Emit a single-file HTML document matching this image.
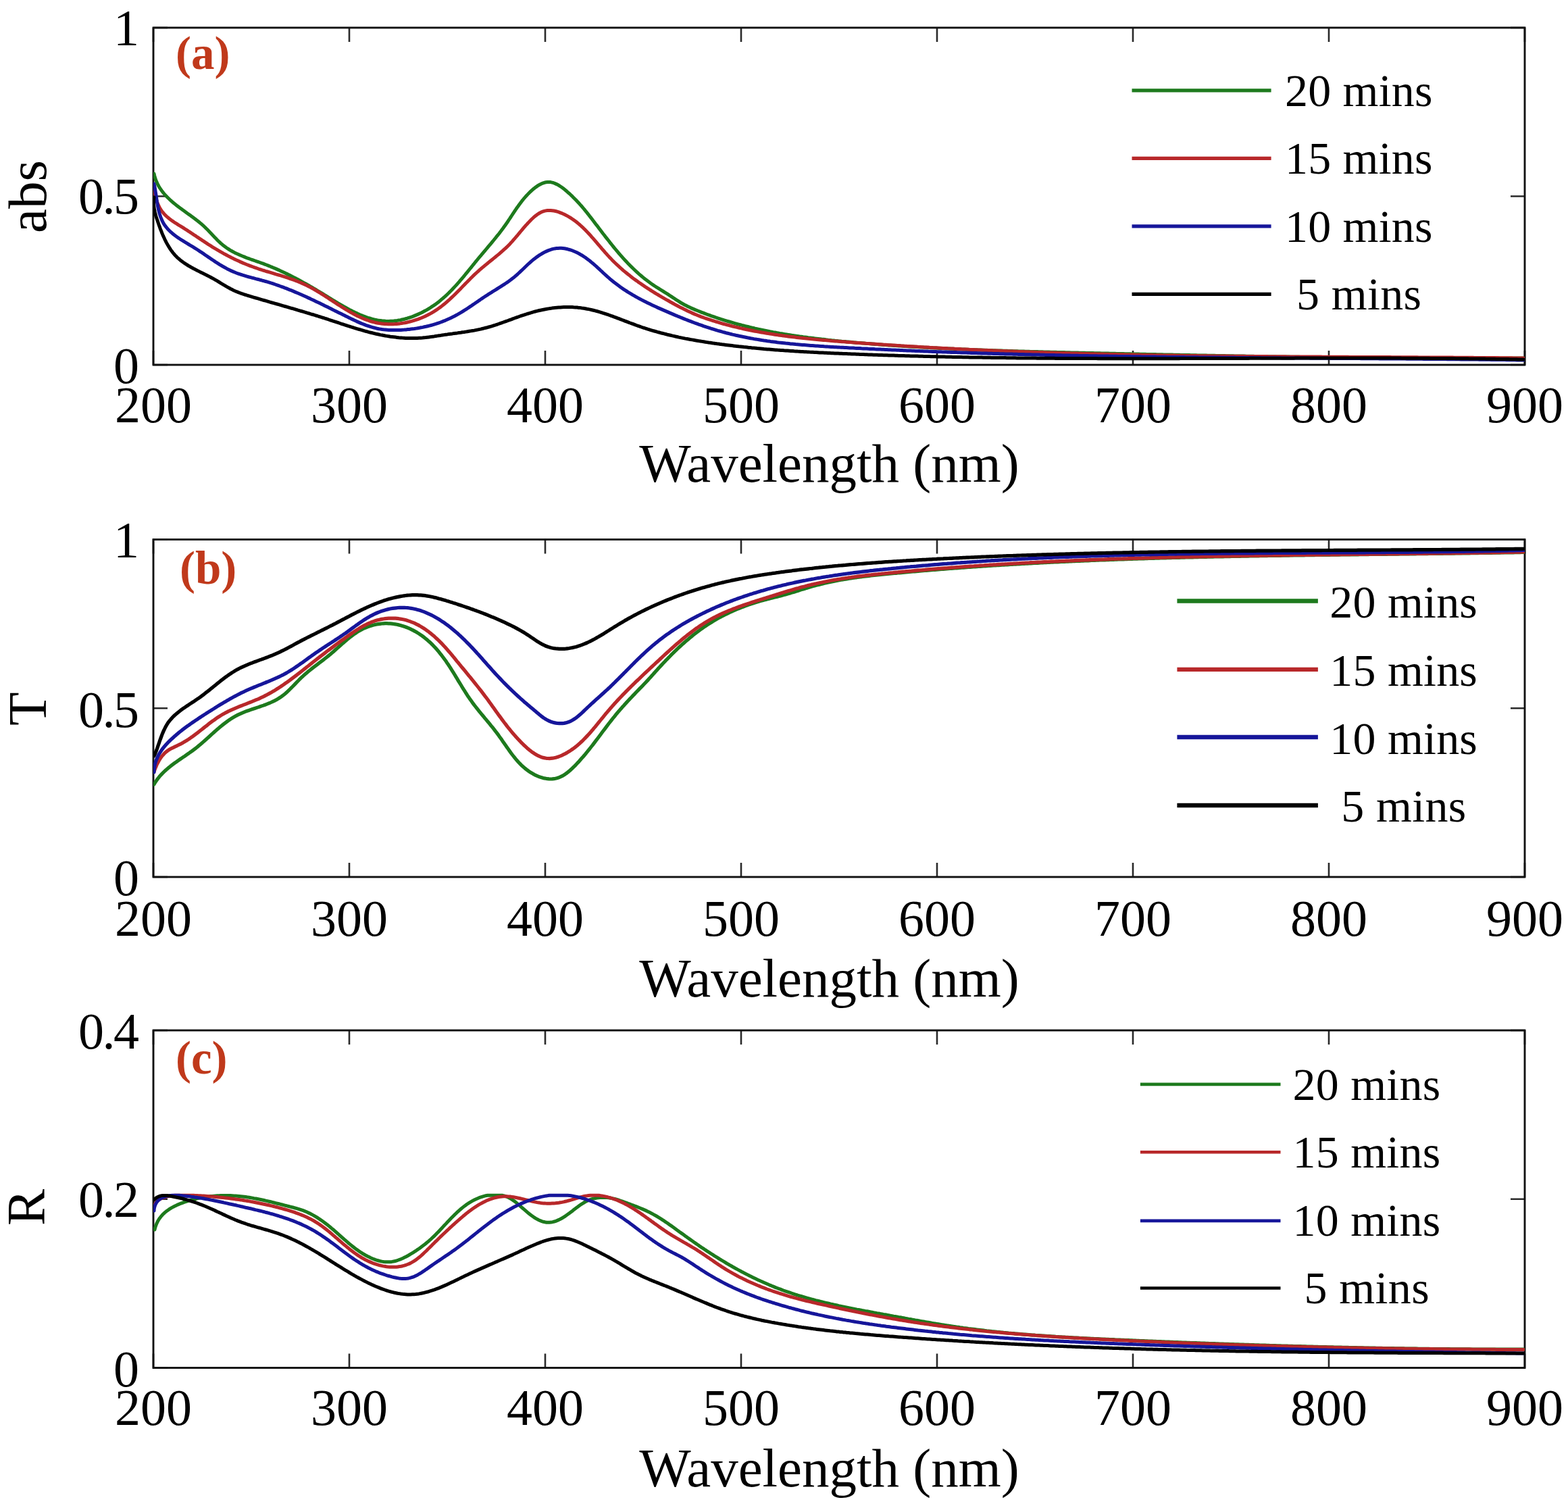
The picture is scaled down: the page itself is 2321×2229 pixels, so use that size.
<!DOCTYPE html>
<html><head><meta charset="utf-8"><title>Spectra</title>
<style>html,body{margin:0;padding:0;background:#fff;}svg{display:block;}text{font-family:"Liberation Serif", "Times New Roman", serif;fill:#000;}</style></head><body>
<svg xmlns="http://www.w3.org/2000/svg" width="2321" height="2229" viewBox="0 0 2321 2229">
<rect width="2321" height="2229" fill="#fff"/>
<g id="panel-a">
<path d="M227,540 V519 M227,41 V62 M517,540 V519 M517,41 V62 M807,540 V519 M807,41 V62 M1097,540 V519 M1097,41 V62 M1387,540 V519 M1387,41 V62 M1677,540 V519 M1677,41 V62 M1967,540 V519 M1967,41 V62 M2257,540 V519 M2257,41 V62 M227,540 H248 M2257,540 H2236 M227,290.5 H248 M2257,290.5 H2236 M227,41 H248 M2257,41 H2236" stroke="#2a2a2a" stroke-width="2.6" fill="none"/>
<rect x="227" y="41" width="2030" height="499" fill="none" stroke="#111" stroke-width="2.9"/>
<clipPath id="clip-a"><rect x="227" y="41" width="2030" height="499"/></clipPath>
<g clip-path="url(#clip-a)" fill="none" stroke-width="5" stroke-linejoin="round" stroke-linecap="round">
<path stroke="#1d7a1d" d="M228.0,257.0L228.6,259.6 229.3,262.1 230.0,264.6 230.9,267.0 231.9,269.3 232.9,271.6 234.0,273.8 235.2,276.0 236.5,278.1 237.9,280.1 239.3,282.2 240.8,284.1 242.3,286.0 243.9,287.9 245.6,289.7 247.3,291.5 249.1,293.3 250.9,295.0 252.7,296.7 254.6,298.4 256.5,300.0 258.5,301.6 260.4,303.2 262.4,304.7 264.4,306.3 266.4,307.8 268.5,309.3 270.5,310.8 272.6,312.3 274.6,313.7 276.6,315.2 278.7,316.7 280.7,318.1 282.7,319.6 284.7,321.0 286.7,322.5 288.7,324.0 290.6,325.5 292.6,327.0 294.5,328.5 296.4,330.1 298.3,331.7 300.2,333.3 302.0,335.0 303.8,336.7 305.6,338.5 307.4,340.2 309.1,342.1 310.9,343.9 312.6,345.7 314.3,347.6 316.1,349.4 317.8,351.3 319.6,353.1 321.4,354.9 323.2,356.7 325.0,358.4 326.8,360.1 328.7,361.7 330.6,363.3 332.6,364.8 334.6,366.3 336.6,367.7 338.7,369.0 340.8,370.3 342.9,371.5 345.1,372.7 347.3,373.9 349.5,375.0 351.8,376.0 354.1,377.1 356.4,378.0 358.7,379.0 361.0,379.9 363.3,380.9 365.7,381.8 368.1,382.6 370.4,383.5 372.8,384.3 375.2,385.2 377.6,386.0 380.0,386.9 382.3,387.7 384.7,388.5 387.1,389.4 389.5,390.2 391.8,391.1 394.2,392.0 396.5,392.9 398.8,393.8 401.1,394.8 403.4,395.7 405.7,396.7 408.0,397.6 410.2,398.6 412.5,399.6 414.8,400.7 417.0,401.7 419.2,402.7 421.5,403.8 423.7,404.9 425.9,405.9 428.1,407.0 430.3,408.1 432.5,409.3 434.7,410.4 436.9,411.5 439.1,412.7 441.2,413.8 443.4,415.0 445.6,416.2 447.7,417.4 449.9,418.6 452.1,419.8 454.2,421.0 456.4,422.2 458.5,423.5 460.7,424.7 462.9,426.0 465.0,427.3 467.2,428.5 469.3,429.8 471.5,431.1 473.6,432.4 475.8,433.7 477.9,435.0 480.1,436.3 482.3,437.6 484.4,439.0 486.6,440.3 488.8,441.6 491.0,443.0 493.1,444.3 495.3,445.6 497.5,447.0 499.7,448.3 501.9,449.6 504.1,450.9 506.3,452.2 508.5,453.5 510.8,454.7 513.0,456.0 515.2,457.2 517.4,458.4 519.7,459.5 521.9,460.7 524.2,461.8 526.4,462.9 528.7,463.9 531.0,465.0 533.2,466.0 535.5,466.9 537.8,467.8 540.1,468.7 542.4,469.5 544.7,470.3 547.1,471.0 549.4,471.7 551.7,472.3 554.1,472.9 556.4,473.4 558.8,473.9 561.2,474.3 563.6,474.6 565.9,474.9 568.3,475.1 570.8,475.3 573.2,475.4 575.6,475.4 578.0,475.3 580.5,475.2 582.9,475.0 585.4,474.7 587.9,474.4 590.3,474.0 592.8,473.6 595.2,473.0 597.7,472.5 600.2,471.8 602.6,471.2 605.0,470.4 607.5,469.6 609.9,468.8 612.3,467.9 614.7,466.9 617.1,465.9 619.4,464.9 621.8,463.8 624.1,462.7 626.4,461.5 628.6,460.3 630.9,459.1 633.1,457.8 635.3,456.5 637.5,455.1 639.6,453.7 641.7,452.3 643.8,450.9 645.8,449.4 647.8,447.9 649.8,446.4 651.7,444.8 653.6,443.2 655.5,441.6 657.4,440.0 659.2,438.4 661.0,436.7 662.8,435.0 664.6,433.3 666.3,431.5 668.1,429.8 669.8,428.0 671.4,426.2 673.1,424.4 674.8,422.6 676.4,420.8 678.1,418.9 679.7,417.1 681.3,415.2 682.9,413.3 684.5,411.5 686.1,409.6 687.6,407.7 689.2,405.7 690.8,403.8 692.4,401.9 693.9,400.0 695.5,398.0 697.1,396.1 698.6,394.2 700.2,392.2 701.8,390.3 703.4,388.3 704.9,386.4 706.5,384.5 708.1,382.5 709.7,380.6 711.4,378.7 713.0,376.7 714.6,374.8 716.2,372.9 717.9,371.0 719.5,369.0 721.1,367.1 722.7,365.2 724.4,363.2 726.0,361.3 727.6,359.4 729.2,357.4 730.8,355.5 732.4,353.5 734.0,351.6 735.5,349.6 737.1,347.7 738.7,345.7 740.2,343.7 741.7,341.8 743.2,339.8 744.7,337.8 746.1,335.8 747.6,333.7 749.0,331.7 750.4,329.7 751.8,327.7 753.1,325.6 754.5,323.6 755.9,321.5 757.2,319.5 758.6,317.4 759.9,315.4 761.3,313.3 762.7,311.3 764.0,309.2 765.4,307.2 766.9,305.2 768.3,303.2 769.8,301.2 771.3,299.2 772.8,297.2 774.4,295.3 776.0,293.3 777.7,291.4 779.4,289.5 781.2,287.6 783.0,285.7 784.9,283.9 786.8,282.1 788.8,280.3 790.8,278.7 792.9,277.1 795.0,275.6 797.1,274.2 799.3,273.0 801.5,271.9 803.7,271.0 805.9,270.3 808.2,269.8 810.4,269.5 812.7,269.4 815.0,269.6 817.2,270.1 819.5,270.7 821.7,271.6 823.9,272.6 826.1,273.7 828.3,275.1 830.5,276.5 832.6,278.0 834.7,279.6 836.8,281.3 838.8,283.0 840.8,284.8 842.8,286.5 844.7,288.3 846.6,290.1 848.4,291.9 850.2,293.7 852.0,295.5 853.7,297.3 855.5,299.2 857.2,301.0 858.8,302.9 860.5,304.7 862.1,306.6 863.7,308.5 865.3,310.4 866.8,312.3 868.4,314.2 869.9,316.1 871.4,318.0 872.9,320.0 874.4,321.9 875.9,323.8 877.4,325.8 878.9,327.7 880.4,329.7 881.9,331.7 883.4,333.6 884.9,335.6 886.4,337.6 887.9,339.5 889.4,341.5 890.9,343.5 892.4,345.5 894.0,347.5 895.5,349.4 897.0,351.4 898.6,353.4 900.1,355.3 901.7,357.3 903.2,359.3 904.8,361.2 906.4,363.2 907.9,365.1 909.5,367.1 911.1,369.0 912.7,370.9 914.4,372.9 916.0,374.8 917.6,376.7 919.3,378.6 920.9,380.4 922.6,382.3 924.3,384.2 926.0,386.0 927.7,387.8 929.4,389.7 931.2,391.5 932.9,393.2 934.7,395.0 936.5,396.8 938.3,398.5 940.1,400.2 941.9,401.9 943.8,403.6 945.6,405.3 947.5,406.9 949.4,408.5 951.3,410.1 953.2,411.7 955.2,413.3 957.2,414.8 959.2,416.3 961.2,417.8 963.2,419.3 965.2,420.7 967.3,422.1 969.4,423.5 971.5,424.9 973.6,426.2 975.8,427.5 977.9,428.9 980.0,430.2 982.2,431.5 984.3,432.8 986.4,434.1 988.5,435.4 990.6,436.8 992.6,438.2 994.7,439.5 996.7,440.9 998.8,442.2 1000.8,443.6 1002.9,444.9 1004.9,446.2 1007.0,447.5 1009.1,448.8 1011.3,450.0 1013.5,451.2 1015.7,452.3 1017.9,453.4 1020.2,454.5 1022.4,455.6 1024.7,456.6 1027.1,457.6 1029.4,458.6 1031.7,459.5 1034.1,460.5 1036.4,461.4 1038.7,462.3 1041.1,463.2 1043.5,464.1 1045.8,465.0 1048.2,465.9 1050.5,466.7 1052.9,467.6 1055.3,468.4 1057.6,469.2 1060.0,470.0 1062.4,470.8 1064.8,471.6 1067.1,472.4 1069.5,473.1 1071.9,473.9 1074.3,474.6 1076.7,475.3 1079.1,476.0 1081.5,476.7 1083.9,477.4 1086.3,478.1 1088.7,478.8 1091.1,479.5 1093.5,480.1 1095.9,480.7 1098.3,481.4 1100.7,482.0 1103.2,482.6 1105.6,483.2 1108.0,483.8 1110.4,484.4 1112.8,485.0 1115.3,485.5 1117.7,486.1 1120.1,486.6 1122.6,487.2 1125.0,487.7 1127.4,488.2 1129.9,488.7 1132.3,489.2 1134.8,489.7 1137.2,490.2 1139.7,490.7 1142.1,491.1 1144.6,491.6 1147.0,492.0 1149.5,492.5 1151.9,492.9 1154.4,493.4 1156.8,493.8 1159.3,494.2 1161.8,494.6 1164.2,495.0 1166.7,495.4 1169.1,495.8 1171.6,496.2 1174.1,496.6 1176.5,496.9 1179.0,497.3 1181.5,497.6 1184.0,498.0 1186.4,498.3 1188.9,498.7 1191.4,499.0 1193.8,499.3 1196.3,499.7 1198.8,500.0 1201.3,500.3 1203.8,500.6 1206.2,500.9 1208.7,501.2 1211.2,501.5 1213.7,501.8 1216.2,502.1 1218.7,502.3 1221.1,502.6 1223.6,502.9 1226.1,503.2 1228.6,503.4 1231.1,503.7 1233.6,503.9 1236.1,504.2 1238.5,504.4 1241.0,504.7 1243.5,504.9 1246.0,505.2 1248.5,505.4 1251.0,505.6 1253.5,505.9 1256.0,506.1 1258.5,506.3 1261.0,506.5 1263.4,506.8 1265.9,507.0 1268.4,507.2 1270.9,507.4 1273.4,507.6 1275.9,507.8 1278.4,508.0 1280.9,508.2 1283.4,508.4 1285.9,508.6 1288.4,508.8 1290.9,509.0 1293.3,509.2 1295.8,509.4 1298.3,509.6 1300.8,509.8 1303.3,510.0 1305.8,510.2 1308.3,510.4 1310.8,510.5 1313.3,510.7 1315.8,510.9 1318.3,511.1 1320.8,511.2 1323.3,511.4 1325.8,511.6 1328.2,511.8 1330.7,511.9 1333.2,512.1 1335.7,512.2 1338.2,512.4 1340.7,512.6 1343.2,512.7 1345.7,512.9 1348.2,513.0 1350.7,513.2 1353.2,513.3 1355.7,513.5 1358.2,513.6 1360.7,513.8 1363.2,513.9 1365.7,514.0 1368.2,514.2 1370.6,514.3 1373.1,514.5 1375.6,514.6 1378.1,514.7 1380.6,514.9 1383.1,515.0 1385.6,515.1 1388.1,515.2 1390.6,515.4 1393.1,515.5 1395.6,515.6 1398.1,515.7 1400.6,515.9 1403.1,516.0 1405.6,516.1 1408.1,516.2 1410.6,516.3 1413.1,516.4 1415.6,516.5 1418.1,516.7 1420.6,516.8 1423.1,516.9 1425.6,517.0 1428.0,517.1 1430.5,517.2 1433.0,517.3 1435.5,517.4 1438.0,517.5 1440.5,517.6 1443.0,517.7 1445.5,517.8 1448.0,517.9 1450.5,518.0 1453.0,518.1 1455.5,518.2 1458.0,518.2 1460.5,518.3 1463.0,518.4 1465.5,518.5 1468.0,518.6 1470.5,518.7 1473.0,518.8 1475.5,518.9 1478.0,518.9 1480.5,519.0 1483.0,519.1 1485.5,519.2 1488.0,519.3 1490.5,519.3 1493.0,519.4 1495.5,519.5 1498.0,519.6 1500.5,519.7 1503.0,519.7 1505.5,519.8 1508.0,519.9 1510.5,520.0 1513.0,520.0 1515.4,520.1 1517.9,520.2 1520.4,520.2 1522.9,520.3 1525.4,520.4 1527.9,520.4 1530.4,520.5 1532.9,520.6 1535.4,520.6 1537.9,520.7 1540.4,520.8 1542.9,520.8 1545.4,520.9 1547.9,521.0 1550.4,521.0 1552.9,521.1 1555.4,521.2 1557.9,521.2 1560.4,521.3 1562.9,521.3 1565.4,521.4 1567.9,521.5 1570.4,521.5 1572.9,521.6 1575.4,521.6 1577.9,521.7 1580.4,521.8 1582.9,521.8 1585.4,521.9 1587.9,521.9 1590.4,522.0 1592.9,522.1 1595.4,522.1 1597.9,522.2 1600.4,522.2 1602.9,522.3 1605.4,522.3 1607.9,522.4 1610.4,522.5 1612.9,522.5 1615.4,522.6 1617.9,522.6 1620.4,522.7 1622.9,522.7 1625.4,522.8 1627.9,522.8 1630.4,522.9 1632.9,523.0 1635.4,523.0 1637.9,523.1 1640.4,523.1 1642.9,523.2 1645.4,523.2 1647.9,523.3 1650.4,523.3 1652.8,523.4 1655.3,523.5 1657.8,523.5 1660.3,523.6 1662.8,523.6 1665.3,523.7 1667.8,523.7 1670.3,523.8 1672.8,523.8 1675.3,523.9 1677.8,523.9 1680.3,524.0 1682.8,524.1 1685.3,524.1 1687.8,524.2 1690.3,524.2 1692.8,524.3 1695.3,524.3 1697.8,524.4 1700.3,524.4 1702.8,524.5 1705.3,524.5 1707.8,524.6 1710.3,524.6 1712.8,524.7 1715.3,524.7 1717.8,524.8 1720.3,524.8 1722.8,524.9 1725.3,524.9 1727.8,525.0 1730.3,525.0 1732.8,525.1 1735.3,525.1 1737.8,525.2 1740.3,525.2 1742.8,525.3 1745.3,525.3 1747.8,525.4 1750.3,525.4 1752.8,525.5 1755.3,525.5 1757.8,525.6 1760.3,525.6 1762.8,525.7 1765.3,525.7 1767.8,525.8 1770.3,525.8 1772.8,525.9 1775.3,525.9 1777.8,526.0 1780.3,526.0 1782.8,526.1 1785.3,526.1 1787.8,526.2 1790.3,526.2 1792.8,526.2 1795.2,526.3 1797.7,526.3 1800.2,526.4 1802.7,526.4 1805.2,526.5 1807.7,526.5 1810.2,526.6 1812.7,526.6 1815.2,526.7 1817.7,526.7 1820.2,526.7 1822.7,526.8 1825.2,526.8 1827.7,526.9 1830.2,526.9 1832.7,527.0 1835.2,527.0 1837.7,527.0 1840.2,527.1 1842.7,527.1 1845.2,527.2 1847.7,527.2 1850.2,527.2 1852.7,527.3 1855.2,527.3 1857.7,527.4 1860.2,527.4 1862.7,527.5 1865.2,527.5 1867.7,527.5 1870.2,527.6 1872.7,527.6 1875.2,527.6 1877.7,527.7 1880.2,527.7 1882.7,527.8 1885.2,527.8 1887.7,527.8 1890.2,527.9 1892.7,527.9 1895.2,528.0 1897.7,528.0 1900.2,528.0 1902.7,528.1 1905.2,528.1 1907.7,528.1 1910.2,528.2 1912.7,528.2 1915.2,528.2 1917.7,528.3 1920.2,528.3 1922.7,528.3 1925.2,528.4 1927.7,528.4 1930.2,528.4 1932.7,528.5 1935.2,528.5 1937.7,528.5 1940.2,528.6 1942.7,528.6 1945.1,528.6 1947.6,528.7 1950.1,528.7 1952.6,528.7 1955.1,528.8 1957.6,528.8 1960.1,528.8 1962.6,528.8 1965.1,528.9 1967.6,528.9 1970.1,528.9 1972.6,529.0 1975.1,529.0 1977.6,529.0 1980.1,529.0 1982.6,529.1 1985.1,529.1 1987.6,529.1 1990.1,529.2 1992.6,529.2 1995.1,529.2 1997.6,529.2 2000.1,529.3 2002.6,529.3 2005.1,529.3 2007.6,529.3 2010.1,529.4 2012.6,529.4 2015.1,529.4 2017.6,529.4 2020.1,529.5 2022.6,529.5 2025.1,529.5 2027.6,529.5 2030.1,529.5 2032.6,529.6 2035.1,529.6 2037.6,529.6 2040.1,529.6 2042.6,529.6 2045.1,529.7 2047.6,529.7 2050.1,529.7 2052.6,529.7 2055.1,529.7 2057.6,529.8 2060.1,529.8 2062.6,529.8 2065.1,529.8 2067.6,529.8 2070.1,529.8 2072.6,529.9 2075.1,529.9 2077.6,529.9 2080.1,529.9 2082.6,529.9 2085.1,529.9 2087.6,529.9 2090.1,530.0 2092.6,530.0 2095.1,530.0 2097.6,530.0 2100.1,530.0 2102.6,530.0 2105.1,530.0 2107.6,530.0 2110.1,530.1 2112.6,530.1 2115.1,530.1 2117.6,530.1 2120.1,530.1 2122.6,530.1 2125.0,530.1 2127.5,530.1 2130.0,530.1 2132.5,530.1 2135.0,530.1 2137.5,530.1 2140.0,530.1 2142.5,530.2 2145.0,530.2 2147.5,530.2 2150.0,530.2 2152.5,530.2 2155.0,530.2 2157.5,530.2 2160.0,530.2 2162.5,530.2 2165.0,530.2 2167.5,530.2 2170.0,530.2 2172.5,530.2 2175.0,530.2 2177.5,530.2 2180.0,530.2 2182.5,530.2 2185.0,530.2 2187.5,530.2 2190.0,530.2 2192.5,530.2 2195.0,530.2 2197.5,530.2 2200.0,530.2 2202.5,530.2 2205.0,530.2 2207.5,530.2 2210.0,530.2 2212.5,530.2 2215.0,530.1 2217.5,530.1 2220.0,530.1 2222.5,530.1 2225.0,530.1 2227.5,530.1 2230.0,530.1 2232.5,530.1 2235.0,530.1 2237.5,530.1 2240.0,530.1 2242.5,530.1 2245.0,530.0 2247.5,530.0 2250.0,530.0 2252.5,530.0 2255.0,530.0"/>
<path stroke="#b8282a" d="M228.0,282.0L228.4,284.3 228.9,286.7 229.5,289.2 230.1,291.6 230.8,294.1 231.6,296.5 232.5,299.0 233.5,301.4 234.5,303.7 235.6,306.0 236.8,308.3 238.1,310.4 239.5,312.5 241.1,314.4 242.6,316.3 244.3,318.1 246.1,319.8 247.9,321.4 249.8,323.0 251.7,324.5 253.7,326.0 255.7,327.4 257.7,328.8 259.8,330.1 261.9,331.4 264.0,332.8 266.2,334.1 268.3,335.4 270.4,336.7 272.5,338.0 274.6,339.4 276.7,340.7 278.8,342.1 280.9,343.4 283.0,344.8 285.0,346.2 287.1,347.6 289.2,348.9 291.2,350.3 293.3,351.7 295.4,353.1 297.4,354.4 299.5,355.8 301.6,357.2 303.7,358.6 305.7,359.9 307.8,361.3 309.9,362.6 312.0,363.9 314.1,365.3 316.2,366.6 318.4,367.9 320.5,369.1 322.6,370.4 324.8,371.7 327.0,372.9 329.1,374.1 331.3,375.4 333.5,376.5 335.7,377.7 337.9,378.9 340.2,380.0 342.4,381.2 344.6,382.3 346.9,383.4 349.1,384.5 351.4,385.5 353.7,386.6 355.9,387.6 358.2,388.6 360.5,389.6 362.8,390.5 365.1,391.5 367.5,392.4 369.8,393.3 372.1,394.2 374.5,395.0 376.8,395.9 379.2,396.7 381.5,397.5 383.9,398.3 386.2,399.0 388.6,399.8 391.0,400.5 393.4,401.3 395.7,402.0 398.1,402.7 400.5,403.4 402.9,404.1 405.3,404.8 407.6,405.6 410.0,406.3 412.4,407.0 414.8,407.7 417.1,408.4 419.5,409.2 421.9,409.9 424.2,410.7 426.6,411.5 428.9,412.3 431.3,413.1 433.6,413.9 435.9,414.7 438.3,415.6 440.6,416.5 442.9,417.5 445.2,418.4 447.4,419.4 449.7,420.4 452.0,421.5 454.2,422.6 456.4,423.7 458.7,424.8 460.9,426.0 463.1,427.2 465.3,428.5 467.5,429.7 469.6,431.0 471.8,432.3 474.0,433.7 476.1,435.0 478.3,436.3 480.4,437.7 482.5,439.1 484.7,440.5 486.8,441.9 488.9,443.3 491.1,444.7 493.2,446.1 495.3,447.5 497.5,448.9 499.6,450.3 501.7,451.6 503.9,453.0 506.0,454.4 508.1,455.7 510.3,457.0 512.4,458.4 514.6,459.6 516.7,460.9 518.9,462.2 521.1,463.4 523.2,464.6 525.4,465.7 527.6,466.9 529.8,468.0 532.1,469.0 534.3,470.0 536.5,471.0 538.8,472.0 541.0,472.9 543.3,473.7 545.6,474.5 547.9,475.3 550.3,476.0 552.6,476.6 554.9,477.2 557.3,477.7 559.7,478.2 562.1,478.6 564.6,478.9 567.0,479.2 569.5,479.5 571.9,479.6 574.4,479.7 576.9,479.8 579.4,479.8 581.9,479.7 584.4,479.6 586.9,479.4 589.4,479.2 591.9,478.9 594.5,478.5 597.0,478.1 599.5,477.7 602.0,477.2 604.5,476.6 606.9,476.0 609.4,475.4 611.9,474.7 614.3,473.9 616.7,473.1 619.1,472.3 621.5,471.4 623.9,470.5 626.2,469.5 628.6,468.4 630.9,467.4 633.1,466.2 635.4,465.1 637.6,463.9 639.8,462.6 641.9,461.4 644.0,460.0 646.1,458.7 648.1,457.3 650.2,455.8 652.2,454.4 654.1,452.9 656.1,451.3 658.0,449.8 659.9,448.2 661.7,446.6 663.6,444.9 665.4,443.3 667.2,441.6 669.0,439.9 670.8,438.2 672.6,436.5 674.4,434.7 676.1,433.0 677.9,431.2 679.6,429.5 681.4,427.7 683.1,425.9 684.8,424.1 686.6,422.3 688.3,420.5 690.0,418.7 691.8,417.0 693.5,415.2 695.3,413.4 697.1,411.6 698.8,409.9 700.6,408.1 702.4,406.4 704.3,404.7 706.1,403.0 708.0,401.3 709.8,399.7 711.7,398.0 713.6,396.4 715.6,394.8 717.5,393.2 719.4,391.6 721.4,390.0 723.3,388.4 725.3,386.8 727.2,385.3 729.2,383.7 731.1,382.1 733.1,380.5 735.0,378.9 736.9,377.4 738.8,375.8 740.7,374.1 742.6,372.5 744.4,370.9 746.3,369.2 748.1,367.6 749.9,365.9 751.6,364.2 753.4,362.4 755.1,360.7 756.7,358.9 758.4,357.1 760.0,355.2 761.6,353.4 763.2,351.5 764.8,349.6 766.4,347.8 768.0,345.8 769.6,343.9 771.2,342.0 772.8,340.1 774.4,338.2 776.1,336.2 777.7,334.3 779.5,332.4 781.2,330.5 783.0,328.6 784.8,326.7 786.7,324.8 788.6,323.0 790.6,321.2 792.6,319.5 794.7,317.9 796.8,316.5 798.9,315.2 801.1,314.0 803.3,313.1 805.6,312.4 807.9,311.9 810.3,311.5 812.7,311.4 815.1,311.5 817.5,311.7 819.9,312.0 822.3,312.5 824.7,313.2 827.1,313.9 829.4,314.8 831.8,315.7 834.1,316.7 836.3,317.8 838.5,318.9 840.7,320.1 842.8,321.3 844.9,322.6 846.9,324.0 849.0,325.4 850.9,326.8 852.9,328.3 854.8,329.8 856.7,331.4 858.6,333.0 860.4,334.7 862.2,336.3 864.0,338.1 865.8,339.8 867.5,341.6 869.3,343.4 871.0,345.2 872.7,347.0 874.4,348.9 876.0,350.8 877.7,352.7 879.4,354.6 881.0,356.5 882.7,358.4 884.3,360.3 886.0,362.3 887.6,364.2 889.3,366.1 890.9,368.1 892.6,370.0 894.3,371.9 895.9,373.8 897.6,375.7 899.3,377.6 901.0,379.4 902.7,381.3 904.5,383.1 906.2,384.9 908.0,386.7 909.8,388.5 911.6,390.2 913.4,391.9 915.3,393.6 917.1,395.3 919.0,397.0 920.8,398.6 922.7,400.3 924.6,401.9 926.6,403.5 928.5,405.0 930.4,406.6 932.4,408.1 934.4,409.7 936.3,411.2 938.3,412.7 940.3,414.1 942.4,415.6 944.4,417.1 946.4,418.5 948.5,419.9 950.5,421.3 952.6,422.7 954.6,424.1 956.7,425.5 958.8,426.8 960.9,428.2 963.0,429.5 965.1,430.8 967.2,432.2 969.3,433.5 971.5,434.8 973.6,436.0 975.7,437.3 977.9,438.6 980.0,439.8 982.2,441.1 984.3,442.3 986.5,443.6 988.7,444.8 990.8,446.0 993.0,447.3 995.2,448.5 997.4,449.7 999.5,450.9 1001.7,452.0 1003.9,453.2 1006.1,454.4 1008.3,455.5 1010.5,456.6 1012.8,457.7 1015.0,458.8 1017.2,459.9 1019.5,461.0 1021.7,462.0 1024.0,463.1 1026.3,464.1 1028.6,465.1 1030.9,466.0 1033.2,467.0 1035.5,467.9 1037.9,468.8 1040.2,469.6 1042.6,470.5 1044.9,471.3 1047.3,472.1 1049.7,472.9 1052.1,473.7 1054.5,474.5 1056.9,475.2 1059.3,476.0 1061.7,476.7 1064.1,477.4 1066.5,478.1 1068.9,478.8 1071.3,479.5 1073.8,480.1 1076.2,480.8 1078.6,481.4 1081.0,482.0 1083.4,482.7 1085.9,483.3 1088.3,483.9 1090.7,484.4 1093.2,485.0 1095.6,485.6 1098.0,486.1 1100.5,486.7 1102.9,487.2 1105.3,487.7 1107.8,488.2 1110.2,488.7 1112.7,489.2 1115.1,489.7 1117.6,490.2 1120.0,490.6 1122.5,491.1 1124.9,491.5 1127.4,492.0 1129.8,492.4 1132.3,492.8 1134.7,493.2 1137.2,493.6 1139.7,494.0 1142.1,494.4 1144.6,494.8 1147.1,495.2 1149.5,495.5 1152.0,495.9 1154.5,496.2 1156.9,496.6 1159.4,496.9 1161.9,497.3 1164.3,497.6 1166.8,497.9 1169.3,498.2 1171.8,498.5 1174.3,498.8 1176.7,499.1 1179.2,499.4 1181.7,499.7 1184.2,500.0 1186.6,500.2 1189.1,500.5 1191.6,500.8 1194.1,501.0 1196.6,501.3 1199.1,501.5 1201.5,501.8 1204.0,502.0 1206.5,502.3 1209.0,502.5 1211.5,502.7 1214.0,503.0 1216.5,503.2 1219.0,503.4 1221.4,503.6 1223.9,503.8 1226.4,504.0 1228.9,504.2 1231.4,504.5 1233.9,504.7 1236.4,504.9 1238.9,505.1 1241.4,505.3 1243.9,505.5 1246.4,505.7 1248.8,505.8 1251.3,506.0 1253.8,506.2 1256.3,506.4 1258.8,506.6 1261.3,506.8 1263.8,507.0 1266.3,507.2 1268.8,507.4 1271.3,507.5 1273.8,507.7 1276.3,507.9 1278.8,508.1 1281.2,508.3 1283.7,508.4 1286.2,508.6 1288.7,508.8 1291.2,509.0 1293.7,509.1 1296.2,509.3 1298.7,509.5 1301.2,509.7 1303.7,509.8 1306.2,510.0 1308.7,510.2 1311.2,510.3 1313.6,510.5 1316.1,510.7 1318.6,510.8 1321.1,511.0 1323.6,511.1 1326.1,511.3 1328.6,511.5 1331.1,511.6 1333.6,511.8 1336.1,511.9 1338.6,512.1 1341.1,512.2 1343.6,512.4 1346.1,512.5 1348.6,512.7 1351.0,512.8 1353.5,513.0 1356.0,513.1 1358.5,513.3 1361.0,513.4 1363.5,513.6 1366.0,513.7 1368.5,513.9 1371.0,514.0 1373.5,514.1 1376.0,514.3 1378.5,514.4 1381.0,514.6 1383.5,514.7 1386.0,514.8 1388.5,515.0 1390.9,515.1 1393.4,515.2 1395.9,515.4 1398.4,515.5 1400.9,515.6 1403.4,515.8 1405.9,515.9 1408.4,516.0 1410.9,516.1 1413.4,516.3 1415.9,516.4 1418.4,516.5 1420.9,516.6 1423.4,516.8 1425.9,516.9 1428.4,517.0 1430.9,517.1 1433.4,517.2 1435.9,517.4 1438.3,517.5 1440.8,517.6 1443.3,517.7 1445.8,517.8 1448.3,517.9 1450.8,518.0 1453.3,518.2 1455.8,518.3 1458.3,518.4 1460.8,518.5 1463.3,518.6 1465.8,518.7 1468.3,518.8 1470.8,518.9 1473.3,519.0 1475.8,519.1 1478.3,519.2 1480.8,519.3 1483.3,519.4 1485.8,519.5 1488.3,519.6 1490.7,519.7 1493.2,519.8 1495.7,519.9 1498.2,520.0 1500.7,520.1 1503.2,520.2 1505.7,520.3 1508.2,520.4 1510.7,520.5 1513.2,520.6 1515.7,520.7 1518.2,520.8 1520.7,520.8 1523.2,520.9 1525.7,521.0 1528.2,521.1 1530.7,521.2 1533.2,521.3 1535.7,521.4 1538.2,521.5 1540.7,521.5 1543.2,521.6 1545.7,521.7 1548.2,521.8 1550.6,521.9 1553.1,521.9 1555.6,522.0 1558.1,522.1 1560.6,522.2 1563.1,522.3 1565.6,522.3 1568.1,522.4 1570.6,522.5 1573.1,522.6 1575.6,522.6 1578.1,522.7 1580.6,522.8 1583.1,522.8 1585.6,522.9 1588.1,523.0 1590.6,523.1 1593.1,523.1 1595.6,523.2 1598.1,523.3 1600.6,523.3 1603.1,523.4 1605.6,523.5 1608.1,523.5 1610.6,523.6 1613.1,523.7 1615.6,523.7 1618.1,523.8 1620.6,523.8 1623.1,523.9 1625.5,524.0 1628.0,524.0 1630.5,524.1 1633.0,524.1 1635.5,524.2 1638.0,524.3 1640.5,524.3 1643.0,524.4 1645.5,524.4 1648.0,524.5 1650.5,524.5 1653.0,524.6 1655.5,524.7 1658.0,524.7 1660.5,524.8 1663.0,524.8 1665.5,524.9 1668.0,524.9 1670.5,525.0 1673.0,525.0 1675.5,525.1 1678.0,525.1 1680.5,525.2 1683.0,525.2 1685.5,525.3 1688.0,525.3 1690.5,525.4 1693.0,525.4 1695.5,525.4 1698.0,525.5 1700.5,525.5 1703.0,525.6 1705.5,525.6 1708.0,525.7 1710.5,525.7 1713.0,525.7 1715.5,525.8 1718.0,525.8 1720.5,525.9 1722.9,525.9 1725.4,526.0 1727.9,526.0 1730.4,526.0 1732.9,526.1 1735.4,526.1 1737.9,526.1 1740.4,526.2 1742.9,526.2 1745.4,526.3 1747.9,526.3 1750.4,526.3 1752.9,526.4 1755.4,526.4 1757.9,526.4 1760.4,526.5 1762.9,526.5 1765.4,526.5 1767.9,526.6 1770.4,526.6 1772.9,526.6 1775.4,526.7 1777.9,526.7 1780.4,526.7 1782.9,526.7 1785.4,526.8 1787.9,526.8 1790.4,526.8 1792.9,526.9 1795.4,526.9 1797.9,526.9 1800.4,526.9 1802.9,527.0 1805.4,527.0 1807.9,527.0 1810.4,527.1 1812.9,527.1 1815.4,527.1 1817.9,527.1 1820.4,527.2 1822.9,527.2 1825.4,527.2 1827.9,527.2 1830.4,527.3 1832.9,527.3 1835.4,527.3 1837.9,527.3 1840.4,527.3 1842.9,527.4 1845.4,527.4 1847.8,527.4 1850.3,527.4 1852.8,527.5 1855.3,527.5 1857.8,527.5 1860.3,527.5 1862.8,527.5 1865.3,527.6 1867.8,527.6 1870.3,527.6 1872.8,527.6 1875.3,527.6 1877.8,527.7 1880.3,527.7 1882.8,527.7 1885.3,527.7 1887.8,527.7 1890.3,527.7 1892.8,527.8 1895.3,527.8 1897.8,527.8 1900.3,527.8 1902.8,527.8 1905.3,527.9 1907.8,527.9 1910.3,527.9 1912.8,527.9 1915.3,527.9 1917.8,527.9 1920.3,527.9 1922.8,528.0 1925.3,528.0 1927.8,528.0 1930.3,528.0 1932.8,528.0 1935.3,528.0 1937.8,528.0 1940.3,528.1 1942.8,528.1 1945.3,528.1 1947.8,528.1 1950.3,528.1 1952.8,528.1 1955.3,528.1 1957.8,528.2 1960.3,528.2 1962.8,528.2 1965.3,528.2 1967.8,528.2 1970.3,528.2 1972.8,528.2 1975.3,528.3 1977.8,528.3 1980.3,528.3 1982.8,528.3 1985.3,528.3 1987.8,528.3 1990.3,528.3 1992.7,528.3 1995.2,528.3 1997.7,528.4 2000.2,528.4 2002.7,528.4 2005.2,528.4 2007.7,528.4 2010.2,528.4 2012.7,528.4 2015.2,528.4 2017.7,528.5 2020.2,528.5 2022.7,528.5 2025.2,528.5 2027.7,528.5 2030.2,528.5 2032.7,528.5 2035.2,528.5 2037.7,528.6 2040.2,528.6 2042.7,528.6 2045.2,528.6 2047.7,528.6 2050.2,528.6 2052.7,528.6 2055.2,528.6 2057.7,528.6 2060.2,528.7 2062.7,528.7 2065.2,528.7 2067.7,528.7 2070.2,528.7 2072.7,528.7 2075.2,528.7 2077.7,528.7 2080.2,528.8 2082.7,528.8 2085.2,528.8 2087.7,528.8 2090.2,528.8 2092.7,528.8 2095.2,528.8 2097.7,528.8 2100.2,528.9 2102.7,528.9 2105.2,528.9 2107.7,528.9 2110.2,528.9 2112.7,528.9 2115.2,528.9 2117.7,528.9 2120.1,529.0 2122.6,529.0 2125.1,529.0 2127.6,529.0 2130.1,529.0 2132.6,529.0 2135.1,529.0 2137.6,529.1 2140.1,529.1 2142.6,529.1 2145.1,529.1 2147.6,529.1 2150.1,529.1 2152.6,529.2 2155.1,529.2 2157.6,529.2 2160.1,529.2 2162.6,529.2 2165.1,529.2 2167.6,529.3 2170.1,529.3 2172.6,529.3 2175.1,529.3 2177.6,529.3 2180.1,529.3 2182.6,529.4 2185.1,529.4 2187.6,529.4 2190.1,529.4 2192.6,529.4 2195.1,529.5 2197.6,529.5 2200.1,529.5 2202.6,529.5 2205.1,529.5 2207.6,529.6 2210.1,529.6 2212.6,529.6 2215.0,529.6 2217.5,529.6 2220.0,529.7 2222.5,529.7 2225.0,529.7 2227.5,529.7 2230.0,529.8 2232.5,529.8 2235.0,529.8 2237.5,529.8 2240.0,529.9 2242.5,529.9 2245.0,529.9 2247.5,529.9 2250.0,530.0 2252.5,530.0 2255.0,530.0"/>
<path stroke="#16169a" d="M228.0,272.0L228.5,274.3 229.0,276.6 229.4,278.9 229.8,281.4 230.2,283.8 230.6,286.3 231.0,288.8 231.4,291.4 231.8,294.0 232.1,296.5 232.5,299.1 233.0,301.7 233.4,304.3 233.9,306.8 234.4,309.4 235.0,311.9 235.6,314.4 236.3,316.8 237.1,319.2 237.9,321.6 238.8,323.9 239.8,326.1 240.8,328.3 242.0,330.4 243.2,332.4 244.6,334.3 246.0,336.2 247.5,338.0 249.1,339.8 250.8,341.5 252.5,343.1 254.3,344.7 256.1,346.3 258.0,347.8 260.0,349.3 262.0,350.7 264.0,352.1 266.1,353.5 268.2,354.9 270.3,356.2 272.5,357.5 274.7,358.9 276.8,360.2 279.0,361.5 281.2,362.8 283.4,364.1 285.6,365.4 287.8,366.8 289.9,368.1 292.1,369.5 294.2,370.9 296.3,372.3 298.5,373.7 300.6,375.1 302.6,376.6 304.7,378.0 306.8,379.4 308.9,380.8 311.0,382.2 313.0,383.6 315.1,385.0 317.2,386.4 319.3,387.8 321.4,389.1 323.5,390.5 325.6,391.8 327.7,393.0 329.8,394.3 332.0,395.5 334.1,396.7 336.3,397.9 338.5,399.0 340.7,400.1 343.0,401.1 345.2,402.1 347.5,403.0 349.8,404.0 352.1,404.8 354.5,405.6 356.8,406.4 359.2,407.2 361.6,407.9 364.0,408.6 366.4,409.3 368.8,410.0 371.3,410.6 373.7,411.3 376.1,411.9 378.6,412.6 381.0,413.2 383.5,413.8 385.9,414.5 388.3,415.2 390.8,415.8 393.2,416.5 395.6,417.2 398.0,417.9 400.4,418.7 402.8,419.4 405.1,420.2 407.5,421.0 409.9,421.8 412.2,422.6 414.6,423.5 416.9,424.3 419.3,425.2 421.6,426.1 423.9,426.9 426.2,427.9 428.5,428.8 430.9,429.7 433.2,430.6 435.5,431.6 437.7,432.6 440.0,433.5 442.3,434.5 444.6,435.5 446.9,436.5 449.1,437.5 451.4,438.5 453.7,439.6 455.9,440.6 458.2,441.6 460.4,442.7 462.7,443.7 464.9,444.8 467.2,445.9 469.4,447.0 471.7,448.0 473.9,449.1 476.2,450.2 478.4,451.3 480.6,452.4 482.9,453.5 485.1,454.6 487.4,455.7 489.6,456.8 491.8,457.9 494.1,459.1 496.3,460.2 498.5,461.3 500.8,462.4 503.0,463.5 505.3,464.6 507.5,465.7 509.8,466.8 512.0,468.0 514.3,469.1 516.5,470.2 518.8,471.3 521.0,472.4 523.3,473.4 525.6,474.5 527.8,475.6 530.1,476.6 532.4,477.6 534.7,478.6 537.0,479.5 539.3,480.4 541.6,481.3 544.0,482.1 546.3,482.9 548.7,483.7 551.1,484.4 553.5,485.0 555.9,485.6 558.3,486.2 560.7,486.7 563.2,487.1 565.6,487.5 568.1,487.8 570.6,488.0 573.1,488.2 575.6,488.4 578.1,488.5 580.7,488.6 583.2,488.6 585.7,488.6 588.3,488.5 590.8,488.5 593.3,488.4 595.8,488.2 598.4,488.1 600.9,487.9 603.4,487.6 605.9,487.4 608.4,487.1 610.9,486.8 613.4,486.5 615.9,486.1 618.4,485.7 620.8,485.3 623.3,484.8 625.8,484.4 628.2,483.8 630.6,483.3 633.1,482.7 635.5,482.1 637.9,481.5 640.3,480.8 642.7,480.1 645.1,479.4 647.4,478.6 649.8,477.8 652.1,477.0 654.5,476.1 656.8,475.2 659.1,474.3 661.4,473.3 663.6,472.3 665.9,471.3 668.1,470.2 670.4,469.1 672.6,468.0 674.8,466.8 677.0,465.6 679.1,464.4 681.3,463.1 683.4,461.8 685.6,460.5 687.7,459.2 689.8,457.9 691.9,456.5 694.0,455.1 696.1,453.7 698.2,452.3 700.2,450.9 702.3,449.5 704.4,448.0 706.5,446.6 708.5,445.2 710.6,443.8 712.7,442.3 714.8,440.9 716.9,439.5 719.0,438.1 721.1,436.8 723.2,435.4 725.3,434.1 727.4,432.8 729.5,431.4 731.7,430.1 733.8,428.8 735.9,427.5 738.0,426.2 740.1,424.9 742.2,423.5 744.3,422.2 746.4,420.8 748.4,419.5 750.5,418.1 752.5,416.7 754.5,415.2 756.5,413.8 758.4,412.3 760.4,410.8 762.3,409.2 764.1,407.6 766.0,406.0 767.8,404.3 769.6,402.6 771.4,400.9 773.2,399.2 775.0,397.5 776.8,395.7 778.6,394.0 780.4,392.3 782.3,390.5 784.2,388.8 786.1,387.1 788.1,385.4 790.1,383.8 792.2,382.2 794.3,380.6 796.4,379.1 798.5,377.7 800.7,376.3 802.9,375.0 805.1,373.8 807.3,372.6 809.6,371.6 811.9,370.6 814.2,369.8 816.5,369.0 818.8,368.4 821.2,367.9 823.6,367.6 826.0,367.4 828.4,367.3 830.8,367.3 833.2,367.5 835.6,367.8 838.0,368.3 840.4,368.8 842.8,369.5 845.1,370.2 847.5,371.0 849.8,372.0 852.2,373.0 854.5,374.1 856.7,375.2 858.9,376.5 861.1,377.7 863.3,379.1 865.4,380.5 867.5,381.9 869.5,383.4 871.5,384.9 873.5,386.5 875.4,388.1 877.4,389.7 879.3,391.3 881.2,393.0 883.1,394.7 884.9,396.4 886.8,398.1 888.6,399.8 890.5,401.5 892.3,403.3 894.2,405.0 896.0,406.7 897.9,408.4 899.8,410.1 901.7,411.7 903.5,413.4 905.5,415.0 907.4,416.5 909.3,418.1 911.3,419.6 913.3,421.1 915.3,422.6 917.3,424.1 919.3,425.5 921.3,426.9 923.4,428.3 925.5,429.7 927.6,431.0 929.6,432.3 931.8,433.6 933.9,434.9 936.0,436.2 938.2,437.4 940.3,438.7 942.5,439.9 944.7,441.1 946.8,442.2 949.0,443.4 951.2,444.6 953.5,445.7 955.7,446.8 957.9,447.9 960.2,449.0 962.4,450.1 964.7,451.2 966.9,452.2 969.2,453.3 971.5,454.3 973.7,455.4 976.0,456.4 978.3,457.4 980.6,458.4 982.9,459.4 985.2,460.4 987.5,461.4 989.8,462.4 992.1,463.4 994.5,464.4 996.8,465.4 999.1,466.4 1001.4,467.3 1003.7,468.3 1006.1,469.2 1008.4,470.2 1010.7,471.1 1013.1,472.1 1015.4,473.0 1017.7,473.9 1020.1,474.8 1022.4,475.7 1024.8,476.6 1027.1,477.5 1029.5,478.4 1031.8,479.2 1034.2,480.1 1036.6,480.9 1038.9,481.7 1041.3,482.6 1043.7,483.4 1046.0,484.2 1048.4,484.9 1050.8,485.7 1053.2,486.5 1055.6,487.2 1057.9,487.9 1060.3,488.7 1062.7,489.4 1065.1,490.0 1067.5,490.7 1069.9,491.4 1072.3,492.0 1074.7,492.7 1077.2,493.3 1079.6,493.9 1082.0,494.5 1084.4,495.1 1086.8,495.6 1089.3,496.2 1091.7,496.7 1094.1,497.3 1096.5,497.8 1099.0,498.3 1101.4,498.8 1103.8,499.3 1106.3,499.8 1108.7,500.2 1111.2,500.7 1113.6,501.1 1116.1,501.6 1118.5,502.0 1121.0,502.4 1123.4,502.8 1125.9,503.2 1128.3,503.6 1130.8,504.0 1133.3,504.3 1135.7,504.7 1138.2,505.0 1140.6,505.4 1143.1,505.7 1145.6,506.0 1148.1,506.3 1150.5,506.7 1153.0,507.0 1155.5,507.2 1158.0,507.5 1160.4,507.8 1162.9,508.1 1165.4,508.3 1167.9,508.6 1170.4,508.9 1172.8,509.1 1175.3,509.3 1177.8,509.6 1180.3,509.8 1182.8,510.0 1185.3,510.2 1187.8,510.4 1190.3,510.6 1192.8,510.8 1195.3,511.0 1197.8,511.2 1200.2,511.4 1202.7,511.6 1205.2,511.8 1207.7,512.0 1210.2,512.1 1212.7,512.3 1215.2,512.5 1217.7,512.6 1220.2,512.8 1222.7,512.9 1225.2,513.1 1227.7,513.2 1230.2,513.4 1232.7,513.5 1235.2,513.7 1237.7,513.8 1240.2,513.9 1242.7,514.1 1245.2,514.2 1247.7,514.3 1250.2,514.5 1252.7,514.6 1255.2,514.7 1257.8,514.9 1260.3,515.0 1262.8,515.1 1265.3,515.3 1267.8,515.4 1270.3,515.5 1272.8,515.6 1275.3,515.8 1277.8,515.9 1280.3,516.0 1282.8,516.1 1285.3,516.3 1287.8,516.4 1290.3,516.5 1292.8,516.6 1295.3,516.8 1297.8,516.9 1300.3,517.0 1302.8,517.1 1305.3,517.2 1307.8,517.3 1310.3,517.5 1312.8,517.6 1315.3,517.7 1317.8,517.8 1320.3,517.9 1322.8,518.0 1325.3,518.1 1327.8,518.2 1330.3,518.3 1332.8,518.5 1335.3,518.6 1337.8,518.7 1340.3,518.8 1342.8,518.9 1345.3,519.0 1347.8,519.1 1350.3,519.2 1352.8,519.3 1355.3,519.4 1357.8,519.5 1360.3,519.6 1362.8,519.7 1365.3,519.8 1367.8,519.9 1370.3,520.0 1372.8,520.1 1375.3,520.2 1377.8,520.3 1380.3,520.4 1382.8,520.5 1385.3,520.6 1387.8,520.7 1390.3,520.8 1392.8,520.8 1395.3,520.9 1397.8,521.0 1400.3,521.1 1402.8,521.2 1405.3,521.3 1407.8,521.4 1410.3,521.5 1412.8,521.6 1415.3,521.6 1417.8,521.7 1420.3,521.8 1422.8,521.9 1425.3,522.0 1427.8,522.1 1430.3,522.1 1432.8,522.2 1435.3,522.3 1437.8,522.4 1440.3,522.5 1442.8,522.5 1445.3,522.6 1447.8,522.7 1450.3,522.8 1452.8,522.9 1455.3,522.9 1457.8,523.0 1460.3,523.1 1462.8,523.2 1465.3,523.2 1467.8,523.3 1470.3,523.4 1472.8,523.4 1475.3,523.5 1477.8,523.6 1480.3,523.7 1482.8,523.7 1485.3,523.8 1487.8,523.9 1490.3,523.9 1492.8,524.0 1495.3,524.1 1497.8,524.1 1500.2,524.2 1502.7,524.3 1505.2,524.3 1507.7,524.4 1510.2,524.5 1512.7,524.5 1515.2,524.6 1517.7,524.7 1520.2,524.7 1522.7,524.8 1525.2,524.8 1527.7,524.9 1530.2,525.0 1532.7,525.0 1535.2,525.1 1537.7,525.1 1540.2,525.2 1542.7,525.2 1545.2,525.3 1547.7,525.4 1550.2,525.4 1552.7,525.5 1555.2,525.5 1557.7,525.6 1560.2,525.6 1562.7,525.7 1565.2,525.7 1567.7,525.8 1570.2,525.8 1572.7,525.9 1575.2,526.0 1577.7,526.0 1580.2,526.1 1582.7,526.1 1585.2,526.2 1587.7,526.2 1590.2,526.2 1592.7,526.3 1595.2,526.3 1597.7,526.4 1600.2,526.4 1602.7,526.5 1605.2,526.5 1607.7,526.6 1610.2,526.6 1612.7,526.7 1615.2,526.7 1617.7,526.8 1620.2,526.8 1622.7,526.8 1625.2,526.9 1627.7,526.9 1630.1,527.0 1632.6,527.0 1635.1,527.1 1637.6,527.1 1640.1,527.1 1642.6,527.2 1645.1,527.2 1647.6,527.3 1650.1,527.3 1652.6,527.3 1655.1,527.4 1657.6,527.4 1660.1,527.5 1662.6,527.5 1665.1,527.5 1667.6,527.6 1670.1,527.6 1672.6,527.6 1675.1,527.7 1677.6,527.7 1680.1,527.7 1682.6,527.8 1685.1,527.8 1687.6,527.8 1690.1,527.9 1692.6,527.9 1695.1,527.9 1697.6,528.0 1700.1,528.0 1702.6,528.0 1705.1,528.1 1707.6,528.1 1710.1,528.1 1712.6,528.2 1715.1,528.2 1717.6,528.2 1720.1,528.3 1722.6,528.3 1725.1,528.3 1727.6,528.4 1730.1,528.4 1732.6,528.4 1735.1,528.4 1737.5,528.5 1740.0,528.5 1742.5,528.5 1745.0,528.5 1747.5,528.6 1750.0,528.6 1752.5,528.6 1755.0,528.7 1757.5,528.7 1760.0,528.7 1762.5,528.7 1765.0,528.8 1767.5,528.8 1770.0,528.8 1772.5,528.8 1775.0,528.9 1777.5,528.9 1780.0,528.9 1782.5,528.9 1785.0,529.0 1787.5,529.0 1790.0,529.0 1792.5,529.0 1795.0,529.1 1797.5,529.1 1800.0,529.1 1802.5,529.1 1805.0,529.1 1807.5,529.2 1810.0,529.2 1812.5,529.2 1815.0,529.2 1817.5,529.3 1820.0,529.3 1822.5,529.3 1825.0,529.3 1827.5,529.3 1830.0,529.4 1832.5,529.4 1835.0,529.4 1837.5,529.4 1840.0,529.4 1842.5,529.5 1845.0,529.5 1847.5,529.5 1849.9,529.5 1852.4,529.5 1854.9,529.6 1857.4,529.6 1859.9,529.6 1862.4,529.6 1864.9,529.6 1867.4,529.7 1869.9,529.7 1872.4,529.7 1874.9,529.7 1877.4,529.7 1879.9,529.7 1882.4,529.8 1884.9,529.8 1887.4,529.8 1889.9,529.8 1892.4,529.8 1894.9,529.8 1897.4,529.9 1899.9,529.9 1902.4,529.9 1904.9,529.9 1907.4,529.9 1909.9,530.0 1912.4,530.0 1914.9,530.0 1917.4,530.0 1919.9,530.0 1922.4,530.0 1924.9,530.1 1927.4,530.1 1929.9,530.1 1932.4,530.1 1934.9,530.1 1937.4,530.1 1939.9,530.2 1942.4,530.2 1944.9,530.2 1947.4,530.2 1949.9,530.2 1952.4,530.2 1954.9,530.3 1957.4,530.3 1959.9,530.3 1962.4,530.3 1964.9,530.3 1967.4,530.3 1969.9,530.4 1972.4,530.4 1974.9,530.4 1977.4,530.4 1979.9,530.4 1982.4,530.4 1984.9,530.5 1987.4,530.5 1989.9,530.5 1992.4,530.5 1994.9,530.5 1997.4,530.5 1999.9,530.6 2002.4,530.6 2004.9,530.6 2007.4,530.6 2009.9,530.6 2012.4,530.6 2014.9,530.7 2017.4,530.7 2019.9,530.7 2022.4,530.7 2024.9,530.7 2027.4,530.7 2029.9,530.8 2032.4,530.8 2034.9,530.8 2037.4,530.8 2039.9,530.8 2042.4,530.9 2044.9,530.9 2047.4,530.9 2049.9,530.9 2052.4,530.9 2054.9,530.9 2057.4,531.0 2059.9,531.0 2062.4,531.0 2064.9,531.0 2067.4,531.0 2069.9,531.1 2072.4,531.1 2074.9,531.1 2077.4,531.1 2079.9,531.1 2082.4,531.2 2084.9,531.2 2087.4,531.2 2089.9,531.2 2092.4,531.2 2094.9,531.3 2097.4,531.3 2099.9,531.3 2102.4,531.3 2104.9,531.3 2107.4,531.4 2109.9,531.4 2112.4,531.4 2114.9,531.4 2117.4,531.4 2119.9,531.5 2122.4,531.5 2124.9,531.5 2127.4,531.5 2129.9,531.6 2132.4,531.6 2134.9,531.6 2137.4,531.6 2139.9,531.6 2142.4,531.7 2144.9,531.7 2147.4,531.7 2149.9,531.7 2152.4,531.8 2154.9,531.8 2157.4,531.8 2159.9,531.8 2162.4,531.9 2164.9,531.9 2167.4,531.9 2169.9,531.9 2172.4,532.0 2174.9,532.0 2177.4,532.0 2179.9,532.1 2182.4,532.1 2184.9,532.1 2187.4,532.1 2189.9,532.2 2192.4,532.2 2194.9,532.2 2197.4,532.3 2199.9,532.3 2202.4,532.3 2204.9,532.3 2207.4,532.4 2209.9,532.4 2212.4,532.4 2214.9,532.5 2217.5,532.5 2220.0,532.5 2222.5,532.6 2225.0,532.6 2227.5,532.6 2230.0,532.7 2232.5,532.7 2235.0,532.7 2237.5,532.8 2240.0,532.8 2242.5,532.8 2245.0,532.9 2247.5,532.9 2250.0,532.9 2252.5,533.0 2255.0,533.0"/>
<path stroke="#000000" d="M228.0,292.0L227.7,294.6 227.5,297.2 227.5,299.8 227.6,302.3 227.8,304.7 228.0,307.2 228.4,309.6 228.9,311.9 229.4,314.3 230.0,316.7 230.6,319.0 231.3,321.3 232.1,323.7 232.9,326.0 233.7,328.4 234.5,330.7 235.3,333.1 236.2,335.5 237.0,337.9 237.9,340.3 238.9,342.6 239.8,345.0 240.8,347.4 241.8,349.7 242.9,352.0 243.9,354.3 245.1,356.6 246.2,358.9 247.4,361.1 248.7,363.3 250.0,365.4 251.3,367.5 252.7,369.6 254.1,371.6 255.6,373.6 257.2,375.5 258.8,377.3 260.4,379.1 262.1,380.8 263.9,382.4 265.8,384.0 267.6,385.6 269.6,387.0 271.6,388.5 273.6,389.9 275.6,391.2 277.7,392.5 279.8,393.8 282.0,395.0 284.2,396.3 286.4,397.5 288.6,398.6 290.8,399.8 293.1,400.9 295.4,402.1 297.6,403.2 299.9,404.3 302.2,405.4 304.4,406.6 306.7,407.7 309.0,408.9 311.2,410.0 313.4,411.2 315.6,412.4 317.8,413.7 320.0,414.9 322.1,416.2 324.3,417.5 326.4,418.8 328.5,420.1 330.6,421.3 332.8,422.6 334.9,423.9 337.0,425.1 339.2,426.3 341.3,427.5 343.5,428.6 345.7,429.7 348.0,430.7 350.3,431.7 352.6,432.6 354.9,433.5 357.2,434.4 359.6,435.2 361.9,436.0 364.3,436.7 366.7,437.5 369.1,438.2 371.5,438.9 373.9,439.6 376.3,440.3 378.7,441.0 381.1,441.7 383.5,442.4 385.9,443.1 388.3,443.8 390.7,444.5 393.2,445.2 395.6,445.9 398.0,446.6 400.4,447.3 402.8,448.0 405.2,448.6 407.6,449.3 410.0,450.0 412.4,450.7 414.8,451.4 417.2,452.1 419.6,452.8 422.0,453.5 424.4,454.2 426.8,454.9 429.2,455.6 431.6,456.3 434.0,456.9 436.4,457.6 438.8,458.3 441.2,459.1 443.6,459.8 446.0,460.5 448.3,461.2 450.7,461.9 453.1,462.6 455.5,463.3 457.9,464.0 460.3,464.8 462.7,465.5 465.1,466.2 467.5,467.0 469.8,467.7 472.2,468.5 474.6,469.2 477.0,470.0 479.4,470.7 481.8,471.5 484.1,472.2 486.5,473.0 488.9,473.8 491.3,474.6 493.6,475.4 496.0,476.1 498.4,476.9 500.8,477.7 503.1,478.5 505.5,479.3 507.9,480.0 510.3,480.8 512.6,481.6 515.0,482.4 517.4,483.1 519.8,483.9 522.2,484.6 524.6,485.4 526.9,486.1 529.3,486.8 531.7,487.5 534.1,488.2 536.5,488.9 538.9,489.6 541.3,490.3 543.7,490.9 546.1,491.6 548.6,492.2 551.0,492.8 553.4,493.4 555.8,494.0 558.3,494.5 560.7,495.0 563.1,495.6 565.6,496.0 568.0,496.5 570.5,497.0 573.0,497.4 575.4,497.8 577.9,498.2 580.4,498.5 582.9,498.8 585.4,499.1 587.8,499.4 590.3,499.7 592.8,499.9 595.3,500.1 597.8,500.2 600.4,500.4 602.9,500.5 605.4,500.5 607.9,500.6 610.4,500.6 612.9,500.6 615.4,500.5 617.8,500.4 620.3,500.3 622.8,500.2 625.3,500.0 627.8,499.7 630.2,499.5 632.7,499.2 635.2,498.9 637.6,498.6 640.1,498.2 642.5,497.9 645.0,497.5 647.4,497.1 649.9,496.7 652.3,496.4 654.8,496.0 657.3,495.6 659.7,495.2 662.2,494.9 664.7,494.5 667.1,494.2 669.6,493.9 672.1,493.5 674.6,493.2 677.0,492.9 679.5,492.5 682.0,492.2 684.5,491.8 687.0,491.5 689.4,491.1 691.9,490.7 694.4,490.3 696.8,489.9 699.3,489.5 701.8,489.1 704.2,488.6 706.7,488.1 709.1,487.6 711.5,487.1 714.0,486.5 716.4,485.9 718.8,485.3 721.2,484.7 723.6,484.0 726.0,483.3 728.4,482.6 730.7,481.8 733.1,481.1 735.5,480.3 737.9,479.5 740.2,478.7 742.6,477.8 744.9,477.0 747.3,476.2 749.6,475.3 752.0,474.5 754.3,473.6 756.7,472.8 759.0,471.9 761.4,471.0 763.8,470.2 766.1,469.3 768.5,468.5 770.8,467.7 773.2,466.9 775.6,466.1 778.0,465.3 780.4,464.5 782.8,463.8 785.2,463.1 787.6,462.4 790.0,461.7 792.4,461.0 794.8,460.4 797.3,459.8 799.7,459.2 802.2,458.7 804.6,458.2 807.1,457.7 809.6,457.3 812.0,456.9 814.5,456.5 817.0,456.1 819.5,455.8 821.9,455.5 824.4,455.3 826.9,455.1 829.4,454.9 831.9,454.7 834.4,454.6 836.9,454.6 839.3,454.5 841.8,454.5 844.3,454.6 846.8,454.6 849.2,454.8 851.7,454.9 854.2,455.1 856.6,455.4 859.1,455.6 861.5,456.0 863.9,456.3 866.4,456.7 868.8,457.2 871.2,457.6 873.6,458.1 876.0,458.7 878.4,459.3 880.8,459.9 883.2,460.5 885.5,461.2 887.9,461.9 890.3,462.6 892.7,463.4 895.0,464.1 897.4,464.9 899.8,465.7 902.1,466.5 904.5,467.4 906.8,468.2 909.2,469.1 911.5,469.9 913.9,470.8 916.2,471.7 918.6,472.6 920.9,473.5 923.3,474.4 925.6,475.3 928.0,476.2 930.3,477.1 932.7,478.0 935.0,478.8 937.4,479.7 939.8,480.6 942.1,481.5 944.5,482.3 946.9,483.1 949.2,484.0 951.6,484.8 954.0,485.5 956.4,486.3 958.8,487.1 961.2,487.8 963.6,488.6 966.0,489.3 968.4,490.0 970.8,490.7 973.2,491.4 975.6,492.0 978.0,492.7 980.4,493.3 982.9,493.9 985.3,494.5 987.7,495.2 990.1,495.7 992.6,496.3 995.0,496.9 997.4,497.4 999.9,498.0 1002.3,498.5 1004.8,499.1 1007.2,499.6 1009.6,500.1 1012.1,500.6 1014.5,501.1 1017.0,501.5 1019.5,502.0 1021.9,502.5 1024.4,502.9 1026.8,503.3 1029.3,503.8 1031.8,504.2 1034.2,504.6 1036.7,505.0 1039.2,505.4 1041.6,505.8 1044.1,506.2 1046.6,506.6 1049.0,507.0 1051.5,507.3 1054.0,507.7 1056.4,508.1 1058.9,508.4 1061.4,508.8 1063.9,509.1 1066.3,509.4 1068.8,509.8 1071.3,510.1 1073.8,510.4 1076.2,510.7 1078.7,511.0 1081.2,511.3 1083.7,511.6 1086.2,511.9 1088.6,512.2 1091.1,512.5 1093.6,512.8 1096.1,513.0 1098.6,513.3 1101.0,513.6 1103.5,513.8 1106.0,514.1 1108.5,514.4 1111.0,514.6 1113.5,514.9 1116.0,515.1 1118.4,515.3 1120.9,515.6 1123.4,515.8 1125.9,516.0 1128.4,516.2 1130.9,516.5 1133.4,516.7 1135.8,516.9 1138.3,517.1 1140.8,517.3 1143.3,517.5 1145.8,517.7 1148.3,517.9 1150.8,518.1 1153.3,518.2 1155.8,518.4 1158.3,518.6 1160.7,518.8 1163.2,518.9 1165.7,519.1 1168.2,519.3 1170.7,519.5 1173.2,519.6 1175.7,519.8 1178.2,519.9 1180.7,520.1 1183.2,520.2 1185.7,520.4 1188.2,520.5 1190.7,520.7 1193.2,520.8 1195.6,520.9 1198.1,521.1 1200.6,521.2 1203.1,521.3 1205.6,521.5 1208.1,521.6 1210.6,521.7 1213.1,521.9 1215.6,522.0 1218.1,522.1 1220.6,522.2 1223.1,522.3 1225.6,522.5 1228.1,522.6 1230.6,522.7 1233.1,522.8 1235.6,522.9 1238.1,523.0 1240.6,523.1 1243.1,523.2 1245.6,523.3 1248.1,523.4 1250.6,523.5 1253.1,523.6 1255.5,523.7 1258.0,523.8 1260.5,523.9 1263.0,524.0 1265.5,524.1 1268.0,524.2 1270.5,524.3 1273.0,524.4 1275.5,524.5 1278.0,524.6 1280.5,524.7 1283.0,524.8 1285.5,524.9 1288.0,525.0 1290.5,525.1 1293.0,525.2 1295.5,525.2 1298.0,525.3 1300.5,525.4 1303.0,525.5 1305.5,525.6 1308.0,525.7 1310.5,525.7 1313.0,525.8 1315.5,525.9 1318.0,526.0 1320.5,526.1 1323.0,526.1 1325.5,526.2 1328.0,526.3 1330.5,526.4 1333.0,526.4 1335.5,526.5 1338.0,526.6 1340.5,526.7 1342.9,526.7 1345.4,526.8 1347.9,526.9 1350.4,526.9 1352.9,527.0 1355.4,527.1 1357.9,527.1 1360.4,527.2 1362.9,527.3 1365.4,527.3 1367.9,527.4 1370.4,527.5 1372.9,527.5 1375.4,527.6 1377.9,527.7 1380.4,527.7 1382.9,527.8 1385.4,527.8 1387.9,527.9 1390.4,527.9 1392.9,528.0 1395.4,528.1 1397.9,528.1 1400.4,528.2 1402.9,528.2 1405.4,528.3 1407.9,528.3 1410.4,528.4 1412.9,528.4 1415.4,528.5 1417.9,528.5 1420.4,528.6 1422.9,528.6 1425.4,528.7 1427.9,528.7 1430.4,528.8 1432.9,528.8 1435.4,528.9 1437.9,528.9 1440.4,528.9 1442.9,529.0 1445.4,529.0 1447.9,529.1 1450.4,529.1 1452.9,529.1 1455.4,529.2 1457.9,529.2 1460.4,529.3 1462.9,529.3 1465.4,529.3 1467.8,529.4 1470.3,529.4 1472.8,529.4 1475.3,529.5 1477.8,529.5 1480.3,529.6 1482.8,529.6 1485.3,529.6 1487.8,529.6 1490.3,529.7 1492.8,529.7 1495.3,529.7 1497.8,529.8 1500.3,529.8 1502.8,529.8 1505.3,529.9 1507.8,529.9 1510.3,529.9 1512.8,529.9 1515.3,530.0 1517.8,530.0 1520.3,530.0 1522.8,530.0 1525.3,530.1 1527.8,530.1 1530.3,530.1 1532.8,530.1 1535.3,530.2 1537.8,530.2 1540.3,530.2 1542.8,530.2 1545.3,530.2 1547.8,530.3 1550.3,530.3 1552.8,530.3 1555.3,530.3 1557.8,530.3 1560.3,530.3 1562.8,530.4 1565.3,530.4 1567.8,530.4 1570.3,530.4 1572.8,530.4 1575.3,530.4 1577.8,530.5 1580.3,530.5 1582.8,530.5 1585.3,530.5 1587.8,530.5 1590.3,530.5 1592.8,530.5 1595.3,530.5 1597.8,530.6 1600.3,530.6 1602.8,530.6 1605.3,530.6 1607.8,530.6 1610.3,530.6 1612.8,530.6 1615.3,530.6 1617.8,530.6 1620.3,530.6 1622.8,530.6 1625.3,530.7 1627.8,530.7 1630.3,530.7 1632.8,530.7 1635.3,530.7 1637.8,530.7 1640.3,530.7 1642.8,530.7 1645.3,530.7 1647.8,530.7 1650.3,530.7 1652.8,530.7 1655.3,530.7 1657.8,530.7 1660.3,530.7 1662.8,530.7 1665.3,530.7 1667.8,530.7 1670.3,530.7 1672.8,530.7 1675.3,530.7 1677.8,530.7 1680.3,530.7 1682.8,530.7 1685.3,530.7 1687.8,530.7 1690.3,530.7 1692.8,530.7 1695.2,530.7 1697.7,530.7 1700.2,530.7 1702.7,530.7 1705.2,530.7 1707.7,530.7 1710.2,530.7 1712.7,530.7 1715.2,530.7 1717.7,530.7 1720.2,530.7 1722.7,530.7 1725.2,530.7 1727.7,530.7 1730.2,530.7 1732.7,530.7 1735.2,530.7 1737.7,530.7 1740.2,530.7 1742.7,530.7 1745.2,530.7 1747.7,530.6 1750.2,530.6 1752.7,530.6 1755.2,530.6 1757.7,530.6 1760.2,530.6 1762.7,530.6 1765.2,530.6 1767.7,530.6 1770.2,530.6 1772.7,530.6 1775.2,530.6 1777.7,530.6 1780.2,530.6 1782.7,530.6 1785.2,530.6 1787.7,530.5 1790.2,530.5 1792.7,530.5 1795.2,530.5 1797.7,530.5 1800.2,530.5 1802.7,530.5 1805.2,530.5 1807.7,530.5 1810.2,530.5 1812.7,530.5 1815.2,530.5 1817.7,530.5 1820.2,530.4 1822.7,530.4 1825.2,530.4 1827.7,530.4 1830.2,530.4 1832.7,530.4 1835.2,530.4 1837.7,530.4 1840.2,530.4 1842.7,530.4 1845.2,530.4 1847.7,530.4 1850.2,530.3 1852.7,530.3 1855.2,530.3 1857.7,530.3 1860.2,530.3 1862.7,530.3 1865.2,530.3 1867.7,530.3 1870.2,530.3 1872.7,530.3 1875.2,530.3 1877.7,530.3 1880.2,530.3 1882.7,530.2 1885.2,530.2 1887.7,530.2 1890.2,530.2 1892.7,530.2 1895.2,530.2 1897.7,530.2 1900.2,530.2 1902.7,530.2 1905.2,530.2 1907.7,530.2 1910.2,530.2 1912.7,530.2 1915.2,530.2 1917.7,530.1 1920.2,530.1 1922.7,530.1 1925.2,530.1 1927.7,530.1 1930.2,530.1 1932.7,530.1 1935.2,530.1 1937.7,530.1 1940.2,530.1 1942.7,530.1 1945.2,530.1 1947.7,530.1 1950.2,530.1 1952.7,530.1 1955.2,530.1 1957.7,530.1 1960.2,530.1 1962.7,530.1 1965.2,530.1 1967.7,530.0 1970.2,530.0 1972.7,530.0 1975.2,530.0 1977.7,530.0 1980.2,530.0 1982.7,530.0 1985.2,530.0 1987.7,530.0 1990.2,530.0 1992.7,530.0 1995.2,530.0 1997.7,530.0 2000.2,530.0 2002.7,530.0 2005.2,530.0 2007.7,530.0 2010.2,530.0 2012.7,530.0 2015.2,530.0 2017.7,530.0 2020.2,530.0 2022.7,530.0 2025.2,530.0 2027.7,530.0 2030.2,530.0 2032.6,530.0 2035.1,530.1 2037.6,530.1 2040.1,530.1 2042.6,530.1 2045.1,530.1 2047.6,530.1 2050.1,530.1 2052.6,530.1 2055.1,530.1 2057.6,530.1 2060.1,530.1 2062.6,530.1 2065.1,530.1 2067.6,530.1 2070.1,530.1 2072.6,530.1 2075.1,530.2 2077.6,530.2 2080.1,530.2 2082.6,530.2 2085.1,530.2 2087.6,530.2 2090.1,530.2 2092.6,530.2 2095.1,530.2 2097.6,530.3 2100.1,530.3 2102.6,530.3 2105.1,530.3 2107.6,530.3 2110.1,530.3 2112.6,530.3 2115.1,530.3 2117.6,530.4 2120.1,530.4 2122.6,530.4 2125.1,530.4 2127.6,530.4 2130.1,530.5 2132.6,530.5 2135.1,530.5 2137.6,530.5 2140.1,530.5 2142.6,530.5 2145.1,530.6 2147.6,530.6 2150.1,530.6 2152.6,530.6 2155.1,530.7 2157.6,530.7 2160.1,530.7 2162.6,530.7 2165.1,530.8 2167.6,530.8 2170.1,530.8 2172.6,530.8 2175.1,530.9 2177.6,530.9 2180.1,530.9 2182.6,530.9 2185.1,531.0 2187.6,531.0 2190.1,531.0 2192.6,531.1 2195.1,531.1 2197.6,531.1 2200.0,531.2 2202.5,531.2 2205.0,531.2 2207.5,531.3 2210.0,531.3 2212.5,531.3 2215.0,531.4 2217.5,531.4 2220.0,531.4 2222.5,531.5 2225.0,531.5 2227.5,531.5 2230.0,531.6 2232.5,531.6 2235.0,531.7 2237.5,531.7 2240.0,531.8 2242.5,531.8 2245.0,531.8 2247.5,531.9 2250.0,531.9 2252.5,532.0 2255.0,532.0"/>
</g>
<text x="227" y="625" font-size="76" text-anchor="middle">200</text>
<text x="517" y="625" font-size="76" text-anchor="middle">300</text>
<text x="807" y="625" font-size="76" text-anchor="middle">400</text>
<text x="1097" y="625" font-size="76" text-anchor="middle">500</text>
<text x="1387" y="625" font-size="76" text-anchor="middle">600</text>
<text x="1677" y="625" font-size="76" text-anchor="middle">700</text>
<text x="1967" y="625" font-size="76" text-anchor="middle">800</text>
<text x="2257" y="625" font-size="76" text-anchor="middle">900</text>
<text x="206" y="566.5" font-size="76" text-anchor="end">0</text>
<text x="206" y="316" font-size="76" text-anchor="end" textLength="90" lengthAdjust="spacing">0.5</text>
<text x="206" y="67.3" font-size="76" text-anchor="end">1</text>
<text x="1227.5" y="713" font-size="81" text-anchor="middle">Wavelength (nm)</text>
<text transform="translate(68,291) rotate(-90)" font-size="81" text-anchor="middle">abs</text>
<text x="260" y="102" font-size="69" font-weight="bold" style="fill:#c0391b">(a)</text>
<line x1="1675.5" y1="133.9" x2="1881.6" y2="133.9" stroke="#1d7a1d" stroke-width="5.3"/>
<text x="1902" y="156.6" font-size="68" textLength="218.5" lengthAdjust="spacing">20 mins</text>
<line x1="1675.5" y1="234.4" x2="1881.6" y2="234.4" stroke="#b8282a" stroke-width="5.3"/>
<text x="1902" y="257.1" font-size="68" textLength="218.5" lengthAdjust="spacing">15 mins</text>
<line x1="1675.5" y1="334.9" x2="1881.6" y2="334.9" stroke="#16169a" stroke-width="5.3"/>
<text x="1902" y="357.6" font-size="68" textLength="218.5" lengthAdjust="spacing">10 mins</text>
<line x1="1675.5" y1="435.4" x2="1881.6" y2="435.4" stroke="#000000" stroke-width="5.3"/>
<text x="1919" y="458.1" font-size="68" textLength="185" lengthAdjust="spacing">5 mins</text>
</g>
<g id="panel-b">
<path d="M227,1298 V1277 M227,798.5 V819.5 M517,1298 V1277 M517,798.5 V819.5 M807,1298 V1277 M807,798.5 V819.5 M1097,1298 V1277 M1097,798.5 V819.5 M1387,1298 V1277 M1387,798.5 V819.5 M1677,1298 V1277 M1677,798.5 V819.5 M1967,1298 V1277 M1967,798.5 V819.5 M2257,1298 V1277 M2257,798.5 V819.5 M227,1298 H248 M2257,1298 H2236 M227,1048.25 H248 M2257,1048.25 H2236 M227,798.5 H248 M2257,798.5 H2236" stroke="#2a2a2a" stroke-width="2.6" fill="none"/>
<rect x="227" y="798.5" width="2030" height="499.5" fill="none" stroke="#111" stroke-width="2.9"/>
<clipPath id="clip-b"><rect x="227" y="798.5" width="2030" height="499.5"/></clipPath>
<g clip-path="url(#clip-b)" fill="none" stroke-width="5.2" stroke-linejoin="round" stroke-linecap="round">
<path stroke="#1d7a1d" d="M228.0,1161.0L229.3,1158.8 230.6,1156.7 232.0,1154.6 233.5,1152.6 235.1,1150.6 236.6,1148.7 238.3,1146.9 240.0,1145.1 241.7,1143.4 243.5,1141.7 245.3,1140.0 247.1,1138.4 249.0,1136.8 250.9,1135.2 252.8,1133.7 254.8,1132.2 256.8,1130.7 258.8,1129.2 260.8,1127.8 262.8,1126.4 264.9,1124.9 266.9,1123.5 269.0,1122.1 271.1,1120.7 273.2,1119.3 275.2,1117.9 277.3,1116.4 279.4,1115.0 281.4,1113.5 283.5,1112.1 285.5,1110.6 287.5,1109.1 289.5,1107.6 291.5,1106.0 293.4,1104.4 295.4,1102.8 297.3,1101.2 299.2,1099.6 301.1,1097.9 303.0,1096.2 304.9,1094.6 306.7,1092.9 308.6,1091.2 310.5,1089.5 312.3,1087.8 314.2,1086.1 316.0,1084.5 317.9,1082.8 319.8,1081.1 321.6,1079.5 323.5,1077.9 325.4,1076.3 327.3,1074.7 329.3,1073.1 331.2,1071.6 333.2,1070.1 335.2,1068.6 337.2,1067.1 339.2,1065.7 341.2,1064.4 343.3,1063.0 345.4,1061.8 347.6,1060.5 349.7,1059.3 351.9,1058.2 354.2,1057.1 356.4,1056.1 358.7,1055.1 361.1,1054.1 363.4,1053.2 365.8,1052.3 368.2,1051.5 370.6,1050.6 373.0,1049.8 375.4,1049.0 377.8,1048.2 380.2,1047.4 382.6,1046.6 385.0,1045.7 387.4,1044.9 389.8,1044.1 392.2,1043.2 394.5,1042.3 396.8,1041.4 399.2,1040.5 401.4,1039.5 403.7,1038.4 405.9,1037.4 408.1,1036.2 410.2,1035.1 412.3,1033.8 414.3,1032.5 416.4,1031.1 418.3,1029.7 420.2,1028.2 422.1,1026.7 424.0,1025.1 425.8,1023.4 427.6,1021.7 429.3,1020.0 431.1,1018.2 432.8,1016.5 434.6,1014.7 436.3,1012.9 438.0,1011.1 439.7,1009.3 441.5,1007.5 443.2,1005.7 445.0,1004.0 446.8,1002.2 448.6,1000.6 450.4,998.9 452.3,997.3 454.2,995.7 456.1,994.1 458.0,992.5 459.9,991.0 461.9,989.4 463.8,987.9 465.8,986.4 467.8,984.9 469.8,983.4 471.7,981.9 473.7,980.3 475.7,978.8 477.7,977.3 479.7,975.8 481.6,974.3 483.6,972.7 485.6,971.1 487.5,969.6 489.5,967.9 491.4,966.3 493.3,964.7 495.2,963.0 497.1,961.3 499.0,959.6 500.9,957.9 502.8,956.3 504.7,954.6 506.6,952.9 508.5,951.2 510.4,949.5 512.3,947.9 514.2,946.3 516.2,944.7 518.1,943.1 520.1,941.6 522.1,940.1 524.1,938.7 526.2,937.3 528.2,935.9 530.3,934.6 532.4,933.3 534.6,932.2 536.8,931.0 539.0,930.0 541.3,929.0 543.6,928.1 545.9,927.2 548.2,926.4 550.6,925.7 553.0,925.1 555.4,924.5 557.8,924.0 560.2,923.6 562.7,923.3 565.1,923.0 567.6,922.8 570.1,922.7 572.6,922.7 575.1,922.8 577.6,922.9 580.1,923.1 582.6,923.5 585.1,923.9 587.6,924.3 590.1,924.9 592.6,925.5 595.0,926.2 597.5,927.0 599.9,927.8 602.3,928.7 604.6,929.7 607.0,930.7 609.3,931.8 611.5,932.9 613.7,934.1 615.9,935.3 618.0,936.6 620.1,937.9 622.2,939.3 624.2,940.7 626.2,942.2 628.2,943.7 630.1,945.2 632.0,946.8 633.8,948.4 635.7,950.0 637.5,951.7 639.2,953.4 641.0,955.2 642.7,957.0 644.4,958.8 646.0,960.6 647.7,962.5 649.3,964.4 650.8,966.3 652.4,968.3 653.9,970.2 655.4,972.2 656.9,974.2 658.4,976.3 659.9,978.3 661.3,980.4 662.7,982.4 664.1,984.5 665.5,986.6 666.8,988.7 668.2,990.9 669.5,993.0 670.9,995.1 672.2,997.3 673.5,999.4 674.8,1001.6 676.1,1003.7 677.4,1005.9 678.7,1008.1 680.0,1010.2 681.4,1012.4 682.7,1014.5 684.0,1016.7 685.3,1018.8 686.6,1020.9 688.0,1023.0 689.3,1025.2 690.7,1027.3 692.0,1029.4 693.4,1031.4 694.8,1033.5 696.2,1035.5 697.7,1037.6 699.1,1039.6 700.6,1041.6 702.1,1043.6 703.6,1045.5 705.1,1047.5 706.7,1049.4 708.2,1051.3 709.8,1053.3 711.3,1055.2 712.9,1057.1 714.5,1059.0 716.1,1060.9 717.6,1062.8 719.2,1064.7 720.8,1066.6 722.4,1068.5 724.0,1070.4 725.6,1072.4 727.1,1074.3 728.7,1076.2 730.3,1078.2 731.8,1080.1 733.3,1082.1 734.9,1084.1 736.4,1086.1 737.9,1088.1 739.3,1090.2 740.8,1092.2 742.3,1094.3 743.7,1096.4 745.1,1098.4 746.6,1100.5 748.0,1102.6 749.5,1104.7 750.9,1106.8 752.4,1108.8 753.8,1110.9 755.3,1112.9 756.8,1115.0 758.3,1117.0 759.9,1119.0 761.4,1120.9 763.0,1122.9 764.6,1124.8 766.3,1126.7 767.9,1128.5 769.7,1130.3 771.4,1132.1 773.2,1133.8 775.1,1135.4 777.0,1137.1 778.9,1138.6 780.9,1140.1 782.9,1141.6 785.0,1143.0 787.2,1144.3 789.4,1145.6 791.6,1146.8 793.9,1147.9 796.2,1148.9 798.5,1149.8 800.9,1150.6 803.2,1151.3 805.6,1151.9 808.0,1152.3 810.4,1152.7 812.7,1152.9 815.1,1153.0 817.5,1152.9 819.8,1152.7 822.1,1152.3 824.3,1151.8 826.6,1151.1 828.8,1150.2 830.9,1149.2 833.1,1148.1 835.2,1146.8 837.2,1145.4 839.2,1144.0 841.2,1142.4 843.2,1140.8 845.1,1139.0 847.1,1137.3 848.9,1135.4 850.8,1133.6 852.6,1131.7 854.4,1129.8 856.2,1127.9 857.9,1126.0 859.6,1124.0 861.3,1122.1 863.0,1120.2 864.7,1118.2 866.3,1116.3 867.9,1114.3 869.5,1112.4 871.1,1110.4 872.7,1108.5 874.2,1106.5 875.8,1104.5 877.3,1102.6 878.8,1100.6 880.3,1098.6 881.8,1096.6 883.3,1094.7 884.8,1092.7 886.3,1090.7 887.8,1088.7 889.3,1086.7 890.7,1084.8 892.2,1082.8 893.7,1080.8 895.2,1078.9 896.7,1076.9 898.2,1074.9 899.6,1073.0 901.1,1071.0 902.7,1069.0 904.2,1067.1 905.7,1065.2 907.2,1063.2 908.8,1061.3 910.4,1059.3 911.9,1057.4 913.5,1055.5 915.1,1053.6 916.8,1051.7 918.4,1049.8 920.1,1047.9 921.7,1046.0 923.4,1044.2 925.1,1042.3 926.8,1040.4 928.5,1038.6 930.2,1036.7 931.9,1034.9 933.7,1033.0 935.4,1031.2 937.1,1029.4 938.9,1027.6 940.6,1025.8 942.3,1024.0 944.1,1022.2 945.8,1020.4 947.5,1018.6 949.3,1016.8 951.0,1015.1 952.7,1013.3 954.4,1011.5 956.1,1009.7 957.8,1007.9 959.5,1006.1 961.1,1004.3 962.8,1002.5 964.4,1000.6 966.1,998.8 967.7,996.9 969.4,995.1 971.0,993.3 972.7,991.4 974.3,989.6 976.0,987.8 977.7,985.9 979.4,984.1 981.1,982.3 982.8,980.5 984.5,978.7 986.2,976.8 988.0,975.1 989.7,973.3 991.5,971.5 993.2,969.7 995.0,967.9 996.8,966.2 998.6,964.4 1000.4,962.7 1002.2,960.9 1004.0,959.2 1005.8,957.5 1007.7,955.8 1009.5,954.1 1011.4,952.5 1013.3,950.8 1015.2,949.1 1017.1,947.5 1019.0,945.9 1020.9,944.3 1022.8,942.7 1024.8,941.1 1026.7,939.5 1028.7,938.0 1030.7,936.5 1032.7,935.0 1034.7,933.5 1036.7,932.0 1038.7,930.5 1040.7,929.1 1042.8,927.7 1044.9,926.3 1046.9,924.9 1049.0,923.5 1051.1,922.2 1053.3,920.9 1055.4,919.6 1057.5,918.3 1059.7,917.0 1061.9,915.8 1064.0,914.6 1066.2,913.4 1068.4,912.2 1070.6,911.1 1072.9,910.0 1075.1,908.9 1077.3,907.8 1079.6,906.7 1081.9,905.7 1084.1,904.6 1086.4,903.6 1088.7,902.6 1091.0,901.7 1093.3,900.7 1095.7,899.8 1098.0,898.9 1100.3,898.0 1102.7,897.1 1105.0,896.2 1107.4,895.4 1109.7,894.6 1112.1,893.8 1114.5,893.0 1116.8,892.2 1119.2,891.5 1121.6,890.8 1124.0,890.0 1126.4,889.3 1128.8,888.7 1131.2,888.0 1133.6,887.4 1136.0,886.7 1138.5,886.1 1140.9,885.5 1143.3,884.9 1145.7,884.3 1148.1,883.7 1150.6,883.1 1153.0,882.5 1155.4,881.9 1157.8,881.3 1160.2,880.6 1162.6,880.0 1165.0,879.3 1167.4,878.6 1169.8,877.9 1172.2,877.1 1174.6,876.4 1177.0,875.7 1179.4,874.9 1181.8,874.2 1184.2,873.4 1186.6,872.6 1189.0,871.9 1191.4,871.2 1193.8,870.4 1196.2,869.7 1198.6,869.0 1201.0,868.3 1203.4,867.6 1205.8,867.0 1208.2,866.3 1210.6,865.7 1213.1,865.1 1215.5,864.5 1217.9,863.9 1220.3,863.3 1222.8,862.7 1225.2,862.2 1227.6,861.7 1230.1,861.2 1232.5,860.7 1235.0,860.2 1237.4,859.7 1239.9,859.2 1242.3,858.8 1244.8,858.3 1247.2,857.9 1249.7,857.5 1252.1,857.1 1254.6,856.7 1257.1,856.3 1259.5,855.9 1262.0,855.5 1264.5,855.2 1266.9,854.8 1269.4,854.5 1271.9,854.2 1274.3,853.8 1276.8,853.5 1279.3,853.2 1281.8,852.9 1284.3,852.6 1286.7,852.3 1289.2,852.0 1291.7,851.7 1294.2,851.5 1296.7,851.2 1299.2,850.9 1301.6,850.7 1304.1,850.4 1306.6,850.2 1309.1,849.9 1311.6,849.7 1314.1,849.4 1316.6,849.2 1319.1,849.0 1321.5,848.7 1324.0,848.5 1326.5,848.3 1329.0,848.0 1331.5,847.8 1334.0,847.6 1336.5,847.3 1339.0,847.1 1341.5,846.9 1344.0,846.7 1346.4,846.4 1348.9,846.2 1351.4,846.0 1353.9,845.8 1356.4,845.6 1358.9,845.4 1361.4,845.1 1363.9,844.9 1366.4,844.7 1368.9,844.5 1371.3,844.3 1373.8,844.1 1376.3,843.9 1378.8,843.7 1381.3,843.5 1383.8,843.3 1386.3,843.1 1388.8,842.9 1391.3,842.7 1393.8,842.5 1396.3,842.3 1398.7,842.1 1401.2,841.9 1403.7,841.7 1406.2,841.5 1408.7,841.3 1411.2,841.2 1413.7,841.0 1416.2,840.8 1418.7,840.6 1421.2,840.4 1423.7,840.2 1426.2,840.1 1428.6,839.9 1431.1,839.7 1433.6,839.5 1436.1,839.4 1438.6,839.2 1441.1,839.0 1443.6,838.8 1446.1,838.7 1448.6,838.5 1451.1,838.3 1453.6,838.2 1456.1,838.0 1458.6,837.8 1461.0,837.7 1463.5,837.5 1466.0,837.3 1468.5,837.2 1471.0,837.0 1473.5,836.9 1476.0,836.7 1478.5,836.6 1481.0,836.4 1483.5,836.2 1486.0,836.1 1488.5,835.9 1491.0,835.8 1493.5,835.6 1495.9,835.5 1498.4,835.3 1500.9,835.2 1503.4,835.1 1505.9,834.9 1508.4,834.8 1510.9,834.6 1513.4,834.5 1515.9,834.3 1518.4,834.2 1520.9,834.1 1523.4,833.9 1525.9,833.8 1528.4,833.7 1530.9,833.5 1533.4,833.4 1535.8,833.3 1538.3,833.1 1540.8,833.0 1543.3,832.9 1545.8,832.7 1548.3,832.6 1550.8,832.5 1553.3,832.4 1555.8,832.2 1558.3,832.1 1560.8,832.0 1563.3,831.9 1565.8,831.8 1568.3,831.6 1570.8,831.5 1573.3,831.4 1575.8,831.3 1578.2,831.2 1580.7,831.1 1583.2,830.9 1585.7,830.8 1588.2,830.7 1590.7,830.6 1593.2,830.5 1595.7,830.4 1598.2,830.3 1600.7,830.2 1603.2,830.1 1605.7,830.0 1608.2,829.9 1610.7,829.8 1613.2,829.6 1615.7,829.5 1618.2,829.4 1620.7,829.3 1623.2,829.2 1625.7,829.1 1628.2,829.0 1630.6,829.0 1633.1,828.9 1635.6,828.8 1638.1,828.7 1640.6,828.6 1643.1,828.5 1645.6,828.4 1648.1,828.3 1650.6,828.2 1653.1,828.1 1655.6,828.0 1658.1,827.9 1660.6,827.8 1663.1,827.8 1665.6,827.7 1668.1,827.6 1670.6,827.5 1673.1,827.4 1675.6,827.3 1678.1,827.2 1680.6,827.2 1683.1,827.1 1685.6,827.0 1688.1,826.9 1690.6,826.8 1693.0,826.8 1695.5,826.7 1698.0,826.6 1700.5,826.5 1703.0,826.5 1705.5,826.4 1708.0,826.3 1710.5,826.2 1713.0,826.2 1715.5,826.1 1718.0,826.0 1720.5,825.9 1723.0,825.9 1725.5,825.8 1728.0,825.7 1730.5,825.7 1733.0,825.6 1735.5,825.5 1738.0,825.5 1740.5,825.4 1743.0,825.3 1745.5,825.3 1748.0,825.2 1750.5,825.1 1753.0,825.1 1755.5,825.0 1758.0,825.0 1760.5,824.9 1763.0,824.8 1765.5,824.8 1768.0,824.7 1770.5,824.6 1772.9,824.6 1775.4,824.5 1777.9,824.5 1780.4,824.4 1782.9,824.4 1785.4,824.3 1787.9,824.2 1790.4,824.2 1792.9,824.1 1795.4,824.1 1797.9,824.0 1800.4,824.0 1802.9,823.9 1805.4,823.9 1807.9,823.8 1810.4,823.8 1812.9,823.7 1815.4,823.7 1817.9,823.6 1820.4,823.6 1822.9,823.5 1825.4,823.5 1827.9,823.4 1830.4,823.4 1832.9,823.3 1835.4,823.3 1837.9,823.2 1840.4,823.2 1842.9,823.1 1845.4,823.1 1847.9,823.1 1850.4,823.0 1852.9,823.0 1855.4,822.9 1857.9,822.9 1860.4,822.8 1862.9,822.8 1865.4,822.7 1867.9,822.7 1870.4,822.7 1872.8,822.6 1875.3,822.6 1877.8,822.5 1880.3,822.5 1882.8,822.5 1885.3,822.4 1887.8,822.4 1890.3,822.3 1892.8,822.3 1895.3,822.3 1897.8,822.2 1900.3,822.2 1902.8,822.2 1905.3,822.1 1907.8,822.1 1910.3,822.0 1912.8,822.0 1915.3,822.0 1917.8,821.9 1920.3,821.9 1922.8,821.9 1925.3,821.8 1927.8,821.8 1930.3,821.8 1932.8,821.7 1935.3,821.7 1937.8,821.7 1940.3,821.6 1942.8,821.6 1945.3,821.6 1947.8,821.5 1950.3,821.5 1952.8,821.5 1955.3,821.4 1957.8,821.4 1960.3,821.4 1962.8,821.3 1965.3,821.3 1967.8,821.3 1970.3,821.2 1972.8,821.2 1975.3,821.2 1977.8,821.1 1980.3,821.1 1982.8,821.1 1985.3,821.0 1987.8,821.0 1990.3,821.0 1992.8,821.0 1995.3,820.9 1997.8,820.9 2000.2,820.9 2002.7,820.8 2005.2,820.8 2007.7,820.8 2010.2,820.8 2012.7,820.7 2015.2,820.7 2017.7,820.7 2020.2,820.6 2022.7,820.6 2025.2,820.6 2027.7,820.5 2030.2,820.5 2032.7,820.5 2035.2,820.5 2037.7,820.4 2040.2,820.4 2042.7,820.4 2045.2,820.3 2047.7,820.3 2050.2,820.3 2052.7,820.3 2055.2,820.2 2057.7,820.2 2060.2,820.2 2062.7,820.1 2065.2,820.1 2067.7,820.1 2070.2,820.1 2072.7,820.0 2075.2,820.0 2077.7,820.0 2080.2,819.9 2082.7,819.9 2085.2,819.9 2087.7,819.9 2090.2,819.8 2092.7,819.8 2095.2,819.8 2097.7,819.7 2100.2,819.7 2102.7,819.7 2105.2,819.6 2107.7,819.6 2110.2,819.6 2112.7,819.6 2115.2,819.5 2117.7,819.5 2120.1,819.5 2122.6,819.4 2125.1,819.4 2127.6,819.4 2130.1,819.3 2132.6,819.3 2135.1,819.3 2137.6,819.2 2140.1,819.2 2142.6,819.2 2145.1,819.2 2147.6,819.1 2150.1,819.1 2152.6,819.1 2155.1,819.0 2157.6,819.0 2160.1,819.0 2162.6,818.9 2165.1,818.9 2167.6,818.9 2170.1,818.8 2172.6,818.8 2175.1,818.8 2177.6,818.7 2180.1,818.7 2182.6,818.6 2185.1,818.6 2187.6,818.6 2190.1,818.5 2192.6,818.5 2195.1,818.5 2197.6,818.4 2200.1,818.4 2202.6,818.4 2205.1,818.3 2207.6,818.3 2210.1,818.2 2212.6,818.2 2215.1,818.2 2217.5,818.1 2220.0,818.1 2222.5,818.0 2225.0,818.0 2227.5,818.0 2230.0,817.9 2232.5,817.9 2235.0,817.8 2237.5,817.8 2240.0,817.8 2242.5,817.7 2245.0,817.7 2247.5,817.6 2250.0,817.6 2252.5,817.5 2255.0,817.5"/>
<path stroke="#b8282a" d="M228.0,1142.0L228.9,1139.6 229.8,1137.2 230.8,1134.9 231.8,1132.5 232.9,1130.2 234.1,1128.0 235.3,1125.8 236.6,1123.6 238.0,1121.6 239.4,1119.6 241.0,1117.7 242.6,1115.9 244.3,1114.2 246.2,1112.6 248.1,1111.1 250.1,1109.8 252.2,1108.5 254.4,1107.4 256.7,1106.3 259.0,1105.2 261.3,1104.1 263.5,1103.0 265.8,1101.9 268.1,1100.8 270.3,1099.6 272.4,1098.3 274.6,1097.0 276.7,1095.7 278.8,1094.4 280.9,1093.0 282.9,1091.5 285.0,1090.1 287.0,1088.6 289.0,1087.1 291.0,1085.6 293.0,1084.1 295.0,1082.5 296.9,1081.0 298.9,1079.5 300.9,1077.9 302.8,1076.4 304.8,1074.8 306.8,1073.3 308.7,1071.7 310.7,1070.2 312.7,1068.7 314.7,1067.2 316.7,1065.8 318.7,1064.3 320.7,1062.9 322.8,1061.5 324.9,1060.2 327.0,1058.9 329.1,1057.6 331.2,1056.4 333.4,1055.2 335.6,1054.1 337.8,1052.9 340.1,1051.9 342.3,1050.8 344.6,1049.8 346.9,1048.8 349.2,1047.8 351.5,1046.9 353.8,1045.9 356.1,1045.0 358.5,1044.1 360.8,1043.2 363.1,1042.3 365.5,1041.3 367.8,1040.4 370.2,1039.5 372.5,1038.6 374.8,1037.7 377.2,1036.7 379.5,1035.7 381.8,1034.8 384.0,1033.8 386.3,1032.7 388.6,1031.7 390.8,1030.6 393.0,1029.4 395.2,1028.3 397.4,1027.1 399.6,1025.9 401.8,1024.7 403.9,1023.4 406.1,1022.2 408.2,1020.9 410.3,1019.5 412.4,1018.2 414.5,1016.8 416.5,1015.5 418.6,1014.1 420.7,1012.7 422.7,1011.2 424.7,1009.8 426.8,1008.3 428.8,1006.9 430.8,1005.4 432.8,1003.9 434.8,1002.4 436.8,1000.9 438.8,999.4 440.7,997.8 442.7,996.3 444.7,994.8 446.7,993.2 448.6,991.7 450.6,990.1 452.6,988.6 454.5,987.0 456.5,985.5 458.4,983.9 460.4,982.4 462.4,980.8 464.3,979.3 466.3,977.7 468.2,976.2 470.2,974.6 472.2,973.1 474.1,971.6 476.1,970.1 478.1,968.6 480.1,967.1 482.1,965.5 484.0,964.0 486.0,962.5 488.0,961.1 490.0,959.6 492.0,958.1 494.0,956.6 496.0,955.1 498.0,953.6 500.1,952.2 502.1,950.7 504.1,949.2 506.1,947.7 508.1,946.3 510.2,944.8 512.2,943.3 514.3,941.9 516.3,940.4 518.4,938.9 520.4,937.5 522.5,936.1 524.6,934.7 526.7,933.3 528.8,931.9 530.9,930.6 533.0,929.3 535.2,928.0 537.3,926.8 539.5,925.6 541.7,924.5 544.0,923.4 546.2,922.3 548.5,921.4 550.8,920.4 553.1,919.6 555.5,918.8 557.9,918.1 560.3,917.5 562.7,916.9 565.2,916.4 567.7,916.0 570.1,915.7 572.7,915.4 575.2,915.2 577.7,915.1 580.2,915.1 582.7,915.1 585.3,915.2 587.8,915.4 590.3,915.7 592.8,916.1 595.2,916.5 597.7,917.0 600.1,917.6 602.5,918.3 604.9,919.1 607.3,919.9 609.6,920.8 611.9,921.7 614.2,922.7 616.4,923.8 618.7,924.9 620.9,926.1 623.0,927.4 625.2,928.7 627.3,930.0 629.4,931.4 631.4,932.8 633.5,934.3 635.4,935.8 637.4,937.3 639.3,938.9 641.2,940.5 643.1,942.1 644.9,943.8 646.7,945.5 648.5,947.2 650.3,948.9 652.0,950.6 653.8,952.4 655.5,954.2 657.1,956.0 658.8,957.8 660.5,959.7 662.1,961.6 663.7,963.4 665.4,965.3 667.0,967.2 668.6,969.1 670.2,971.0 671.8,973.0 673.4,974.9 674.9,976.8 676.5,978.8 678.1,980.7 679.7,982.7 681.3,984.6 682.9,986.6 684.5,988.5 686.2,990.5 687.8,992.4 689.4,994.4 691.0,996.4 692.6,998.3 694.2,1000.3 695.8,1002.2 697.4,1004.2 699.0,1006.2 700.6,1008.1 702.2,1010.1 703.8,1012.1 705.3,1014.0 706.9,1016.0 708.5,1018.0 710.0,1020.0 711.6,1021.9 713.1,1023.9 714.6,1025.9 716.1,1027.9 717.6,1029.9 719.1,1031.8 720.6,1033.8 722.1,1035.8 723.5,1037.8 724.9,1039.8 726.4,1041.8 727.8,1043.8 729.2,1045.8 730.7,1047.7 732.1,1049.7 733.5,1051.7 734.9,1053.7 736.4,1055.7 737.8,1057.7 739.2,1059.6 740.7,1061.6 742.1,1063.6 743.6,1065.6 745.0,1067.5 746.5,1069.5 748.0,1071.4 749.5,1073.4 751.0,1075.4 752.6,1077.3 754.1,1079.2 755.7,1081.2 757.3,1083.1 758.9,1085.0 760.6,1086.9 762.2,1088.8 763.9,1090.7 765.6,1092.6 767.4,1094.5 769.2,1096.4 771.0,1098.3 772.8,1100.1 774.7,1102.0 776.6,1103.8 778.6,1105.6 780.5,1107.4 782.5,1109.1 784.6,1110.7 786.6,1112.3 788.7,1113.8 790.9,1115.2 793.0,1116.6 795.2,1117.8 797.4,1118.9 799.6,1119.9 801.8,1120.7 804.1,1121.4 806.4,1121.9 808.7,1122.3 811.0,1122.5 813.3,1122.6 815.7,1122.4 818.0,1122.2 820.4,1121.7 822.7,1121.2 825.1,1120.5 827.4,1119.7 829.7,1118.8 832.0,1117.8 834.3,1116.7 836.5,1115.6 838.7,1114.4 840.9,1113.1 843.0,1111.8 845.1,1110.4 847.1,1109.0 849.1,1107.6 851.1,1106.1 853.1,1104.5 855.0,1102.9 856.9,1101.3 858.7,1099.7 860.5,1098.0 862.3,1096.3 864.1,1094.5 865.9,1092.7 867.6,1090.9 869.3,1089.1 871.0,1087.3 872.7,1085.4 874.4,1083.5 876.0,1081.6 877.7,1079.7 879.3,1077.7 880.9,1075.8 882.5,1073.8 884.1,1071.9 885.7,1069.9 887.3,1068.0 888.9,1066.0 890.5,1064.0 892.1,1062.1 893.7,1060.1 895.3,1058.2 896.9,1056.2 898.5,1054.3 900.1,1052.4 901.8,1050.5 903.4,1048.6 905.1,1046.7 906.7,1044.8 908.4,1042.9 910.0,1041.1 911.7,1039.3 913.4,1037.4 915.1,1035.6 916.8,1033.8 918.5,1032.0 920.2,1030.2 921.9,1028.4 923.7,1026.6 925.4,1024.9 927.1,1023.1 928.9,1021.3 930.6,1019.6 932.4,1017.8 934.1,1016.1 935.9,1014.4 937.7,1012.6 939.5,1010.9 941.2,1009.2 943.0,1007.5 944.8,1005.8 946.6,1004.1 948.4,1002.3 950.2,1000.6 952.0,998.9 953.8,997.2 955.6,995.5 957.4,993.8 959.3,992.1 961.1,990.4 962.9,988.7 964.7,987.0 966.5,985.3 968.4,983.6 970.2,981.9 972.0,980.2 973.9,978.5 975.7,976.8 977.6,975.0 979.4,973.3 981.2,971.6 983.1,969.9 984.9,968.2 986.8,966.5 988.7,964.8 990.5,963.1 992.4,961.4 994.3,959.7 996.2,958.1 998.0,956.4 999.9,954.7 1001.8,953.1 1003.8,951.4 1005.7,949.8 1007.6,948.2 1009.5,946.5 1011.5,944.9 1013.4,943.4 1015.4,941.8 1017.3,940.2 1019.3,938.7 1021.3,937.1 1023.3,935.6 1025.3,934.1 1027.3,932.7 1029.3,931.2 1031.3,929.7 1033.4,928.3 1035.4,926.9 1037.5,925.5 1039.6,924.2 1041.7,922.8 1043.8,921.5 1045.9,920.2 1048.0,919.0 1050.2,917.7 1052.3,916.5 1054.5,915.3 1056.7,914.1 1058.9,913.0 1061.1,911.9 1063.3,910.8 1065.5,909.7 1067.8,908.7 1070.0,907.6 1072.3,906.6 1074.6,905.6 1076.9,904.7 1079.2,903.7 1081.5,902.8 1083.8,901.9 1086.1,900.9 1088.4,900.1 1090.8,899.2 1093.1,898.3 1095.5,897.5 1097.8,896.6 1100.2,895.8 1102.6,895.0 1104.9,894.2 1107.3,893.4 1109.7,892.6 1112.1,891.8 1114.4,891.0 1116.8,890.3 1119.2,889.5 1121.6,888.7 1124.0,888.0 1126.4,887.2 1128.8,886.5 1131.2,885.7 1133.6,885.0 1136.0,884.2 1138.4,883.5 1140.8,882.7 1143.2,882.0 1145.6,881.2 1148.0,880.5 1150.3,879.7 1152.7,879.0 1155.1,878.2 1157.5,877.5 1159.9,876.8 1162.3,876.0 1164.7,875.3 1167.1,874.6 1169.5,873.9 1171.9,873.2 1174.3,872.5 1176.7,871.8 1179.1,871.1 1181.5,870.5 1183.9,869.8 1186.3,869.1 1188.7,868.5 1191.1,867.9 1193.5,867.2 1196.0,866.6 1198.4,866.0 1200.8,865.4 1203.2,864.9 1205.6,864.3 1208.1,863.8 1210.5,863.2 1212.9,862.7 1215.4,862.2 1217.8,861.7 1220.2,861.2 1222.7,860.7 1225.1,860.2 1227.6,859.7 1230.0,859.3 1232.5,858.8 1234.9,858.4 1237.4,858.0 1239.8,857.6 1242.3,857.2 1244.8,856.8 1247.2,856.4 1249.7,856.0 1252.1,855.6 1254.6,855.3 1257.1,854.9 1259.5,854.6 1262.0,854.2 1264.5,853.9 1267.0,853.5 1269.4,853.2 1271.9,852.9 1274.4,852.6 1276.9,852.3 1279.4,852.0 1281.8,851.7 1284.3,851.4 1286.8,851.1 1289.3,850.9 1291.8,850.6 1294.2,850.3 1296.7,850.0 1299.2,849.8 1301.7,849.5 1304.2,849.3 1306.7,849.0 1309.2,848.8 1311.7,848.5 1314.1,848.3 1316.6,848.0 1319.1,847.8 1321.6,847.6 1324.1,847.3 1326.6,847.1 1329.1,846.9 1331.6,846.6 1334.1,846.4 1336.5,846.2 1339.0,846.0 1341.5,845.7 1344.0,845.5 1346.5,845.3 1349.0,845.1 1351.5,844.8 1354.0,844.6 1356.5,844.4 1358.9,844.2 1361.4,844.0 1363.9,843.8 1366.4,843.6 1368.9,843.4 1371.4,843.1 1373.9,842.9 1376.4,842.7 1378.9,842.5 1381.4,842.3 1383.9,842.1 1386.3,841.9 1388.8,841.7 1391.3,841.5 1393.8,841.3 1396.3,841.1 1398.8,840.9 1401.3,840.8 1403.8,840.6 1406.3,840.4 1408.8,840.2 1411.3,840.0 1413.7,839.8 1416.2,839.6 1418.7,839.5 1421.2,839.3 1423.7,839.1 1426.2,838.9 1428.7,838.7 1431.2,838.6 1433.7,838.4 1436.2,838.2 1438.7,838.0 1441.2,837.9 1443.6,837.7 1446.1,837.5 1448.6,837.4 1451.1,837.2 1453.6,837.0 1456.1,836.9 1458.6,836.7 1461.1,836.5 1463.6,836.4 1466.1,836.2 1468.6,836.1 1471.1,835.9 1473.6,835.8 1476.0,835.6 1478.5,835.4 1481.0,835.3 1483.5,835.1 1486.0,835.0 1488.5,834.8 1491.0,834.7 1493.5,834.5 1496.0,834.4 1498.5,834.3 1501.0,834.1 1503.5,834.0 1506.0,833.8 1508.5,833.7 1511.0,833.5 1513.4,833.4 1515.9,833.3 1518.4,833.1 1520.9,833.0 1523.4,832.9 1525.9,832.7 1528.4,832.6 1530.9,832.5 1533.4,832.3 1535.9,832.2 1538.4,832.1 1540.9,832.0 1543.4,831.8 1545.9,831.7 1548.4,831.6 1550.9,831.5 1553.3,831.3 1555.8,831.2 1558.3,831.1 1560.8,831.0 1563.3,830.9 1565.8,830.8 1568.3,830.6 1570.8,830.5 1573.3,830.4 1575.8,830.3 1578.3,830.2 1580.8,830.1 1583.3,830.0 1585.8,829.9 1588.3,829.8 1590.8,829.6 1593.3,829.5 1595.8,829.4 1598.3,829.3 1600.7,829.2 1603.2,829.1 1605.7,829.0 1608.2,828.9 1610.7,828.8 1613.2,828.7 1615.7,828.6 1618.2,828.5 1620.7,828.4 1623.2,828.3 1625.7,828.2 1628.2,828.1 1630.7,828.1 1633.2,828.0 1635.7,827.9 1638.2,827.8 1640.7,827.7 1643.2,827.6 1645.7,827.5 1648.2,827.4 1650.7,827.3 1653.2,827.2 1655.6,827.2 1658.1,827.1 1660.6,827.0 1663.1,826.9 1665.6,826.8 1668.1,826.8 1670.6,826.7 1673.1,826.6 1675.6,826.5 1678.1,826.4 1680.6,826.4 1683.1,826.3 1685.6,826.2 1688.1,826.1 1690.6,826.1 1693.1,826.0 1695.6,825.9 1698.1,825.8 1700.6,825.8 1703.1,825.7 1705.6,825.6 1708.1,825.5 1710.6,825.5 1713.1,825.4 1715.6,825.3 1718.1,825.3 1720.6,825.2 1723.0,825.1 1725.5,825.1 1728.0,825.0 1730.5,824.9 1733.0,824.9 1735.5,824.8 1738.0,824.8 1740.5,824.7 1743.0,824.6 1745.5,824.6 1748.0,824.5 1750.5,824.5 1753.0,824.4 1755.5,824.3 1758.0,824.3 1760.5,824.2 1763.0,824.2 1765.5,824.1 1768.0,824.1 1770.5,824.0 1773.0,823.9 1775.5,823.9 1778.0,823.8 1780.5,823.8 1783.0,823.7 1785.5,823.7 1788.0,823.6 1790.5,823.6 1793.0,823.5 1795.5,823.5 1798.0,823.4 1800.5,823.4 1803.0,823.3 1805.5,823.3 1807.9,823.2 1810.4,823.2 1812.9,823.1 1815.4,823.1 1817.9,823.1 1820.4,823.0 1822.9,823.0 1825.4,822.9 1827.9,822.9 1830.4,822.8 1832.9,822.8 1835.4,822.7 1837.9,822.7 1840.4,822.7 1842.9,822.6 1845.4,822.6 1847.9,822.5 1850.4,822.5 1852.9,822.5 1855.4,822.4 1857.9,822.4 1860.4,822.3 1862.9,822.3 1865.4,822.3 1867.9,822.2 1870.4,822.2 1872.9,822.1 1875.4,822.1 1877.9,822.1 1880.4,822.0 1882.9,822.0 1885.4,822.0 1887.9,821.9 1890.4,821.9 1892.9,821.9 1895.4,821.8 1897.9,821.8 1900.4,821.7 1902.9,821.7 1905.4,821.7 1907.9,821.6 1910.4,821.6 1912.9,821.6 1915.3,821.5 1917.8,821.5 1920.3,821.5 1922.8,821.5 1925.3,821.4 1927.8,821.4 1930.3,821.4 1932.8,821.3 1935.3,821.3 1937.8,821.3 1940.3,821.2 1942.8,821.2 1945.3,821.2 1947.8,821.1 1950.3,821.1 1952.8,821.1 1955.3,821.1 1957.8,821.0 1960.3,821.0 1962.8,821.0 1965.3,820.9 1967.8,820.9 1970.3,820.9 1972.8,820.8 1975.3,820.8 1977.8,820.8 1980.3,820.8 1982.8,820.7 1985.3,820.7 1987.8,820.7 1990.3,820.6 1992.8,820.6 1995.3,820.6 1997.8,820.6 2000.3,820.5 2002.8,820.5 2005.3,820.5 2007.8,820.4 2010.3,820.4 2012.8,820.4 2015.3,820.4 2017.8,820.3 2020.3,820.3 2022.8,820.3 2025.3,820.3 2027.8,820.2 2030.3,820.2 2032.7,820.2 2035.2,820.1 2037.7,820.1 2040.2,820.1 2042.7,820.1 2045.2,820.0 2047.7,820.0 2050.2,820.0 2052.7,819.9 2055.2,819.9 2057.7,819.9 2060.2,819.9 2062.7,819.8 2065.2,819.8 2067.7,819.8 2070.2,819.7 2072.7,819.7 2075.2,819.7 2077.7,819.7 2080.2,819.6 2082.7,819.6 2085.2,819.6 2087.7,819.5 2090.2,819.5 2092.7,819.5 2095.2,819.5 2097.7,819.4 2100.2,819.4 2102.7,819.4 2105.2,819.3 2107.7,819.3 2110.2,819.3 2112.7,819.2 2115.2,819.2 2117.7,819.2 2120.2,819.1 2122.7,819.1 2125.2,819.1 2127.7,819.0 2130.2,819.0 2132.7,819.0 2135.2,818.9 2137.6,818.9 2140.1,818.9 2142.6,818.8 2145.1,818.8 2147.6,818.8 2150.1,818.7 2152.6,818.7 2155.1,818.7 2157.6,818.6 2160.1,818.6 2162.6,818.6 2165.1,818.5 2167.6,818.5 2170.1,818.5 2172.6,818.4 2175.1,818.4 2177.6,818.3 2180.1,818.3 2182.6,818.3 2185.1,818.2 2187.6,818.2 2190.1,818.2 2192.6,818.1 2195.1,818.1 2197.6,818.0 2200.1,818.0 2202.6,818.0 2205.1,817.9 2207.6,817.9 2210.1,817.8 2212.6,817.8 2215.1,817.7 2217.6,817.7 2220.0,817.7 2222.5,817.6 2225.0,817.6 2227.5,817.5 2230.0,817.5 2232.5,817.4 2235.0,817.4 2237.5,817.3 2240.0,817.3 2242.5,817.2 2245.0,817.2 2247.5,817.1 2250.0,817.1 2252.5,817.0 2255.0,817.0"/>
<path stroke="#16169a" d="M228.0,1143.0L228.1,1140.3 228.3,1137.7 228.6,1135.2 229.1,1132.6 229.7,1130.2 230.3,1127.8 231.1,1125.4 232.0,1123.2 233.0,1120.9 234.1,1118.7 235.2,1116.5 236.5,1114.4 237.8,1112.4 239.2,1110.3 240.6,1108.3 242.1,1106.4 243.7,1104.5 245.3,1102.6 247.0,1100.8 248.7,1098.9 250.5,1097.2 252.3,1095.4 254.1,1093.7 256.0,1092.0 257.8,1090.3 259.7,1088.7 261.6,1087.0 263.5,1085.4 265.5,1083.8 267.4,1082.3 269.4,1080.7 271.4,1079.2 273.4,1077.7 275.4,1076.2 277.4,1074.7 279.4,1073.3 281.4,1071.8 283.5,1070.4 285.5,1069.0 287.6,1067.6 289.7,1066.2 291.8,1064.8 293.8,1063.4 295.9,1062.0 298.0,1060.6 300.1,1059.3 302.2,1057.9 304.3,1056.6 306.4,1055.2 308.5,1053.9 310.7,1052.6 312.8,1051.2 314.9,1049.9 317.0,1048.6 319.1,1047.2 321.2,1045.9 323.4,1044.6 325.5,1043.3 327.6,1042.0 329.8,1040.7 331.9,1039.4 334.1,1038.2 336.2,1036.9 338.4,1035.7 340.5,1034.4 342.7,1033.2 344.9,1032.0 347.1,1030.8 349.3,1029.7 351.5,1028.5 353.7,1027.4 355.9,1026.2 358.1,1025.1 360.4,1024.1 362.6,1023.0 364.9,1021.9 367.2,1020.9 369.5,1019.9 371.8,1018.9 374.1,1018.0 376.4,1017.0 378.7,1016.1 381.0,1015.1 383.3,1014.2 385.6,1013.3 388.0,1012.3 390.3,1011.4 392.6,1010.5 394.9,1009.5 397.3,1008.6 399.6,1007.6 401.9,1006.7 404.2,1005.7 406.5,1004.7 408.7,1003.7 411.0,1002.7 413.2,1001.6 415.5,1000.5 417.7,999.4 419.9,998.3 422.1,997.1 424.3,995.9 426.4,994.6 428.6,993.3 430.7,992.0 432.8,990.7 434.9,989.3 437.0,987.9 439.0,986.5 441.1,985.1 443.2,983.7 445.2,982.2 447.3,980.8 449.3,979.3 451.3,977.9 453.4,976.4 455.4,974.9 457.4,973.4 459.5,972.0 461.5,970.5 463.5,969.1 465.6,967.6 467.6,966.2 469.7,964.8 471.8,963.4 473.8,962.0 475.9,960.6 478.0,959.2 480.1,957.8 482.1,956.5 484.2,955.1 486.3,953.8 488.4,952.4 490.5,951.1 492.6,949.7 494.7,948.4 496.7,947.0 498.8,945.6 500.9,944.3 503.0,942.9 505.0,941.5 507.1,940.1 509.1,938.7 511.2,937.3 513.2,935.8 515.2,934.4 517.3,932.9 519.3,931.4 521.3,929.9 523.3,928.5 525.3,927.0 527.3,925.5 529.4,924.1 531.4,922.6 533.5,921.2 535.5,919.8 537.6,918.4 539.7,917.0 541.8,915.7 543.9,914.4 546.1,913.2 548.2,911.9 550.4,910.8 552.7,909.6 554.9,908.5 557.2,907.5 559.5,906.5 561.9,905.6 564.2,904.7 566.6,903.9 569.1,903.2 571.5,902.5 574.0,901.9 576.4,901.3 578.9,900.8 581.4,900.4 583.9,900.1 586.4,899.8 588.9,899.5 591.3,899.4 593.8,899.3 596.3,899.3 598.8,899.4 601.2,899.5 603.6,899.7 606.1,900.0 608.5,900.4 610.9,900.8 613.3,901.3 615.6,901.8 618.0,902.4 620.3,903.1 622.7,903.8 625.0,904.6 627.3,905.4 629.6,906.3 631.9,907.3 634.1,908.3 636.4,909.3 638.6,910.4 640.8,911.5 643.0,912.7 645.2,914.0 647.4,915.2 649.6,916.5 651.7,917.9 653.8,919.3 656.0,920.7 658.1,922.2 660.1,923.7 662.2,925.2 664.3,926.7 666.3,928.3 668.3,929.9 670.3,931.6 672.3,933.2 674.3,934.9 676.2,936.6 678.2,938.3 680.1,940.1 682.0,941.8 683.9,943.6 685.7,945.4 687.6,947.2 689.4,949.0 691.2,950.8 693.0,952.6 694.8,954.4 696.5,956.2 698.3,958.1 700.0,959.9 701.7,961.7 703.4,963.6 705.1,965.4 706.7,967.2 708.4,969.0 710.0,970.9 711.7,972.7 713.3,974.5 714.9,976.4 716.5,978.2 718.1,980.0 719.7,981.8 721.3,983.7 723.0,985.5 724.6,987.3 726.2,989.1 727.8,990.9 729.4,992.8 731.1,994.6 732.7,996.4 734.4,998.2 736.1,1000.0 737.8,1001.8 739.5,1003.6 741.2,1005.4 742.9,1007.2 744.6,1009.0 746.4,1010.8 748.2,1012.6 749.9,1014.3 751.7,1016.1 753.5,1017.9 755.3,1019.6 757.1,1021.4 758.9,1023.1 760.8,1024.9 762.6,1026.6 764.5,1028.3 766.3,1030.0 768.2,1031.7 770.0,1033.4 771.9,1035.1 773.8,1036.7 775.6,1038.4 777.5,1040.0 779.4,1041.6 781.3,1043.2 783.2,1044.8 785.1,1046.4 787.0,1048.0 788.9,1049.6 790.8,1051.2 792.7,1052.8 794.6,1054.4 796.6,1056.1 798.5,1057.7 800.5,1059.3 802.5,1060.8 804.5,1062.3 806.6,1063.7 808.8,1065.0 811.0,1066.2 813.2,1067.3 815.6,1068.2 817.9,1069.0 820.4,1069.6 822.8,1070.1 825.2,1070.5 827.7,1070.7 830.1,1070.7 832.6,1070.6 835.0,1070.4 837.3,1069.9 839.6,1069.3 841.9,1068.5 844.1,1067.6 846.3,1066.5 848.4,1065.3 850.4,1064.0 852.5,1062.6 854.5,1061.0 856.4,1059.4 858.4,1057.8 860.3,1056.1 862.2,1054.3 864.1,1052.5 866.0,1050.7 867.9,1048.9 869.7,1047.1 871.6,1045.4 873.5,1043.6 875.3,1041.9 877.2,1040.2 879.1,1038.5 880.9,1036.8 882.8,1035.1 884.7,1033.5 886.5,1031.8 888.4,1030.2 890.2,1028.5 892.1,1026.8 893.9,1025.2 895.7,1023.5 897.5,1021.9 899.4,1020.2 901.2,1018.5 903.0,1016.8 904.7,1015.1 906.5,1013.4 908.3,1011.6 910.1,1009.9 911.8,1008.2 913.6,1006.4 915.4,1004.7 917.1,1002.9 918.9,1001.1 920.6,999.4 922.4,997.6 924.1,995.8 925.9,994.1 927.6,992.3 929.4,990.5 931.1,988.8 932.9,987.0 934.7,985.2 936.4,983.5 938.2,981.7 939.9,979.9 941.7,978.2 943.5,976.4 945.3,974.7 947.1,973.0 948.9,971.2 950.7,969.5 952.5,967.8 954.3,966.1 956.2,964.4 958.0,962.7 959.9,961.1 961.7,959.4 963.6,957.8 965.5,956.1 967.4,954.5 969.3,952.9 971.2,951.3 973.2,949.8 975.1,948.2 977.1,946.7 979.1,945.2 981.1,943.6 983.1,942.2 985.1,940.7 987.1,939.2 989.2,937.8 991.3,936.3 993.3,934.9 995.4,933.5 997.5,932.1 999.6,930.8 1001.7,929.4 1003.8,928.1 1006.0,926.7 1008.1,925.4 1010.3,924.1 1012.4,922.8 1014.6,921.6 1016.8,920.3 1019.0,919.1 1021.2,917.8 1023.4,916.6 1025.6,915.4 1027.8,914.2 1030.0,913.1 1032.2,911.9 1034.5,910.7 1036.7,909.6 1039.0,908.5 1041.2,907.4 1043.5,906.3 1045.7,905.2 1048.0,904.1 1050.3,903.1 1052.5,902.0 1054.8,901.0 1057.1,900.0 1059.4,898.9 1061.7,897.9 1064.0,897.0 1066.3,896.0 1068.6,895.0 1070.9,894.1 1073.2,893.1 1075.5,892.2 1077.8,891.3 1080.2,890.4 1082.5,889.5 1084.8,888.6 1087.1,887.7 1089.5,886.9 1091.8,886.0 1094.1,885.2 1096.5,884.4 1098.8,883.6 1101.2,882.7 1103.5,881.9 1105.9,881.2 1108.3,880.4 1110.6,879.6 1113.0,878.9 1115.4,878.1 1117.7,877.4 1120.1,876.7 1122.5,875.9 1124.9,875.2 1127.2,874.5 1129.6,873.9 1132.0,873.2 1134.4,872.5 1136.8,871.8 1139.2,871.2 1141.6,870.6 1144.0,869.9 1146.4,869.3 1148.8,868.7 1151.2,868.1 1153.6,867.5 1156.0,866.9 1158.4,866.3 1160.9,865.7 1163.3,865.2 1165.7,864.6 1168.1,864.0 1170.6,863.5 1173.0,863.0 1175.4,862.4 1177.9,861.9 1180.3,861.4 1182.7,860.9 1185.2,860.4 1187.6,859.9 1190.1,859.4 1192.5,859.0 1194.9,858.5 1197.4,858.0 1199.8,857.6 1202.3,857.1 1204.7,856.7 1207.2,856.2 1209.7,855.8 1212.1,855.4 1214.6,855.0 1217.0,854.5 1219.5,854.1 1222.0,853.7 1224.4,853.3 1226.9,853.0 1229.4,852.6 1231.8,852.2 1234.3,851.8 1236.8,851.4 1239.3,851.1 1241.7,850.7 1244.2,850.4 1246.7,850.0 1249.2,849.7 1251.6,849.3 1254.1,849.0 1256.6,848.7 1259.1,848.3 1261.6,848.0 1264.1,847.7 1266.5,847.4 1269.0,847.1 1271.5,846.8 1274.0,846.5 1276.5,846.2 1279.0,845.9 1281.5,845.6 1284.0,845.3 1286.4,845.0 1288.9,844.7 1291.4,844.5 1293.9,844.2 1296.4,843.9 1298.9,843.6 1301.4,843.4 1303.9,843.1 1306.4,842.9 1308.9,842.6 1311.4,842.3 1313.9,842.1 1316.4,841.8 1318.9,841.6 1321.3,841.3 1323.8,841.1 1326.3,840.9 1328.8,840.6 1331.3,840.4 1333.8,840.1 1336.3,839.9 1338.8,839.7 1341.3,839.4 1343.8,839.2 1346.3,839.0 1348.8,838.7 1351.3,838.5 1353.8,838.3 1356.3,838.1 1358.8,837.8 1361.3,837.6 1363.8,837.4 1366.2,837.2 1368.7,837.0 1371.2,836.8 1373.7,836.6 1376.2,836.3 1378.7,836.1 1381.2,835.9 1383.7,835.7 1386.2,835.5 1388.7,835.3 1391.2,835.1 1393.7,834.9 1396.2,834.7 1398.7,834.5 1401.2,834.4 1403.7,834.2 1406.2,834.0 1408.7,833.8 1411.1,833.6 1413.6,833.4 1416.1,833.2 1418.6,833.0 1421.1,832.9 1423.6,832.7 1426.1,832.5 1428.6,832.3 1431.1,832.2 1433.6,832.0 1436.1,831.8 1438.6,831.7 1441.1,831.5 1443.6,831.3 1446.1,831.2 1448.6,831.0 1451.1,830.8 1453.6,830.7 1456.0,830.5 1458.5,830.4 1461.0,830.2 1463.5,830.0 1466.0,829.9 1468.5,829.7 1471.0,829.6 1473.5,829.4 1476.0,829.3 1478.5,829.1 1481.0,829.0 1483.5,828.9 1486.0,828.7 1488.5,828.6 1491.0,828.4 1493.5,828.3 1496.0,828.2 1498.5,828.0 1501.0,827.9 1503.4,827.8 1505.9,827.6 1508.4,827.5 1510.9,827.4 1513.4,827.2 1515.9,827.1 1518.4,827.0 1520.9,826.9 1523.4,826.7 1525.9,826.6 1528.4,826.5 1530.9,826.4 1533.4,826.3 1535.9,826.1 1538.4,826.0 1540.9,825.9 1543.4,825.8 1545.9,825.7 1548.4,825.6 1550.8,825.5 1553.3,825.4 1555.8,825.3 1558.3,825.2 1560.8,825.0 1563.3,824.9 1565.8,824.8 1568.3,824.7 1570.8,824.6 1573.3,824.5 1575.8,824.4 1578.3,824.3 1580.8,824.3 1583.3,824.2 1585.8,824.1 1588.3,824.0 1590.8,823.9 1593.3,823.8 1595.8,823.7 1598.2,823.6 1600.7,823.5 1603.2,823.4 1605.7,823.4 1608.2,823.3 1610.7,823.2 1613.2,823.1 1615.7,823.0 1618.2,822.9 1620.7,822.9 1623.2,822.8 1625.7,822.7 1628.2,822.6 1630.7,822.6 1633.2,822.5 1635.7,822.4 1638.2,822.3 1640.7,822.3 1643.2,822.2 1645.7,822.1 1648.2,822.1 1650.6,822.0 1653.1,821.9 1655.6,821.9 1658.1,821.8 1660.6,821.7 1663.1,821.7 1665.6,821.6 1668.1,821.5 1670.6,821.5 1673.1,821.4 1675.6,821.4 1678.1,821.3 1680.6,821.2 1683.1,821.2 1685.6,821.1 1688.1,821.1 1690.6,821.0 1693.1,821.0 1695.6,820.9 1698.1,820.9 1700.6,820.8 1703.0,820.8 1705.5,820.7 1708.0,820.7 1710.5,820.6 1713.0,820.6 1715.5,820.5 1718.0,820.5 1720.5,820.4 1723.0,820.4 1725.5,820.3 1728.0,820.3 1730.5,820.2 1733.0,820.2 1735.5,820.2 1738.0,820.1 1740.5,820.1 1743.0,820.0 1745.5,820.0 1748.0,820.0 1750.5,819.9 1753.0,819.9 1755.5,819.8 1758.0,819.8 1760.4,819.8 1762.9,819.7 1765.4,819.7 1767.9,819.7 1770.4,819.6 1772.9,819.6 1775.4,819.6 1777.9,819.5 1780.4,819.5 1782.9,819.5 1785.4,819.4 1787.9,819.4 1790.4,819.4 1792.9,819.3 1795.4,819.3 1797.9,819.3 1800.4,819.3 1802.9,819.2 1805.4,819.2 1807.9,819.2 1810.4,819.2 1812.9,819.1 1815.4,819.1 1817.9,819.1 1820.4,819.1 1822.8,819.0 1825.3,819.0 1827.8,819.0 1830.3,819.0 1832.8,818.9 1835.3,818.9 1837.8,818.9 1840.3,818.9 1842.8,818.9 1845.3,818.8 1847.8,818.8 1850.3,818.8 1852.8,818.8 1855.3,818.8 1857.8,818.7 1860.3,818.7 1862.8,818.7 1865.3,818.7 1867.8,818.7 1870.3,818.6 1872.8,818.6 1875.3,818.6 1877.8,818.6 1880.3,818.6 1882.8,818.6 1885.3,818.5 1887.8,818.5 1890.3,818.5 1892.7,818.5 1895.2,818.5 1897.7,818.5 1900.2,818.4 1902.7,818.4 1905.2,818.4 1907.7,818.4 1910.2,818.4 1912.7,818.4 1915.2,818.4 1917.7,818.3 1920.2,818.3 1922.7,818.3 1925.2,818.3 1927.7,818.3 1930.2,818.3 1932.7,818.3 1935.2,818.2 1937.7,818.2 1940.2,818.2 1942.7,818.2 1945.2,818.2 1947.7,818.2 1950.2,818.2 1952.7,818.1 1955.2,818.1 1957.7,818.1 1960.2,818.1 1962.7,818.1 1965.2,818.1 1967.7,818.1 1970.2,818.0 1972.7,818.0 1975.2,818.0 1977.6,818.0 1980.1,818.0 1982.6,818.0 1985.1,818.0 1987.6,817.9 1990.1,817.9 1992.6,817.9 1995.1,817.9 1997.6,817.9 2000.1,817.9 2002.6,817.9 2005.1,817.8 2007.6,817.8 2010.1,817.8 2012.6,817.8 2015.1,817.8 2017.6,817.8 2020.1,817.8 2022.6,817.7 2025.1,817.7 2027.6,817.7 2030.1,817.7 2032.6,817.7 2035.1,817.7 2037.6,817.6 2040.1,817.6 2042.6,817.6 2045.1,817.6 2047.6,817.6 2050.1,817.6 2052.6,817.5 2055.1,817.5 2057.6,817.5 2060.1,817.5 2062.6,817.5 2065.1,817.4 2067.6,817.4 2070.1,817.4 2072.6,817.4 2075.1,817.3 2077.6,817.3 2080.1,817.3 2082.6,817.3 2085.1,817.3 2087.6,817.2 2090.1,817.2 2092.6,817.2 2095.0,817.2 2097.5,817.1 2100.0,817.1 2102.5,817.1 2105.0,817.1 2107.5,817.0 2110.0,817.0 2112.5,817.0 2115.0,817.0 2117.5,816.9 2120.0,816.9 2122.5,816.9 2125.0,816.8 2127.5,816.8 2130.0,816.8 2132.5,816.7 2135.0,816.7 2137.5,816.7 2140.0,816.7 2142.5,816.6 2145.0,816.6 2147.5,816.6 2150.0,816.5 2152.5,816.5 2155.0,816.4 2157.5,816.4 2160.0,816.4 2162.5,816.3 2165.0,816.3 2167.5,816.3 2170.0,816.2 2172.5,816.2 2175.0,816.1 2177.5,816.1 2180.0,816.1 2182.5,816.0 2185.0,816.0 2187.5,815.9 2190.0,815.9 2192.5,815.8 2195.0,815.8 2197.5,815.7 2200.0,815.7 2202.5,815.6 2205.0,815.6 2207.5,815.5 2210.0,815.5 2212.5,815.4 2215.0,815.4 2217.5,815.3 2220.0,815.3 2222.5,815.2 2225.0,815.2 2227.5,815.1 2230.0,815.1 2232.5,815.0 2235.0,815.0 2237.5,814.9 2240.0,814.8 2242.5,814.8 2245.0,814.7 2247.5,814.7 2250.0,814.6 2252.5,814.5 2255.0,814.5"/>
<path stroke="#000000" d="M228.0,1119.0L229.0,1116.9 229.9,1114.7 230.8,1112.5 231.7,1110.2 232.6,1107.9 233.4,1105.5 234.2,1103.1 235.1,1100.7 235.9,1098.3 236.7,1095.9 237.6,1093.5 238.5,1091.0 239.4,1088.6 240.3,1086.2 241.3,1083.9 242.3,1081.5 243.4,1079.3 244.5,1077.0 245.7,1074.8 246.9,1072.7 248.2,1070.6 249.6,1068.6 251.1,1066.7 252.7,1064.8 254.3,1063.0 255.9,1061.2 257.7,1059.5 259.4,1057.9 261.3,1056.3 263.2,1054.7 265.1,1053.2 267.0,1051.7 269.0,1050.2 271.1,1048.7 273.1,1047.3 275.2,1045.9 277.3,1044.5 279.4,1043.1 281.5,1041.7 283.6,1040.3 285.7,1039.0 287.8,1037.6 289.9,1036.1 292.0,1034.7 294.1,1033.3 296.2,1031.8 298.2,1030.3 300.2,1028.8 302.2,1027.3 304.2,1025.7 306.2,1024.2 308.2,1022.6 310.2,1021.1 312.1,1019.5 314.1,1017.9 316.0,1016.3 318.0,1014.7 319.9,1013.2 321.8,1011.6 323.8,1010.0 325.7,1008.5 327.7,1006.9 329.7,1005.4 331.6,1003.9 333.6,1002.4 335.6,1001.0 337.6,999.5 339.7,998.1 341.7,996.8 343.8,995.4 345.9,994.1 348.0,992.8 350.1,991.6 352.3,990.4 354.4,989.3 356.6,988.2 358.9,987.1 361.1,986.1 363.4,985.1 365.7,984.1 368.0,983.1 370.3,982.2 372.6,981.3 375.0,980.4 377.3,979.5 379.7,978.7 382.0,977.8 384.4,976.9 386.7,976.1 389.1,975.2 391.5,974.4 393.8,973.5 396.2,972.6 398.5,971.7 400.9,970.8 403.2,969.9 405.5,968.9 407.8,967.9 410.1,966.9 412.3,965.9 414.6,964.8 416.8,963.7 419.1,962.6 421.3,961.5 423.5,960.4 425.7,959.2 427.9,958.0 430.1,956.9 432.3,955.7 434.5,954.5 436.6,953.3 438.8,952.1 441.0,950.9 443.2,949.8 445.4,948.6 447.6,947.4 449.8,946.3 452.0,945.2 454.2,944.0 456.5,942.9 458.7,941.8 460.9,940.7 463.1,939.6 465.4,938.5 467.6,937.4 469.8,936.2 472.1,935.1 474.3,934.0 476.5,932.9 478.7,931.8 481.0,930.7 483.2,929.6 485.4,928.5 487.7,927.3 489.9,926.2 492.1,925.1 494.3,923.9 496.6,922.8 498.8,921.6 501.0,920.4 503.2,919.3 505.4,918.1 507.6,916.9 509.8,915.8 512.0,914.6 514.3,913.4 516.5,912.3 518.7,911.1 520.9,909.9 523.1,908.8 525.4,907.7 527.6,906.5 529.8,905.4 532.1,904.3 534.3,903.2 536.5,902.1 538.8,901.0 541.1,900.0 543.3,898.9 545.6,897.9 547.9,896.9 550.2,895.9 552.4,895.0 554.7,894.0 557.1,893.1 559.4,892.2 561.7,891.3 564.0,890.5 566.4,889.6 568.7,888.8 571.1,888.1 573.5,887.3 575.9,886.6 578.3,885.9 580.7,885.3 583.1,884.7 585.6,884.1 588.0,883.6 590.5,883.1 592.9,882.6 595.4,882.2 597.9,881.8 600.3,881.5 602.8,881.2 605.3,881.0 607.8,880.8 610.3,880.7 612.8,880.6 615.2,880.6 617.7,880.6 620.2,880.8 622.7,880.9 625.1,881.1 627.6,881.4 630.0,881.7 632.5,882.1 634.9,882.5 637.4,883.0 639.8,883.5 642.2,884.1 644.7,884.6 647.1,885.2 649.5,885.9 651.9,886.5 654.3,887.2 656.8,887.9 659.2,888.6 661.6,889.4 664.0,890.1 666.4,890.9 668.8,891.6 671.2,892.4 673.6,893.1 676.0,893.9 678.3,894.7 680.7,895.5 683.1,896.3 685.5,897.1 687.9,897.9 690.2,898.7 692.6,899.5 695.0,900.3 697.3,901.2 699.7,902.0 702.0,902.9 704.4,903.7 706.7,904.6 709.1,905.4 711.4,906.3 713.7,907.2 716.1,908.1 718.4,909.0 720.7,909.9 723.0,910.9 725.3,911.8 727.6,912.8 729.9,913.7 732.2,914.7 734.5,915.7 736.7,916.6 739.0,917.6 741.3,918.6 743.5,919.7 745.8,920.7 748.0,921.7 750.3,922.8 752.5,923.8 754.7,924.9 757.0,926.0 759.2,927.1 761.4,928.2 763.6,929.4 765.8,930.6 767.9,931.8 770.1,933.0 772.3,934.2 774.4,935.5 776.6,936.8 778.7,938.2 780.8,939.5 782.9,940.9 785.1,942.4 787.2,943.8 789.3,945.2 791.4,946.7 793.5,948.1 795.6,949.5 797.8,950.8 799.9,952.1 802.1,953.3 804.3,954.4 806.5,955.5 808.8,956.5 811.0,957.3 813.4,958.1 815.7,958.7 818.1,959.2 820.5,959.7 822.9,960.0 825.3,960.2 827.8,960.4 830.2,960.4 832.7,960.4 835.2,960.3 837.6,960.1 840.1,959.8 842.5,959.5 845.0,959.0 847.4,958.6 849.9,958.0 852.3,957.4 854.7,956.7 857.0,955.9 859.4,955.2 861.7,954.3 864.0,953.4 866.3,952.5 868.6,951.5 870.8,950.5 873.1,949.4 875.3,948.3 877.5,947.1 879.7,946.0 881.9,944.8 884.0,943.5 886.2,942.3 888.4,941.0 890.5,939.7 892.7,938.4 894.8,937.1 896.9,935.8 899.1,934.4 901.2,933.1 903.3,931.8 905.5,930.4 907.6,929.1 909.7,927.7 911.9,926.4 914.0,925.1 916.2,923.8 918.3,922.5 920.5,921.2 922.7,919.9 924.8,918.6 927.0,917.4 929.2,916.1 931.4,914.9 933.6,913.7 935.8,912.5 938.0,911.3 940.2,910.1 942.4,909.0 944.7,907.8 946.9,906.7 949.1,905.5 951.4,904.4 953.6,903.3 955.8,902.2 958.1,901.1 960.4,900.0 962.6,899.0 964.9,897.9 967.2,896.9 969.4,895.9 971.7,894.8 974.0,893.8 976.3,892.8 978.6,891.9 980.9,890.9 983.2,889.9 985.5,889.0 987.8,888.0 990.1,887.1 992.5,886.2 994.8,885.3 997.1,884.4 999.4,883.5 1001.8,882.6 1004.1,881.8 1006.5,880.9 1008.8,880.1 1011.2,879.2 1013.5,878.4 1015.9,877.6 1018.2,876.8 1020.6,876.0 1023.0,875.3 1025.4,874.5 1027.7,873.7 1030.1,873.0 1032.5,872.3 1034.9,871.5 1037.3,870.8 1039.7,870.1 1042.1,869.4 1044.5,868.7 1046.9,868.1 1049.3,867.4 1051.7,866.7 1054.1,866.1 1056.5,865.5 1058.9,864.8 1061.3,864.2 1063.7,863.6 1066.2,863.0 1068.6,862.4 1071.0,861.9 1073.4,861.3 1075.9,860.7 1078.3,860.2 1080.8,859.7 1083.2,859.1 1085.6,858.6 1088.1,858.1 1090.5,857.6 1093.0,857.1 1095.4,856.6 1097.9,856.2 1100.3,855.7 1102.8,855.2 1105.2,854.8 1107.7,854.3 1110.1,853.9 1112.6,853.5 1115.1,853.0 1117.5,852.6 1120.0,852.2 1122.5,851.8 1124.9,851.4 1127.4,851.0 1129.9,850.6 1132.3,850.2 1134.8,849.9 1137.3,849.5 1139.7,849.1 1142.2,848.8 1144.7,848.4 1147.2,848.1 1149.6,847.7 1152.1,847.4 1154.6,847.0 1157.1,846.7 1159.6,846.4 1162.0,846.0 1164.5,845.7 1167.0,845.4 1169.5,845.1 1171.9,844.8 1174.4,844.4 1176.9,844.1 1179.4,843.8 1181.9,843.5 1184.3,843.2 1186.8,842.9 1189.3,842.7 1191.8,842.4 1194.3,842.1 1196.7,841.8 1199.2,841.5 1201.7,841.3 1204.2,841.0 1206.7,840.7 1209.2,840.4 1211.6,840.2 1214.1,839.9 1216.6,839.7 1219.1,839.4 1221.6,839.2 1224.1,838.9 1226.6,838.7 1229.0,838.4 1231.5,838.2 1234.0,837.9 1236.5,837.7 1239.0,837.5 1241.5,837.2 1244.0,837.0 1246.4,836.8 1248.9,836.6 1251.4,836.4 1253.9,836.1 1256.4,835.9 1258.9,835.7 1261.4,835.5 1263.9,835.3 1266.4,835.1 1268.8,834.9 1271.3,834.7 1273.8,834.5 1276.3,834.3 1278.8,834.1 1281.3,833.9 1283.8,833.7 1286.3,833.5 1288.8,833.3 1291.3,833.1 1293.7,833.0 1296.2,832.8 1298.7,832.6 1301.2,832.4 1303.7,832.3 1306.2,832.1 1308.7,831.9 1311.2,831.7 1313.7,831.6 1316.2,831.4 1318.7,831.3 1321.2,831.1 1323.6,830.9 1326.1,830.8 1328.6,830.6 1331.1,830.5 1333.6,830.3 1336.1,830.2 1338.6,830.0 1341.1,829.9 1343.6,829.7 1346.1,829.6 1348.6,829.4 1351.1,829.3 1353.6,829.1 1356.1,829.0 1358.6,828.8 1361.0,828.7 1363.5,828.6 1366.0,828.4 1368.5,828.3 1371.0,828.2 1373.5,828.0 1376.0,827.9 1378.5,827.8 1381.0,827.6 1383.5,827.5 1386.0,827.4 1388.5,827.2 1391.0,827.1 1393.5,827.0 1396.0,826.9 1398.5,826.7 1401.0,826.6 1403.5,826.5 1405.9,826.4 1408.4,826.3 1410.9,826.1 1413.4,826.0 1415.9,825.9 1418.4,825.8 1420.9,825.7 1423.4,825.6 1425.9,825.4 1428.4,825.3 1430.9,825.2 1433.4,825.1 1435.9,825.0 1438.4,824.9 1440.9,824.8 1443.4,824.7 1445.9,824.6 1448.4,824.4 1450.9,824.3 1453.4,824.2 1455.8,824.1 1458.3,824.0 1460.8,823.9 1463.3,823.8 1465.8,823.7 1468.3,823.6 1470.8,823.5 1473.3,823.4 1475.8,823.3 1478.3,823.2 1480.8,823.1 1483.3,823.0 1485.8,822.9 1488.3,822.8 1490.8,822.7 1493.3,822.7 1495.8,822.6 1498.3,822.5 1500.8,822.4 1503.3,822.3 1505.8,822.2 1508.3,822.1 1510.8,822.0 1513.2,821.9 1515.7,821.8 1518.2,821.8 1520.7,821.7 1523.2,821.6 1525.7,821.5 1528.2,821.4 1530.7,821.3 1533.2,821.3 1535.7,821.2 1538.2,821.1 1540.7,821.0 1543.2,820.9 1545.7,820.9 1548.2,820.8 1550.7,820.7 1553.2,820.6 1555.7,820.6 1558.2,820.5 1560.7,820.4 1563.2,820.3 1565.7,820.3 1568.2,820.2 1570.7,820.1 1573.2,820.1 1575.7,820.0 1578.2,819.9 1580.6,819.8 1583.1,819.8 1585.6,819.7 1588.1,819.6 1590.6,819.6 1593.1,819.5 1595.6,819.4 1598.1,819.4 1600.6,819.3 1603.1,819.3 1605.6,819.2 1608.1,819.1 1610.6,819.1 1613.1,819.0 1615.6,818.9 1618.1,818.9 1620.6,818.8 1623.1,818.8 1625.6,818.7 1628.1,818.7 1630.6,818.6 1633.1,818.5 1635.6,818.5 1638.1,818.4 1640.6,818.4 1643.1,818.3 1645.6,818.3 1648.1,818.2 1650.6,818.2 1653.1,818.1 1655.6,818.1 1658.0,818.0 1660.5,818.0 1663.0,817.9 1665.5,817.9 1668.0,817.8 1670.5,817.8 1673.0,817.7 1675.5,817.7 1678.0,817.6 1680.5,817.6 1683.0,817.5 1685.5,817.5 1688.0,817.4 1690.5,817.4 1693.0,817.3 1695.5,817.3 1698.0,817.3 1700.5,817.2 1703.0,817.2 1705.5,817.1 1708.0,817.1 1710.5,817.0 1713.0,817.0 1715.5,817.0 1718.0,816.9 1720.5,816.9 1723.0,816.8 1725.5,816.8 1728.0,816.8 1730.5,816.7 1733.0,816.7 1735.5,816.7 1738.0,816.6 1740.5,816.6 1743.0,816.5 1745.5,816.5 1748.0,816.5 1750.5,816.4 1752.9,816.4 1755.4,816.4 1757.9,816.3 1760.4,816.3 1762.9,816.3 1765.4,816.2 1767.9,816.2 1770.4,816.2 1772.9,816.1 1775.4,816.1 1777.9,816.1 1780.4,816.1 1782.9,816.0 1785.4,816.0 1787.9,816.0 1790.4,815.9 1792.9,815.9 1795.4,815.9 1797.9,815.9 1800.4,815.8 1802.9,815.8 1805.4,815.8 1807.9,815.7 1810.4,815.7 1812.9,815.7 1815.4,815.7 1817.9,815.6 1820.4,815.6 1822.9,815.6 1825.4,815.6 1827.9,815.5 1830.4,815.5 1832.9,815.5 1835.4,815.5 1837.9,815.4 1840.4,815.4 1842.9,815.4 1845.4,815.4 1847.9,815.4 1850.4,815.3 1852.9,815.3 1855.4,815.3 1857.9,815.3 1860.4,815.2 1862.9,815.2 1865.4,815.2 1867.8,815.2 1870.3,815.2 1872.8,815.1 1875.3,815.1 1877.8,815.1 1880.3,815.1 1882.8,815.1 1885.3,815.0 1887.8,815.0 1890.3,815.0 1892.8,815.0 1895.3,815.0 1897.8,814.9 1900.3,814.9 1902.8,814.9 1905.3,814.9 1907.8,814.9 1910.3,814.9 1912.8,814.8 1915.3,814.8 1917.8,814.8 1920.3,814.8 1922.8,814.8 1925.3,814.8 1927.8,814.7 1930.3,814.7 1932.8,814.7 1935.3,814.7 1937.8,814.7 1940.3,814.7 1942.8,814.6 1945.3,814.6 1947.8,814.6 1950.3,814.6 1952.8,814.6 1955.3,814.6 1957.8,814.5 1960.3,814.5 1962.8,814.5 1965.3,814.5 1967.8,814.5 1970.3,814.5 1972.8,814.5 1975.3,814.4 1977.8,814.4 1980.3,814.4 1982.8,814.4 1985.3,814.4 1987.8,814.4 1990.3,814.4 1992.7,814.3 1995.2,814.3 1997.7,814.3 2000.2,814.3 2002.7,814.3 2005.2,814.3 2007.7,814.3 2010.2,814.2 2012.7,814.2 2015.2,814.2 2017.7,814.2 2020.2,814.2 2022.7,814.2 2025.2,814.2 2027.7,814.1 2030.2,814.1 2032.7,814.1 2035.2,814.1 2037.7,814.1 2040.2,814.1 2042.7,814.1 2045.2,814.0 2047.7,814.0 2050.2,814.0 2052.7,814.0 2055.2,814.0 2057.7,814.0 2060.2,813.9 2062.7,813.9 2065.2,813.9 2067.7,813.9 2070.2,813.9 2072.7,813.9 2075.2,813.9 2077.7,813.8 2080.2,813.8 2082.7,813.8 2085.2,813.8 2087.7,813.8 2090.2,813.8 2092.7,813.7 2095.2,813.7 2097.7,813.7 2100.2,813.7 2102.7,813.7 2105.2,813.7 2107.7,813.6 2110.2,813.6 2112.6,813.6 2115.1,813.6 2117.6,813.6 2120.1,813.6 2122.6,813.5 2125.1,813.5 2127.6,813.5 2130.1,813.5 2132.6,813.5 2135.1,813.4 2137.6,813.4 2140.1,813.4 2142.6,813.4 2145.1,813.4 2147.6,813.4 2150.1,813.3 2152.6,813.3 2155.1,813.3 2157.6,813.3 2160.1,813.3 2162.6,813.2 2165.1,813.2 2167.6,813.2 2170.1,813.2 2172.6,813.1 2175.1,813.1 2177.6,813.1 2180.1,813.1 2182.6,813.1 2185.1,813.0 2187.6,813.0 2190.1,813.0 2192.6,813.0 2195.1,812.9 2197.6,812.9 2200.1,812.9 2202.6,812.9 2205.1,812.8 2207.6,812.8 2210.1,812.8 2212.5,812.8 2215.0,812.7 2217.5,812.7 2220.0,812.7 2222.5,812.7 2225.0,812.6 2227.5,812.6 2230.0,812.6 2232.5,812.6 2235.0,812.5 2237.5,812.5 2240.0,812.5 2242.5,812.4 2245.0,812.4 2247.5,812.4 2250.0,812.3 2252.5,812.3 2255.0,812.3"/>
</g>
<text x="227" y="1384.5" font-size="76" text-anchor="middle">200</text>
<text x="517" y="1384.5" font-size="76" text-anchor="middle">300</text>
<text x="807" y="1384.5" font-size="76" text-anchor="middle">400</text>
<text x="1097" y="1384.5" font-size="76" text-anchor="middle">500</text>
<text x="1387" y="1384.5" font-size="76" text-anchor="middle">600</text>
<text x="1677" y="1384.5" font-size="76" text-anchor="middle">700</text>
<text x="1967" y="1384.5" font-size="76" text-anchor="middle">800</text>
<text x="2257" y="1384.5" font-size="76" text-anchor="middle">900</text>
<text x="206" y="1324.8" font-size="76" text-anchor="end">0</text>
<text x="206" y="1075.5" font-size="76" text-anchor="end" textLength="90" lengthAdjust="spacing">0.5</text>
<text x="206" y="825.3" font-size="76" text-anchor="end">1</text>
<text x="1227.5" y="1474.5" font-size="81" text-anchor="middle">Wavelength (nm)</text>
<text transform="translate(68,1049.3) rotate(-90)" font-size="81" text-anchor="middle">T</text>
<text x="266" y="864" font-size="69" font-weight="bold" style="fill:#c0391b">(b)</text>
<line x1="1742.4" y1="889.5" x2="1950.9" y2="889.5" stroke="#1d7a1d" stroke-width="6.3"/>
<text x="1968.3" y="914" font-size="68" textLength="218.5" lengthAdjust="spacing">20 mins</text>
<line x1="1742.4" y1="990.8" x2="1950.9" y2="990.8" stroke="#b8282a" stroke-width="6.3"/>
<text x="1968.3" y="1014.8" font-size="68" textLength="218.5" lengthAdjust="spacing">15 mins</text>
<line x1="1742.4" y1="1091" x2="1950.9" y2="1091" stroke="#16169a" stroke-width="6.3"/>
<text x="1968.3" y="1115.6" font-size="68" textLength="218.5" lengthAdjust="spacing">10 mins</text>
<line x1="1742.4" y1="1192" x2="1950.9" y2="1192" stroke="#000000" stroke-width="6.3"/>
<text x="1985.3" y="1216.4" font-size="68" textLength="185" lengthAdjust="spacing">5 mins</text>
</g>
<g id="panel-c">
<path d="M227,2024.5 V2003.5 M227,1525 V1546 M517,2024.5 V2003.5 M517,1525 V1546 M807,2024.5 V2003.5 M807,1525 V1546 M1097,2024.5 V2003.5 M1097,1525 V1546 M1387,2024.5 V2003.5 M1387,1525 V1546 M1677,2024.5 V2003.5 M1677,1525 V1546 M1967,2024.5 V2003.5 M1967,1525 V1546 M2257,2024.5 V2003.5 M2257,1525 V1546 M227,2024.5 H248 M2257,2024.5 H2236 M227,1774.75 H248 M2257,1774.75 H2236 M227,1525 H248 M2257,1525 H2236" stroke="#2a2a2a" stroke-width="2.6" fill="none"/>
<rect x="227" y="1525" width="2030" height="499.5" fill="none" stroke="#111" stroke-width="2.9"/>
<clipPath id="clip-c"><rect x="227" y="1525" width="2030" height="499.5"/></clipPath>
<g clip-path="url(#clip-c)" fill="none" stroke-width="5" stroke-linejoin="round" stroke-linecap="round">
<path stroke="#1d7a1d" d="M229.0,1820.0L229.6,1817.4 230.4,1814.8 231.3,1812.4 232.3,1810.1 233.4,1807.8 234.6,1805.7 235.9,1803.6 237.4,1801.7 238.9,1799.8 240.5,1798.0 242.2,1796.3 244.0,1794.7 245.9,1793.1 247.8,1791.7 249.9,1790.2 251.9,1788.9 254.0,1787.6 256.2,1786.4 258.4,1785.3 260.7,1784.2 263.0,1783.1 265.3,1782.1 267.7,1781.2 270.1,1780.3 272.5,1779.4 274.9,1778.6 277.3,1777.8 279.7,1777.1 282.1,1776.4 284.6,1775.7 287.0,1775.1 289.5,1774.5 291.9,1773.9 294.4,1773.4 296.8,1772.9 299.3,1772.4 301.7,1772.0 304.2,1771.6 306.7,1771.3 309.1,1770.9 311.6,1770.6 314.1,1770.4 316.6,1770.2 319.1,1770.0 321.5,1769.8 324.0,1769.7 326.5,1769.6 329.0,1769.5 331.5,1769.5 334.0,1769.5 336.5,1769.5 339.0,1769.5 341.4,1769.6 343.9,1769.7 346.4,1769.9 348.9,1770.0 351.4,1770.2 353.9,1770.4 356.3,1770.7 358.8,1771.0 361.3,1771.3 363.8,1771.6 366.2,1771.9 368.7,1772.3 371.2,1772.7 373.6,1773.1 376.1,1773.6 378.6,1774.0 381.0,1774.5 383.5,1775.0 385.9,1775.5 388.4,1776.0 390.8,1776.5 393.3,1777.1 395.7,1777.6 398.2,1778.2 400.6,1778.8 403.1,1779.4 405.5,1780.0 407.9,1780.6 410.4,1781.2 412.8,1781.8 415.2,1782.4 417.6,1783.0 420.1,1783.6 422.5,1784.3 424.9,1784.9 427.3,1785.5 429.7,1786.1 432.2,1786.7 434.6,1787.3 437.0,1788.0 439.3,1788.6 441.7,1789.3 444.1,1790.1 446.4,1790.9 448.8,1791.7 451.1,1792.6 453.4,1793.5 455.6,1794.6 457.9,1795.6 460.1,1796.7 462.3,1797.9 464.5,1799.1 466.7,1800.4 468.8,1801.7 470.9,1803.0 473.0,1804.4 475.1,1805.8 477.2,1807.3 479.2,1808.7 481.2,1810.2 483.2,1811.8 485.2,1813.3 487.2,1814.9 489.1,1816.5 491.0,1818.1 493.0,1819.7 494.9,1821.4 496.7,1823.0 498.6,1824.6 500.5,1826.3 502.3,1828.0 504.2,1829.6 506.1,1831.3 507.9,1832.9 509.8,1834.6 511.7,1836.2 513.6,1837.8 515.4,1839.5 517.4,1841.1 519.3,1842.6 521.2,1844.2 523.2,1845.8 525.1,1847.3 527.1,1848.8 529.2,1850.2 531.2,1851.7 533.3,1853.1 535.4,1854.4 537.5,1855.8 539.7,1857.0 541.9,1858.3 544.2,1859.5 546.5,1860.6 548.8,1861.7 551.1,1862.7 553.5,1863.7 555.9,1864.6 558.3,1865.3 560.7,1866.0 563.1,1866.6 565.5,1867.1 568.0,1867.5 570.4,1867.7 572.8,1867.8 575.3,1867.8 577.7,1867.7 580.1,1867.4 582.5,1867.0 584.9,1866.5 587.2,1865.8 589.6,1865.0 591.9,1864.2 594.2,1863.2 596.5,1862.2 598.8,1861.1 601.1,1860.0 603.3,1858.8 605.5,1857.5 607.7,1856.2 609.9,1854.9 612.0,1853.6 614.2,1852.2 616.3,1850.8 618.3,1849.4 620.4,1848.0 622.4,1846.6 624.4,1845.1 626.4,1843.6 628.4,1842.1 630.3,1840.5 632.2,1838.9 634.1,1837.3 636.0,1835.7 637.9,1834.0 639.7,1832.3 641.5,1830.6 643.3,1828.9 645.1,1827.1 646.8,1825.3 648.6,1823.5 650.3,1821.7 652.1,1819.8 653.8,1818.0 655.5,1816.1 657.2,1814.3 659.0,1812.4 660.7,1810.6 662.4,1808.7 664.1,1806.9 665.9,1805.1 667.6,1803.3 669.4,1801.4 671.1,1799.7 672.9,1797.9 674.7,1796.2 676.5,1794.4 678.3,1792.8 680.2,1791.1 682.1,1789.5 684.0,1787.9 685.9,1786.4 687.8,1784.9 689.8,1783.4 691.8,1782.0 693.9,1780.6 696.0,1779.3 698.1,1778.1 700.3,1776.9 702.5,1775.7 704.7,1774.7 707.0,1773.7 709.3,1772.7 711.7,1771.9 714.1,1771.1 716.6,1770.4 719.1,1769.7 721.6,1769.3 724.1,1769.3 726.7,1769.3 729.2,1769.3 731.8,1769.3 734.3,1769.3 736.7,1769.3 739.2,1769.3 741.6,1769.3 744.0,1769.3 746.3,1769.9 748.5,1770.6 750.7,1771.5 752.9,1772.5 754.9,1773.7 757.0,1774.9 759.0,1776.2 761.0,1777.6 763.0,1779.1 764.9,1780.7 766.8,1782.3 768.8,1783.9 770.7,1785.6 772.6,1787.3 774.6,1789.0 776.5,1790.7 778.5,1792.4 780.5,1794.1 782.5,1795.8 784.6,1797.4 786.7,1799.0 788.8,1800.5 790.9,1802.0 793.1,1803.3 795.3,1804.6 797.5,1805.7 799.7,1806.7 802.0,1807.6 804.2,1808.3 806.5,1808.8 808.8,1809.2 811.1,1809.3 813.4,1809.3 815.7,1809.1 818.1,1808.6 820.4,1808.0 822.7,1807.3 825.0,1806.4 827.3,1805.4 829.6,1804.2 831.9,1803.0 834.1,1801.7 836.2,1800.3 838.4,1798.8 840.5,1797.3 842.6,1795.8 844.6,1794.3 846.7,1792.7 848.7,1791.1 850.7,1789.6 852.7,1788.0 854.8,1786.5 856.8,1785.0 858.8,1783.5 860.9,1782.1 863.0,1780.8 865.1,1779.5 867.3,1778.3 869.5,1777.3 871.7,1776.3 874.0,1775.4 876.3,1774.6 878.7,1774.0 881.1,1773.5 883.5,1773.0 886.0,1772.7 888.4,1772.5 890.9,1772.4 893.4,1772.3 895.9,1772.4 898.4,1772.6 901.0,1772.8 903.5,1773.2 905.9,1773.6 908.4,1774.1 910.8,1774.7 913.3,1775.4 915.7,1776.2 918.1,1777.0 920.5,1777.8 922.8,1778.7 925.2,1779.5 927.5,1780.4 929.9,1781.3 932.2,1782.2 934.6,1783.1 936.9,1783.9 939.2,1784.8 941.6,1785.7 943.9,1786.6 946.2,1787.5 948.5,1788.5 950.7,1789.4 953.0,1790.4 955.3,1791.4 957.5,1792.4 959.7,1793.5 961.9,1794.6 964.1,1795.7 966.3,1796.9 968.4,1798.1 970.6,1799.3 972.7,1800.5 974.9,1801.8 977.0,1803.1 979.1,1804.5 981.2,1805.8 983.3,1807.2 985.3,1808.6 987.4,1810.0 989.5,1811.4 991.5,1812.9 993.6,1814.3 995.6,1815.8 997.7,1817.3 999.7,1818.7 1001.7,1820.2 1003.8,1821.7 1005.8,1823.2 1007.8,1824.6 1009.9,1826.1 1011.9,1827.6 1013.9,1829.1 1016.0,1830.5 1018.0,1832.0 1020.0,1833.4 1022.1,1834.9 1024.1,1836.3 1026.2,1837.8 1028.2,1839.2 1030.3,1840.6 1032.3,1842.0 1034.4,1843.4 1036.4,1844.9 1038.5,1846.3 1040.6,1847.6 1042.6,1849.0 1044.7,1850.4 1046.8,1851.8 1048.9,1853.2 1051.0,1854.5 1053.1,1855.9 1055.2,1857.2 1057.3,1858.6 1059.4,1859.9 1061.5,1861.2 1063.6,1862.5 1065.8,1863.8 1067.9,1865.2 1070.0,1866.4 1072.2,1867.7 1074.3,1869.0 1076.5,1870.3 1078.6,1871.5 1080.8,1872.8 1083.0,1874.0 1085.1,1875.3 1087.3,1876.5 1089.5,1877.7 1091.7,1878.9 1093.9,1880.1 1096.1,1881.3 1098.3,1882.5 1100.5,1883.6 1102.7,1884.8 1105.0,1885.9 1107.2,1887.1 1109.4,1888.2 1111.7,1889.3 1113.9,1890.4 1116.1,1891.5 1118.4,1892.6 1120.7,1893.7 1122.9,1894.7 1125.2,1895.8 1127.5,1896.8 1129.7,1897.8 1132.0,1898.8 1134.3,1899.8 1136.6,1900.8 1138.9,1901.8 1141.2,1902.7 1143.5,1903.7 1145.8,1904.6 1148.1,1905.6 1150.5,1906.5 1152.8,1907.4 1155.1,1908.2 1157.4,1909.1 1159.8,1910.0 1162.1,1910.8 1164.5,1911.6 1166.8,1912.4 1169.2,1913.2 1171.6,1914.0 1173.9,1914.8 1176.3,1915.6 1178.7,1916.3 1181.0,1917.1 1183.4,1917.8 1185.8,1918.5 1188.2,1919.2 1190.6,1919.9 1193.0,1920.6 1195.4,1921.3 1197.8,1922.0 1200.2,1922.6 1202.6,1923.3 1205.0,1923.9 1207.4,1924.6 1209.9,1925.2 1212.3,1925.8 1214.7,1926.4 1217.1,1927.0 1219.6,1927.6 1222.0,1928.2 1224.4,1928.7 1226.9,1929.3 1229.3,1929.9 1231.8,1930.4 1234.2,1931.0 1236.6,1931.5 1239.1,1932.0 1241.5,1932.6 1244.0,1933.1 1246.4,1933.6 1248.9,1934.1 1251.4,1934.6 1253.8,1935.1 1256.3,1935.6 1258.7,1936.1 1261.2,1936.6 1263.7,1937.1 1266.1,1937.6 1268.6,1938.1 1271.0,1938.5 1273.5,1939.0 1276.0,1939.5 1278.4,1939.9 1280.9,1940.4 1283.4,1940.8 1285.8,1941.3 1288.3,1941.8 1290.8,1942.2 1293.2,1942.7 1295.7,1943.1 1298.2,1943.6 1300.6,1944.0 1303.1,1944.5 1305.6,1944.9 1308.0,1945.4 1310.5,1945.8 1313.0,1946.3 1315.4,1946.7 1317.9,1947.2 1320.4,1947.6 1322.8,1948.1 1325.3,1948.5 1327.7,1948.9 1330.2,1949.4 1332.7,1949.8 1335.1,1950.3 1337.6,1950.7 1340.0,1951.2 1342.5,1951.6 1344.9,1952.1 1347.4,1952.5 1349.8,1953.0 1352.3,1953.4 1354.8,1953.9 1357.2,1954.3 1359.7,1954.7 1362.1,1955.2 1364.6,1955.6 1367.0,1956.0 1369.5,1956.5 1371.9,1956.9 1374.4,1957.3 1376.9,1957.7 1379.3,1958.2 1381.8,1958.6 1384.2,1959.0 1386.7,1959.4 1389.1,1959.8 1391.6,1960.2 1394.1,1960.6 1396.5,1961.0 1399.0,1961.4 1401.4,1961.8 1403.9,1962.1 1406.4,1962.5 1408.8,1962.9 1411.3,1963.3 1413.8,1963.6 1416.2,1964.0 1418.7,1964.3 1421.1,1964.7 1423.6,1965.0 1426.1,1965.4 1428.6,1965.7 1431.0,1966.0 1433.5,1966.4 1436.0,1966.7 1438.4,1967.0 1440.9,1967.3 1443.4,1967.6 1445.9,1967.9 1448.3,1968.2 1450.8,1968.5 1453.3,1968.8 1455.8,1969.1 1458.2,1969.4 1460.7,1969.7 1463.2,1969.9 1465.7,1970.2 1468.2,1970.5 1470.6,1970.7 1473.1,1971.0 1475.6,1971.3 1478.1,1971.5 1480.6,1971.8 1483.1,1972.0 1485.5,1972.3 1488.0,1972.5 1490.5,1972.7 1493.0,1973.0 1495.5,1973.2 1498.0,1973.4 1500.5,1973.6 1502.9,1973.9 1505.4,1974.1 1507.9,1974.3 1510.4,1974.5 1512.9,1974.7 1515.4,1974.9 1517.9,1975.1 1520.4,1975.3 1522.9,1975.5 1525.4,1975.7 1527.9,1975.9 1530.3,1976.1 1532.8,1976.3 1535.3,1976.4 1537.8,1976.6 1540.3,1976.8 1542.8,1977.0 1545.3,1977.1 1547.8,1977.3 1550.3,1977.5 1552.8,1977.6 1555.3,1977.8 1557.8,1978.0 1560.3,1978.1 1562.8,1978.3 1565.3,1978.4 1567.8,1978.6 1570.3,1978.7 1572.8,1978.9 1575.3,1979.0 1577.8,1979.2 1580.3,1979.3 1582.8,1979.5 1585.3,1979.6 1587.8,1979.7 1590.3,1979.9 1592.8,1980.0 1595.3,1980.1 1597.8,1980.3 1600.3,1980.4 1602.8,1980.5 1605.3,1980.7 1607.8,1980.8 1610.3,1980.9 1612.8,1981.0 1615.3,1981.2 1617.8,1981.3 1620.3,1981.4 1622.8,1981.5 1625.3,1981.6 1627.8,1981.7 1630.3,1981.9 1632.8,1982.0 1635.3,1982.1 1637.8,1982.2 1640.3,1982.3 1642.8,1982.4 1645.3,1982.5 1647.8,1982.6 1650.3,1982.8 1652.8,1982.9 1655.3,1983.0 1657.8,1983.1 1660.3,1983.2 1662.8,1983.3 1665.3,1983.4 1667.8,1983.5 1670.3,1983.6 1672.8,1983.7 1675.3,1983.8 1677.8,1983.9 1680.3,1984.0 1682.8,1984.2 1685.3,1984.3 1687.8,1984.4 1690.3,1984.5 1692.8,1984.6 1695.3,1984.7 1697.8,1984.8 1700.3,1984.9 1702.8,1985.0 1705.3,1985.1 1707.8,1985.2 1710.3,1985.3 1712.8,1985.4 1715.3,1985.5 1717.8,1985.6 1720.3,1985.7 1722.8,1985.8 1725.3,1985.9 1727.8,1986.0 1730.3,1986.1 1732.8,1986.2 1735.3,1986.3 1737.8,1986.4 1740.3,1986.5 1742.8,1986.6 1745.3,1986.7 1747.8,1986.8 1750.3,1986.9 1752.8,1987.0 1755.3,1987.1 1757.8,1987.2 1760.3,1987.3 1762.8,1987.4 1765.3,1987.4 1767.8,1987.5 1770.3,1987.6 1772.8,1987.7 1775.3,1987.8 1777.8,1987.9 1780.3,1988.0 1782.8,1988.1 1785.3,1988.2 1787.8,1988.3 1790.3,1988.4 1792.8,1988.5 1795.3,1988.5 1797.8,1988.6 1800.3,1988.7 1802.8,1988.8 1805.3,1988.9 1807.8,1989.0 1810.3,1989.1 1812.8,1989.2 1815.3,1989.2 1817.8,1989.3 1820.3,1989.4 1822.8,1989.5 1825.3,1989.6 1827.8,1989.7 1830.3,1989.8 1832.8,1989.8 1835.3,1989.9 1837.7,1990.0 1840.2,1990.1 1842.7,1990.2 1845.2,1990.3 1847.7,1990.3 1850.2,1990.4 1852.7,1990.5 1855.2,1990.6 1857.7,1990.7 1860.2,1990.7 1862.7,1990.8 1865.2,1990.9 1867.7,1991.0 1870.2,1991.0 1872.7,1991.1 1875.2,1991.2 1877.7,1991.3 1880.2,1991.4 1882.7,1991.4 1885.2,1991.5 1887.7,1991.6 1890.2,1991.7 1892.7,1991.7 1895.2,1991.8 1897.7,1991.9 1900.2,1991.9 1902.7,1992.0 1905.2,1992.1 1907.7,1992.2 1910.1,1992.2 1912.6,1992.3 1915.1,1992.4 1917.6,1992.4 1920.1,1992.5 1922.6,1992.6 1925.1,1992.6 1927.6,1992.7 1930.1,1992.8 1932.6,1992.8 1935.1,1992.9 1937.6,1993.0 1940.1,1993.0 1942.6,1993.1 1945.1,1993.2 1947.6,1993.2 1950.1,1993.3 1952.6,1993.4 1955.1,1993.4 1957.6,1993.5 1960.1,1993.5 1962.6,1993.6 1965.1,1993.7 1967.6,1993.7 1970.1,1993.8 1972.6,1993.8 1975.1,1993.9 1977.6,1994.0 1980.0,1994.0 1982.5,1994.1 1985.0,1994.1 1987.5,1994.2 1990.0,1994.2 1992.5,1994.3 1995.0,1994.3 1997.5,1994.4 2000.0,1994.5 2002.5,1994.5 2005.0,1994.6 2007.5,1994.6 2010.0,1994.7 2012.5,1994.7 2015.0,1994.8 2017.5,1994.8 2020.0,1994.9 2022.5,1994.9 2025.0,1995.0 2027.5,1995.0 2030.0,1995.1 2032.5,1995.1 2035.0,1995.1 2037.5,1995.2 2040.0,1995.2 2042.5,1995.3 2045.0,1995.3 2047.5,1995.4 2050.0,1995.4 2052.5,1995.5 2055.0,1995.5 2057.5,1995.5 2060.0,1995.6 2062.5,1995.6 2065.0,1995.7 2067.4,1995.7 2069.9,1995.7 2072.4,1995.8 2074.9,1995.8 2077.4,1995.8 2079.9,1995.9 2082.4,1995.9 2084.9,1996.0 2087.4,1996.0 2089.9,1996.0 2092.4,1996.1 2094.9,1996.1 2097.4,1996.1 2099.9,1996.2 2102.4,1996.2 2104.9,1996.2 2107.4,1996.3 2109.9,1996.3 2112.4,1996.3 2114.9,1996.3 2117.4,1996.4 2119.9,1996.4 2122.4,1996.4 2124.9,1996.4 2127.4,1996.5 2129.9,1996.5 2132.4,1996.5 2134.9,1996.5 2137.4,1996.6 2139.9,1996.6 2142.4,1996.6 2144.9,1996.6 2147.4,1996.7 2149.9,1996.7 2152.4,1996.7 2154.9,1996.7 2157.4,1996.7 2159.9,1996.8 2162.4,1996.8 2164.9,1996.8 2167.4,1996.8 2169.9,1996.8 2172.4,1996.8 2174.9,1996.8 2177.4,1996.9 2179.9,1996.9 2182.4,1996.9 2184.9,1996.9 2187.4,1996.9 2189.9,1996.9 2192.4,1996.9 2194.9,1996.9 2197.4,1997.0 2199.9,1997.0 2202.4,1997.0 2204.9,1997.0 2207.4,1997.0 2209.9,1997.0 2212.4,1997.0 2214.9,1997.0 2217.4,1997.0 2220.0,1997.0 2222.5,1997.0 2225.0,1997.0 2227.5,1997.0 2230.0,1997.0 2232.5,1997.0 2235.0,1997.0 2237.5,1997.0 2240.0,1997.0 2242.5,1997.0 2245.0,1997.0 2247.5,1997.0 2250.0,1997.0 2252.5,1997.0 2255.0,1997.0"/>
<path stroke="#b8282a" d="M229.0,1783.0L230.3,1780.6 231.8,1778.6 233.5,1776.9 235.5,1775.5 237.5,1774.4 239.7,1773.4 242.0,1772.6 244.3,1771.8 246.6,1771.2 249.0,1770.6 251.4,1770.2 253.8,1769.8 256.2,1769.5 258.7,1769.3 261.2,1769.3 263.7,1769.3 266.2,1769.3 268.7,1769.3 271.3,1769.3 273.8,1769.3 276.3,1769.3 278.9,1769.3 281.4,1769.3 284.0,1769.3 286.5,1769.3 289.1,1769.4 291.6,1769.5 294.1,1769.7 296.7,1769.8 299.2,1770.0 301.7,1770.1 304.2,1770.3 306.7,1770.5 309.3,1770.7 311.8,1770.9 314.3,1771.1 316.8,1771.3 319.2,1771.5 321.7,1771.7 324.2,1772.0 326.7,1772.2 329.2,1772.5 331.7,1772.8 334.1,1773.0 336.6,1773.3 339.1,1773.6 341.6,1773.9 344.0,1774.2 346.5,1774.6 348.9,1774.9 351.4,1775.2 353.9,1775.6 356.3,1775.9 358.8,1776.3 361.2,1776.7 363.7,1777.1 366.1,1777.5 368.6,1777.9 371.0,1778.4 373.4,1778.8 375.9,1779.2 378.3,1779.7 380.8,1780.2 383.2,1780.7 385.6,1781.2 388.1,1781.7 390.5,1782.2 392.9,1782.7 395.3,1783.2 397.8,1783.8 400.2,1784.4 402.6,1784.9 405.0,1785.5 407.4,1786.1 409.9,1786.7 412.3,1787.4 414.7,1788.0 417.1,1788.6 419.5,1789.3 421.9,1790.0 424.3,1790.7 426.7,1791.4 429.1,1792.1 431.5,1792.9 433.9,1793.6 436.2,1794.4 438.6,1795.3 440.9,1796.1 443.2,1797.0 445.5,1797.9 447.8,1798.8 450.1,1799.8 452.4,1800.8 454.6,1801.8 456.8,1802.9 459.0,1804.0 461.2,1805.1 463.4,1806.3 465.5,1807.5 467.6,1808.8 469.7,1810.1 471.8,1811.5 473.8,1812.9 475.8,1814.3 477.8,1815.7 479.8,1817.2 481.8,1818.8 483.7,1820.3 485.7,1821.9 487.6,1823.4 489.5,1825.0 491.4,1826.7 493.3,1828.3 495.2,1829.9 497.1,1831.6 499.0,1833.2 500.9,1834.9 502.8,1836.5 504.7,1838.2 506.6,1839.8 508.5,1841.5 510.5,1843.1 512.4,1844.7 514.3,1846.3 516.3,1847.9 518.2,1849.5 520.2,1851.0 522.2,1852.5 524.2,1854.0 526.3,1855.5 528.3,1856.9 530.4,1858.3 532.5,1859.7 534.6,1861.0 536.8,1862.3 539.0,1863.5 541.2,1864.7 543.4,1865.8 545.7,1866.9 548.0,1867.9 550.3,1868.9 552.7,1869.8 555.0,1870.6 557.4,1871.4 559.8,1872.1 562.2,1872.8 564.7,1873.4 567.1,1873.9 569.5,1874.3 572.0,1874.7 574.4,1875.0 576.9,1875.2 579.3,1875.3 581.7,1875.3 584.2,1875.3 586.6,1875.2 589.0,1874.9 591.4,1874.6 593.7,1874.2 596.1,1873.7 598.4,1873.1 600.7,1872.3 603.0,1871.5 605.3,1870.6 607.5,1869.6 609.7,1868.4 611.8,1867.2 613.9,1865.8 616.0,1864.4 618.1,1862.8 620.1,1861.2 622.1,1859.6 624.1,1857.9 626.0,1856.1 627.9,1854.3 629.8,1852.5 631.7,1850.7 633.5,1848.8 635.4,1847.0 637.2,1845.2 639.0,1843.4 640.8,1841.6 642.5,1839.9 644.3,1838.1 646.1,1836.4 647.8,1834.7 649.5,1833.0 651.3,1831.3 653.0,1829.6 654.7,1828.0 656.5,1826.3 658.2,1824.7 660.0,1823.0 661.7,1821.4 663.5,1819.7 665.2,1818.1 667.0,1816.4 668.8,1814.8 670.6,1813.1 672.5,1811.5 674.3,1809.8 676.2,1808.2 678.1,1806.5 680.0,1804.8 681.9,1803.1 683.9,1801.5 685.8,1799.8 687.8,1798.2 689.8,1796.5 691.8,1794.9 693.9,1793.3 696.0,1791.8 698.0,1790.3 700.1,1788.8 702.2,1787.3 704.4,1785.9 706.5,1784.5 708.7,1783.2 710.9,1781.9 713.1,1780.7 715.3,1779.5 717.5,1778.4 719.8,1777.3 722.0,1776.3 724.3,1775.4 726.6,1774.6 728.9,1773.8 731.2,1773.1 733.6,1772.5 735.9,1772.0 738.3,1771.5 740.6,1771.2 743.0,1770.9 745.4,1770.8 747.8,1770.7 750.3,1770.8 752.7,1770.9 755.2,1771.1 757.6,1771.4 760.1,1771.8 762.5,1772.2 765.0,1772.7 767.5,1773.2 770.0,1773.8 772.5,1774.4 775.0,1775.0 777.5,1775.6 780.0,1776.2 782.5,1776.8 785.0,1777.4 787.5,1778.0 790.0,1778.6 792.5,1779.1 795.0,1779.6 797.5,1780.0 800.0,1780.4 802.5,1780.7 804.9,1780.9 807.4,1781.1 809.9,1781.2 812.3,1781.2 814.8,1781.2 817.2,1781.1 819.7,1781.0 822.1,1780.8 824.6,1780.5 827.0,1780.2 829.5,1779.8 831.9,1779.4 834.4,1778.9 836.8,1778.3 839.3,1777.7 841.7,1777.0 844.2,1776.3 846.6,1775.6 849.1,1774.8 851.5,1774.1 854.0,1773.4 856.4,1772.7 858.9,1772.0 861.3,1771.4 863.8,1770.8 866.2,1770.3 868.7,1769.9 871.2,1769.5 873.7,1769.3 876.1,1769.3 878.6,1769.3 881.1,1769.3 883.6,1769.3 886.0,1769.3 888.5,1769.6 891.0,1770.0 893.4,1770.4 895.9,1770.9 898.3,1771.4 900.7,1772.1 903.1,1772.7 905.5,1773.5 907.8,1774.3 910.2,1775.1 912.5,1776.0 914.8,1776.9 917.0,1777.9 919.3,1778.9 921.5,1780.0 923.7,1781.1 925.9,1782.2 928.1,1783.4 930.3,1784.6 932.4,1785.8 934.6,1787.1 936.7,1788.4 938.8,1789.7 940.9,1791.1 943.0,1792.4 945.1,1793.8 947.2,1795.2 949.2,1796.6 951.3,1798.1 953.3,1799.5 955.4,1801.0 957.4,1802.5 959.5,1803.9 961.5,1805.4 963.6,1806.9 965.6,1808.4 967.7,1809.9 969.7,1811.4 971.7,1812.8 973.8,1814.3 975.8,1815.8 977.9,1817.2 979.9,1818.7 982.0,1820.1 984.1,1821.5 986.2,1822.9 988.3,1824.3 990.4,1825.6 992.5,1827.0 994.6,1828.3 996.7,1829.6 998.9,1830.9 1001.0,1832.2 1003.1,1833.4 1005.3,1834.7 1007.4,1835.9 1009.6,1837.1 1011.7,1838.4 1013.9,1839.6 1016.1,1840.8 1018.2,1842.1 1020.4,1843.3 1022.5,1844.6 1024.6,1845.9 1026.8,1847.1 1028.9,1848.4 1031.0,1849.7 1033.1,1851.1 1035.2,1852.4 1037.3,1853.8 1039.3,1855.2 1041.4,1856.6 1043.5,1858.0 1045.5,1859.4 1047.6,1860.8 1049.7,1862.2 1051.7,1863.6 1053.8,1865.0 1055.8,1866.4 1057.9,1867.9 1060.0,1869.3 1062.0,1870.7 1064.1,1872.1 1066.2,1873.4 1068.3,1874.8 1070.4,1876.2 1072.5,1877.5 1074.6,1878.8 1076.8,1880.1 1078.9,1881.4 1081.1,1882.6 1083.3,1883.9 1085.4,1885.1 1087.6,1886.3 1089.8,1887.5 1092.0,1888.7 1094.2,1889.9 1096.5,1891.0 1098.7,1892.1 1101.0,1893.2 1103.2,1894.3 1105.5,1895.4 1107.7,1896.5 1110.0,1897.5 1112.3,1898.5 1114.6,1899.5 1116.9,1900.5 1119.2,1901.5 1121.5,1902.5 1123.8,1903.4 1126.1,1904.4 1128.5,1905.3 1130.8,1906.2 1133.1,1907.1 1135.5,1908.0 1137.8,1908.8 1140.2,1909.7 1142.6,1910.5 1144.9,1911.3 1147.3,1912.1 1149.7,1912.9 1152.0,1913.7 1154.4,1914.5 1156.8,1915.2 1159.2,1915.9 1161.6,1916.7 1163.9,1917.4 1166.3,1918.1 1168.7,1918.8 1171.1,1919.5 1173.5,1920.1 1175.9,1920.8 1178.3,1921.4 1180.8,1922.1 1183.2,1922.7 1185.6,1923.3 1188.0,1924.0 1190.4,1924.6 1192.8,1925.2 1195.2,1925.8 1197.7,1926.3 1200.1,1926.9 1202.5,1927.5 1204.9,1928.1 1207.4,1928.6 1209.8,1929.2 1212.2,1929.7 1214.7,1930.3 1217.1,1930.8 1219.5,1931.4 1222.0,1931.9 1224.4,1932.4 1226.8,1933.0 1229.3,1933.5 1231.7,1934.0 1234.2,1934.6 1236.6,1935.1 1239.0,1935.6 1241.5,1936.1 1243.9,1936.7 1246.4,1937.2 1248.8,1937.7 1251.3,1938.2 1253.7,1938.7 1256.2,1939.2 1258.6,1939.8 1261.1,1940.3 1263.5,1940.8 1266.0,1941.3 1268.4,1941.8 1270.9,1942.3 1273.3,1942.8 1275.8,1943.2 1278.2,1943.7 1280.7,1944.2 1283.1,1944.7 1285.6,1945.2 1288.0,1945.7 1290.5,1946.1 1292.9,1946.6 1295.4,1947.1 1297.9,1947.5 1300.3,1948.0 1302.8,1948.5 1305.2,1948.9 1307.7,1949.4 1310.2,1949.8 1312.6,1950.3 1315.1,1950.7 1317.5,1951.1 1320.0,1951.6 1322.5,1952.0 1324.9,1952.4 1327.4,1952.8 1329.9,1953.3 1332.3,1953.7 1334.8,1954.1 1337.3,1954.5 1339.7,1954.9 1342.2,1955.3 1344.7,1955.7 1347.1,1956.1 1349.6,1956.5 1352.1,1956.9 1354.5,1957.2 1357.0,1957.6 1359.5,1958.0 1361.9,1958.4 1364.4,1958.7 1366.9,1959.1 1369.4,1959.4 1371.8,1959.8 1374.3,1960.1 1376.8,1960.5 1379.2,1960.8 1381.7,1961.2 1384.2,1961.5 1386.7,1961.8 1389.1,1962.2 1391.6,1962.5 1394.1,1962.8 1396.6,1963.2 1399.0,1963.5 1401.5,1963.8 1404.0,1964.1 1406.5,1964.4 1409.0,1964.7 1411.4,1965.0 1413.9,1965.3 1416.4,1965.6 1418.9,1965.9 1421.4,1966.2 1423.8,1966.5 1426.3,1966.8 1428.8,1967.0 1431.3,1967.3 1433.8,1967.6 1436.2,1967.9 1438.7,1968.1 1441.2,1968.4 1443.7,1968.7 1446.2,1968.9 1448.7,1969.2 1451.1,1969.4 1453.6,1969.7 1456.1,1969.9 1458.6,1970.2 1461.1,1970.4 1463.6,1970.7 1466.0,1970.9 1468.5,1971.2 1471.0,1971.4 1473.5,1971.6 1476.0,1971.9 1478.5,1972.1 1481.0,1972.3 1483.5,1972.5 1485.9,1972.7 1488.4,1973.0 1490.9,1973.2 1493.4,1973.4 1495.9,1973.6 1498.4,1973.8 1500.9,1974.0 1503.4,1974.2 1505.8,1974.4 1508.3,1974.6 1510.8,1974.8 1513.3,1975.0 1515.8,1975.2 1518.3,1975.4 1520.8,1975.6 1523.3,1975.8 1525.8,1976.0 1528.3,1976.2 1530.8,1976.3 1533.3,1976.5 1535.7,1976.7 1538.2,1976.9 1540.7,1977.0 1543.2,1977.2 1545.7,1977.4 1548.2,1977.6 1550.7,1977.7 1553.2,1977.9 1555.7,1978.1 1558.2,1978.2 1560.7,1978.4 1563.2,1978.5 1565.7,1978.7 1568.2,1978.9 1570.6,1979.0 1573.1,1979.2 1575.6,1979.3 1578.1,1979.5 1580.6,1979.6 1583.1,1979.8 1585.6,1979.9 1588.1,1980.1 1590.6,1980.2 1593.1,1980.3 1595.6,1980.5 1598.1,1980.6 1600.6,1980.8 1603.1,1980.9 1605.6,1981.0 1608.1,1981.2 1610.6,1981.3 1613.1,1981.4 1615.6,1981.6 1618.1,1981.7 1620.6,1981.8 1623.1,1982.0 1625.6,1982.1 1628.0,1982.2 1630.5,1982.3 1633.0,1982.5 1635.5,1982.6 1638.0,1982.7 1640.5,1982.8 1643.0,1983.0 1645.5,1983.1 1648.0,1983.2 1650.5,1983.3 1653.0,1983.4 1655.5,1983.6 1658.0,1983.7 1660.5,1983.8 1663.0,1983.9 1665.5,1984.0 1668.0,1984.1 1670.5,1984.3 1673.0,1984.4 1675.5,1984.5 1678.0,1984.6 1680.5,1984.7 1683.0,1984.8 1685.5,1984.9 1688.0,1985.1 1690.5,1985.2 1693.0,1985.3 1695.5,1985.4 1698.0,1985.5 1700.5,1985.6 1703.0,1985.7 1705.4,1985.8 1707.9,1985.9 1710.4,1986.0 1712.9,1986.1 1715.4,1986.2 1717.9,1986.3 1720.4,1986.4 1722.9,1986.6 1725.4,1986.7 1727.9,1986.8 1730.4,1986.9 1732.9,1987.0 1735.4,1987.1 1737.9,1987.2 1740.4,1987.3 1742.9,1987.4 1745.4,1987.5 1747.9,1987.6 1750.4,1987.7 1752.9,1987.8 1755.4,1987.9 1757.9,1987.9 1760.4,1988.0 1762.9,1988.1 1765.4,1988.2 1767.9,1988.3 1770.4,1988.4 1772.9,1988.5 1775.4,1988.6 1777.9,1988.7 1780.4,1988.8 1782.9,1988.9 1785.4,1989.0 1787.8,1989.1 1790.3,1989.1 1792.8,1989.2 1795.3,1989.3 1797.8,1989.4 1800.3,1989.5 1802.8,1989.6 1805.3,1989.7 1807.8,1989.8 1810.3,1989.8 1812.8,1989.9 1815.3,1990.0 1817.8,1990.1 1820.3,1990.2 1822.8,1990.3 1825.3,1990.3 1827.8,1990.4 1830.3,1990.5 1832.8,1990.6 1835.3,1990.7 1837.8,1990.7 1840.3,1990.8 1842.8,1990.9 1845.3,1991.0 1847.8,1991.1 1850.3,1991.1 1852.8,1991.2 1855.3,1991.3 1857.8,1991.4 1860.3,1991.4 1862.8,1991.5 1865.3,1991.6 1867.8,1991.7 1870.3,1991.7 1872.8,1991.8 1875.3,1991.9 1877.7,1991.9 1880.2,1992.0 1882.7,1992.1 1885.2,1992.2 1887.7,1992.2 1890.2,1992.3 1892.7,1992.4 1895.2,1992.4 1897.7,1992.5 1900.2,1992.6 1902.7,1992.6 1905.2,1992.7 1907.7,1992.8 1910.2,1992.8 1912.7,1992.9 1915.2,1993.0 1917.7,1993.0 1920.2,1993.1 1922.7,1993.1 1925.2,1993.2 1927.7,1993.3 1930.2,1993.3 1932.7,1993.4 1935.2,1993.5 1937.7,1993.5 1940.2,1993.6 1942.7,1993.6 1945.2,1993.7 1947.7,1993.7 1950.2,1993.8 1952.7,1993.9 1955.2,1993.9 1957.7,1994.0 1960.2,1994.0 1962.7,1994.1 1965.2,1994.1 1967.7,1994.2 1970.2,1994.2 1972.7,1994.3 1975.2,1994.4 1977.6,1994.4 1980.1,1994.5 1982.6,1994.5 1985.1,1994.6 1987.6,1994.6 1990.1,1994.7 1992.6,1994.7 1995.1,1994.8 1997.6,1994.8 2000.1,1994.9 2002.6,1994.9 2005.1,1994.9 2007.6,1995.0 2010.1,1995.0 2012.6,1995.1 2015.1,1995.1 2017.6,1995.2 2020.1,1995.2 2022.6,1995.3 2025.1,1995.3 2027.6,1995.4 2030.1,1995.4 2032.6,1995.4 2035.1,1995.5 2037.6,1995.5 2040.1,1995.6 2042.6,1995.6 2045.1,1995.6 2047.6,1995.7 2050.1,1995.7 2052.6,1995.8 2055.1,1995.8 2057.6,1995.8 2060.1,1995.9 2062.6,1995.9 2065.1,1995.9 2067.6,1996.0 2070.1,1996.0 2072.6,1996.1 2075.1,1996.1 2077.6,1996.1 2080.1,1996.2 2082.6,1996.2 2085.1,1996.2 2087.6,1996.3 2090.1,1996.3 2092.6,1996.3 2095.1,1996.3 2097.6,1996.4 2100.1,1996.4 2102.6,1996.4 2105.1,1996.5 2107.6,1996.5 2110.1,1996.5 2112.5,1996.6 2115.0,1996.6 2117.5,1996.6 2120.0,1996.6 2122.5,1996.7 2125.0,1996.7 2127.5,1996.7 2130.0,1996.7 2132.5,1996.8 2135.0,1996.8 2137.5,1996.8 2140.0,1996.8 2142.5,1996.9 2145.0,1996.9 2147.5,1996.9 2150.0,1996.9 2152.5,1996.9 2155.0,1997.0 2157.5,1997.0 2160.0,1997.0 2162.5,1997.0 2165.0,1997.1 2167.5,1997.1 2170.0,1997.1 2172.5,1997.1 2175.0,1997.1 2177.5,1997.1 2180.0,1997.2 2182.5,1997.2 2185.0,1997.2 2187.5,1997.2 2190.0,1997.2 2192.5,1997.2 2195.0,1997.3 2197.5,1997.3 2200.0,1997.3 2202.5,1997.3 2205.0,1997.3 2207.5,1997.3 2210.0,1997.3 2212.5,1997.3 2215.0,1997.4 2217.5,1997.4 2220.0,1997.4 2222.5,1997.4 2225.0,1997.4 2227.5,1997.4 2230.0,1997.4 2232.5,1997.4 2235.0,1997.4 2237.5,1997.4 2240.0,1997.5 2242.5,1997.5 2245.0,1997.5 2247.5,1997.5 2250.0,1997.5 2252.5,1997.5 2255.0,1997.5"/>
<path stroke="#16169a" d="M228.0,1792.0L228.2,1789.1 228.8,1786.4 229.6,1783.9 230.6,1781.7 231.8,1779.7 233.3,1777.8 234.9,1776.2 236.7,1774.8 238.6,1773.5 240.7,1772.5 242.8,1771.6 245.1,1770.8 247.4,1770.2 249.8,1769.8 252.3,1769.4 254.8,1769.3 257.3,1769.3 259.9,1769.3 262.5,1769.3 265.1,1769.3 267.7,1769.4 270.3,1769.7 272.9,1769.9 275.5,1770.2 278.1,1770.5 280.6,1770.8 283.1,1771.2 285.6,1771.5 288.1,1771.9 290.6,1772.2 293.0,1772.6 295.4,1773.0 297.9,1773.4 300.3,1773.8 302.7,1774.3 305.2,1774.7 307.6,1775.1 310.0,1775.6 312.5,1776.1 314.9,1776.5 317.3,1777.0 319.7,1777.5 322.2,1778.0 324.6,1778.5 327.0,1779.0 329.5,1779.5 331.9,1780.1 334.3,1780.6 336.7,1781.1 339.2,1781.7 341.6,1782.2 344.0,1782.7 346.5,1783.3 348.9,1783.8 351.3,1784.4 353.8,1784.9 356.2,1785.5 358.6,1786.0 361.1,1786.6 363.5,1787.2 366.0,1787.7 368.4,1788.3 370.9,1788.8 373.3,1789.4 375.7,1790.0 378.2,1790.6 380.6,1791.1 383.0,1791.7 385.5,1792.3 387.9,1792.9 390.3,1793.5 392.8,1794.2 395.2,1794.8 397.6,1795.4 400.0,1796.1 402.4,1796.7 404.8,1797.4 407.2,1798.1 409.6,1798.8 412.0,1799.5 414.4,1800.3 416.8,1801.0 419.1,1801.8 421.5,1802.6 423.8,1803.4 426.2,1804.2 428.5,1805.0 430.8,1805.9 433.2,1806.7 435.5,1807.6 437.8,1808.5 440.0,1809.5 442.3,1810.4 444.6,1811.4 446.9,1812.4 449.1,1813.5 451.3,1814.5 453.6,1815.6 455.8,1816.7 458.0,1817.9 460.1,1819.0 462.3,1820.2 464.5,1821.4 466.6,1822.7 468.7,1824.0 470.9,1825.3 473.0,1826.6 475.1,1828.0 477.1,1829.4 479.2,1830.8 481.3,1832.2 483.3,1833.6 485.4,1835.1 487.4,1836.6 489.4,1838.1 491.5,1839.6 493.5,1841.1 495.5,1842.6 497.5,1844.1 499.5,1845.6 501.6,1847.2 503.6,1848.7 505.6,1850.2 507.6,1851.7 509.6,1853.3 511.6,1854.8 513.7,1856.3 515.7,1857.8 517.7,1859.2 519.8,1860.7 521.8,1862.1 523.9,1863.6 526.0,1865.0 528.1,1866.4 530.2,1867.7 532.3,1869.1 534.4,1870.4 536.5,1871.7 538.7,1872.9 540.8,1874.1 543.0,1875.3 545.2,1876.5 547.4,1877.6 549.7,1878.7 551.9,1879.8 554.2,1880.8 556.4,1881.8 558.7,1882.7 561.1,1883.7 563.4,1884.6 565.8,1885.4 568.1,1886.2 570.5,1887.0 572.9,1887.8 575.4,1888.5 577.8,1889.2 580.3,1889.9 582.8,1890.5 585.3,1891.0 587.8,1891.5 590.2,1891.9 592.7,1892.2 595.2,1892.4 597.6,1892.5 600.0,1892.4 602.4,1892.2 604.8,1891.9 607.1,1891.4 609.4,1890.7 611.6,1890.0 613.8,1889.1 616.0,1888.0 618.2,1886.9 620.3,1885.7 622.4,1884.5 624.5,1883.1 626.6,1881.7 628.7,1880.3 630.8,1878.8 632.9,1877.4 635.0,1875.9 637.1,1874.4 639.2,1872.9 641.2,1871.5 643.3,1870.0 645.4,1868.6 647.5,1867.2 649.6,1865.8 651.7,1864.4 653.8,1863.0 655.9,1861.5 658.0,1860.1 660.1,1858.7 662.2,1857.3 664.3,1855.9 666.3,1854.5 668.4,1853.1 670.4,1851.6 672.5,1850.2 674.5,1848.7 676.5,1847.3 678.5,1845.8 680.5,1844.3 682.5,1842.8 684.5,1841.3 686.4,1839.8 688.4,1838.3 690.3,1836.7 692.3,1835.2 694.2,1833.7 696.1,1832.1 698.1,1830.6 700.0,1829.0 701.9,1827.5 703.9,1825.9 705.8,1824.4 707.7,1822.8 709.7,1821.3 711.6,1819.8 713.5,1818.2 715.5,1816.7 717.4,1815.2 719.4,1813.7 721.4,1812.2 723.3,1810.7 725.3,1809.2 727.3,1807.7 729.3,1806.3 731.3,1804.8 733.4,1803.4 735.4,1801.9 737.5,1800.5 739.5,1799.2 741.6,1797.8 743.7,1796.4 745.9,1795.1 748.0,1793.8 750.2,1792.5 752.3,1791.2 754.5,1790.0 756.8,1788.7 759.0,1787.5 761.2,1786.3 763.5,1785.2 765.8,1784.1 768.1,1783.0 770.4,1781.9 772.7,1780.9 775.0,1779.9 777.4,1778.9 779.7,1778.0 782.1,1777.1 784.5,1776.3 786.9,1775.4 789.3,1774.7 791.7,1773.9 794.1,1773.2 796.5,1772.6 798.9,1772.0 801.3,1771.4 803.8,1770.9 806.2,1770.4 808.6,1770.0 811.1,1769.6 813.5,1769.3 816.0,1769.3 818.4,1769.3 820.9,1769.3 823.3,1769.3 825.8,1769.3 828.3,1769.3 830.7,1769.3 833.2,1769.3 835.6,1769.3 838.0,1769.3 840.5,1769.3 842.9,1769.4 845.4,1769.8 847.8,1770.2 850.2,1770.6 852.6,1771.1 855.1,1771.6 857.5,1772.2 859.9,1772.8 862.3,1773.5 864.7,1774.2 867.0,1775.0 869.4,1775.8 871.8,1776.6 874.1,1777.5 876.5,1778.4 878.8,1779.3 881.1,1780.3 883.5,1781.3 885.8,1782.3 888.1,1783.4 890.4,1784.5 892.6,1785.6 894.9,1786.7 897.1,1787.9 899.4,1789.1 901.6,1790.3 903.8,1791.6 906.0,1792.9 908.2,1794.2 910.3,1795.5 912.5,1796.8 914.6,1798.2 916.7,1799.6 918.8,1800.9 920.9,1802.3 923.0,1803.8 925.0,1805.2 927.1,1806.7 929.1,1808.1 931.1,1809.6 933.1,1811.1 935.1,1812.5 937.1,1814.0 939.1,1815.5 941.0,1817.0 943.0,1818.5 945.0,1820.0 946.9,1821.5 948.9,1823.0 950.9,1824.5 952.8,1826.0 954.8,1827.5 956.8,1829.0 958.7,1830.5 960.7,1831.9 962.7,1833.4 964.7,1834.8 966.7,1836.3 968.8,1837.7 970.8,1839.1 972.9,1840.5 974.9,1841.8 977.0,1843.2 979.1,1844.5 981.2,1845.8 983.3,1847.1 985.5,1848.4 987.7,1849.6 989.9,1850.9 992.1,1852.1 994.3,1853.2 996.6,1854.4 998.9,1855.5 1001.1,1856.7 1003.4,1857.9 1005.6,1859.0 1007.9,1860.2 1010.1,1861.5 1012.2,1862.7 1014.4,1864.0 1016.5,1865.3 1018.6,1866.6 1020.7,1868.0 1022.8,1869.4 1024.9,1870.7 1027.0,1872.1 1029.0,1873.5 1031.1,1874.9 1033.2,1876.2 1035.3,1877.6 1037.4,1879.0 1039.5,1880.3 1041.6,1881.6 1043.7,1883.0 1045.8,1884.3 1047.9,1885.6 1050.0,1886.9 1052.2,1888.1 1054.3,1889.4 1056.5,1890.7 1058.6,1891.9 1060.8,1893.1 1063.0,1894.3 1065.2,1895.5 1067.4,1896.7 1069.6,1897.9 1071.8,1899.1 1074.0,1900.2 1076.2,1901.3 1078.4,1902.4 1080.7,1903.5 1082.9,1904.6 1085.2,1905.7 1087.5,1906.7 1089.7,1907.7 1092.0,1908.8 1094.3,1909.8 1096.6,1910.8 1098.9,1911.7 1101.2,1912.7 1103.5,1913.6 1105.8,1914.6 1108.1,1915.5 1110.4,1916.4 1112.8,1917.3 1115.1,1918.2 1117.5,1919.1 1119.8,1920.0 1122.2,1920.8 1124.5,1921.6 1126.9,1922.5 1129.2,1923.3 1131.6,1924.1 1134.0,1924.9 1136.3,1925.7 1138.7,1926.5 1141.1,1927.2 1143.5,1928.0 1145.9,1928.7 1148.3,1929.5 1150.7,1930.2 1153.1,1930.9 1155.4,1931.6 1157.8,1932.3 1160.2,1933.0 1162.6,1933.7 1165.1,1934.4 1167.5,1935.1 1169.9,1935.7 1172.3,1936.4 1174.7,1937.0 1177.1,1937.7 1179.5,1938.3 1181.9,1938.9 1184.4,1939.6 1186.8,1940.2 1189.2,1940.8 1191.6,1941.4 1194.1,1942.0 1196.5,1942.5 1198.9,1943.1 1201.3,1943.7 1203.8,1944.2 1206.2,1944.8 1208.6,1945.3 1211.1,1945.9 1213.5,1946.4 1216.0,1946.9 1218.4,1947.4 1220.8,1948.0 1223.3,1948.5 1225.7,1949.0 1228.2,1949.5 1230.6,1949.9 1233.1,1950.4 1235.5,1950.9 1238.0,1951.4 1240.4,1951.8 1242.9,1952.3 1245.3,1952.7 1247.8,1953.2 1250.3,1953.6 1252.7,1954.1 1255.2,1954.5 1257.6,1954.9 1260.1,1955.4 1262.6,1955.8 1265.0,1956.2 1267.5,1956.6 1270.0,1957.0 1272.4,1957.4 1274.9,1957.8 1277.4,1958.2 1279.8,1958.6 1282.3,1958.9 1284.8,1959.3 1287.2,1959.7 1289.7,1960.0 1292.2,1960.4 1294.7,1960.8 1297.1,1961.1 1299.6,1961.5 1302.1,1961.8 1304.6,1962.2 1307.0,1962.5 1309.5,1962.8 1312.0,1963.2 1314.5,1963.5 1316.9,1963.8 1319.4,1964.2 1321.9,1964.5 1324.4,1964.8 1326.9,1965.1 1329.3,1965.4 1331.8,1965.7 1334.3,1966.0 1336.8,1966.3 1339.2,1966.6 1341.7,1966.9 1344.2,1967.2 1346.7,1967.5 1349.2,1967.8 1351.7,1968.1 1354.1,1968.4 1356.6,1968.7 1359.1,1969.0 1361.6,1969.2 1364.1,1969.5 1366.5,1969.8 1369.0,1970.1 1371.5,1970.3 1374.0,1970.6 1376.5,1970.8 1379.0,1971.1 1381.4,1971.4 1383.9,1971.6 1386.4,1971.9 1388.9,1972.1 1391.4,1972.4 1393.9,1972.6 1396.4,1972.9 1398.8,1973.1 1401.3,1973.3 1403.8,1973.6 1406.3,1973.8 1408.8,1974.0 1411.3,1974.3 1413.8,1974.5 1416.2,1974.7 1418.7,1974.9 1421.2,1975.2 1423.7,1975.4 1426.2,1975.6 1428.7,1975.8 1431.2,1976.0 1433.7,1976.2 1436.2,1976.4 1438.6,1976.7 1441.1,1976.9 1443.6,1977.1 1446.1,1977.3 1448.6,1977.5 1451.1,1977.7 1453.6,1977.8 1456.1,1978.0 1458.6,1978.2 1461.0,1978.4 1463.5,1978.6 1466.0,1978.8 1468.5,1979.0 1471.0,1979.2 1473.5,1979.3 1476.0,1979.5 1478.5,1979.7 1481.0,1979.9 1483.5,1980.0 1486.0,1980.2 1488.4,1980.4 1490.9,1980.5 1493.4,1980.7 1495.9,1980.9 1498.4,1981.0 1500.9,1981.2 1503.4,1981.4 1505.9,1981.5 1508.4,1981.7 1510.9,1981.8 1513.4,1982.0 1515.9,1982.1 1518.4,1982.3 1520.9,1982.4 1523.4,1982.6 1525.8,1982.7 1528.3,1982.9 1530.8,1983.0 1533.3,1983.2 1535.8,1983.3 1538.3,1983.4 1540.8,1983.6 1543.3,1983.7 1545.8,1983.9 1548.3,1984.0 1550.8,1984.1 1553.3,1984.3 1555.8,1984.4 1558.3,1984.5 1560.8,1984.7 1563.3,1984.8 1565.8,1984.9 1568.3,1985.0 1570.8,1985.2 1573.2,1985.3 1575.7,1985.4 1578.2,1985.5 1580.7,1985.6 1583.2,1985.8 1585.7,1985.9 1588.2,1986.0 1590.7,1986.1 1593.2,1986.2 1595.7,1986.3 1598.2,1986.5 1600.7,1986.6 1603.2,1986.7 1605.7,1986.8 1608.2,1986.9 1610.7,1987.0 1613.2,1987.1 1615.7,1987.2 1618.2,1987.3 1620.7,1987.4 1623.2,1987.5 1625.7,1987.7 1628.2,1987.8 1630.7,1987.9 1633.2,1988.0 1635.7,1988.1 1638.1,1988.2 1640.6,1988.3 1643.1,1988.4 1645.6,1988.5 1648.1,1988.6 1650.6,1988.7 1653.1,1988.8 1655.6,1988.9 1658.1,1989.0 1660.6,1989.1 1663.1,1989.2 1665.6,1989.3 1668.1,1989.4 1670.6,1989.4 1673.1,1989.5 1675.6,1989.6 1678.1,1989.7 1680.6,1989.8 1683.1,1989.9 1685.6,1990.0 1688.1,1990.1 1690.6,1990.2 1693.1,1990.3 1695.6,1990.4 1698.1,1990.5 1700.6,1990.6 1703.1,1990.7 1705.6,1990.7 1708.1,1990.8 1710.6,1990.9 1713.1,1991.0 1715.6,1991.1 1718.0,1991.2 1720.5,1991.3 1723.0,1991.4 1725.5,1991.4 1728.0,1991.5 1730.5,1991.6 1733.0,1991.7 1735.5,1991.8 1738.0,1991.9 1740.5,1992.0 1743.0,1992.0 1745.5,1992.1 1748.0,1992.2 1750.5,1992.3 1753.0,1992.4 1755.5,1992.5 1758.0,1992.5 1760.5,1992.6 1763.0,1992.7 1765.5,1992.8 1768.0,1992.9 1770.5,1992.9 1773.0,1993.0 1775.5,1993.1 1778.0,1993.2 1780.5,1993.3 1783.0,1993.3 1785.5,1993.4 1788.0,1993.5 1790.5,1993.6 1793.0,1993.6 1795.5,1993.7 1797.9,1993.8 1800.4,1993.9 1802.9,1994.0 1805.4,1994.0 1807.9,1994.1 1810.4,1994.2 1812.9,1994.3 1815.4,1994.3 1817.9,1994.4 1820.4,1994.5 1822.9,1994.5 1825.4,1994.6 1827.9,1994.7 1830.4,1994.8 1832.9,1994.8 1835.4,1994.9 1837.9,1995.0 1840.4,1995.0 1842.9,1995.1 1845.4,1995.2 1847.9,1995.3 1850.4,1995.3 1852.9,1995.4 1855.4,1995.5 1857.9,1995.5 1860.4,1995.6 1862.9,1995.7 1865.4,1995.7 1867.9,1995.8 1870.4,1995.9 1872.9,1995.9 1875.4,1996.0 1877.9,1996.1 1880.3,1996.1 1882.8,1996.2 1885.3,1996.3 1887.8,1996.3 1890.3,1996.4 1892.8,1996.4 1895.3,1996.5 1897.8,1996.6 1900.3,1996.6 1902.8,1996.7 1905.3,1996.8 1907.8,1996.8 1910.3,1996.9 1912.8,1996.9 1915.3,1997.0 1917.8,1997.1 1920.3,1997.1 1922.8,1997.2 1925.3,1997.2 1927.8,1997.3 1930.3,1997.4 1932.8,1997.4 1935.3,1997.5 1937.8,1997.5 1940.3,1997.6 1942.8,1997.7 1945.3,1997.7 1947.8,1997.8 1950.3,1997.8 1952.8,1997.9 1955.3,1997.9 1957.8,1998.0 1960.3,1998.0 1962.8,1998.1 1965.3,1998.2 1967.7,1998.2 1970.2,1998.3 1972.7,1998.3 1975.2,1998.4 1977.7,1998.4 1980.2,1998.5 1982.7,1998.5 1985.2,1998.6 1987.7,1998.6 1990.2,1998.7 1992.7,1998.7 1995.2,1998.8 1997.7,1998.8 2000.2,1998.9 2002.7,1999.0 2005.2,1999.0 2007.7,1999.1 2010.2,1999.1 2012.7,1999.2 2015.2,1999.2 2017.7,1999.3 2020.2,1999.3 2022.7,1999.4 2025.2,1999.4 2027.7,1999.4 2030.2,1999.5 2032.7,1999.5 2035.2,1999.6 2037.7,1999.6 2040.2,1999.7 2042.7,1999.7 2045.2,1999.8 2047.7,1999.8 2050.2,1999.9 2052.7,1999.9 2055.2,2000.0 2057.7,2000.0 2060.2,2000.1 2062.7,2000.1 2065.1,2000.1 2067.6,2000.2 2070.1,2000.2 2072.6,2000.3 2075.1,2000.3 2077.6,2000.4 2080.1,2000.4 2082.6,2000.5 2085.1,2000.5 2087.6,2000.5 2090.1,2000.6 2092.6,2000.6 2095.1,2000.7 2097.6,2000.7 2100.1,2000.8 2102.6,2000.8 2105.1,2000.8 2107.6,2000.9 2110.1,2000.9 2112.6,2001.0 2115.1,2001.0 2117.6,2001.0 2120.1,2001.1 2122.6,2001.1 2125.1,2001.2 2127.6,2001.2 2130.1,2001.2 2132.6,2001.3 2135.1,2001.3 2137.6,2001.4 2140.1,2001.4 2142.6,2001.4 2145.1,2001.5 2147.6,2001.5 2150.1,2001.6 2152.6,2001.6 2155.1,2001.6 2157.6,2001.7 2160.1,2001.7 2162.6,2001.7 2165.1,2001.8 2167.6,2001.8 2170.1,2001.9 2172.6,2001.9 2175.1,2001.9 2177.6,2002.0 2180.1,2002.0 2182.5,2002.0 2185.0,2002.1 2187.5,2002.1 2190.0,2002.1 2192.5,2002.2 2195.0,2002.2 2197.5,2002.2 2200.0,2002.3 2202.5,2002.3 2205.0,2002.3 2207.5,2002.4 2210.0,2002.4 2212.5,2002.4 2215.0,2002.5 2217.5,2002.5 2220.0,2002.5 2222.5,2002.6 2225.0,2002.6 2227.5,2002.6 2230.0,2002.7 2232.5,2002.7 2235.0,2002.7 2237.5,2002.8 2240.0,2002.8 2242.5,2002.8 2245.0,2002.9 2247.5,2002.9 2250.0,2002.9 2252.5,2003.0 2255.0,2003.0"/>
<path stroke="#000000" d="M228.0,1775.9L229.8,1774.0 231.8,1772.5 233.9,1771.3 236.0,1770.5 238.1,1769.9 240.4,1769.5 242.7,1769.4 245.0,1769.4 247.4,1769.6 249.8,1769.9 252.2,1770.3 254.6,1770.7 257.0,1771.2 259.5,1771.7 261.9,1772.2 264.4,1772.7 266.8,1773.3 269.3,1773.9 271.7,1774.5 274.2,1775.2 276.6,1775.9 279.1,1776.6 281.5,1777.3 283.9,1778.1 286.4,1778.9 288.8,1779.7 291.2,1780.5 293.6,1781.4 296.0,1782.3 298.3,1783.2 300.7,1784.1 303.0,1785.0 305.3,1786.0 307.6,1787.0 309.9,1788.0 312.2,1789.0 314.5,1790.0 316.8,1791.1 319.0,1792.1 321.3,1793.2 323.6,1794.2 325.8,1795.3 328.1,1796.3 330.3,1797.4 332.5,1798.4 334.8,1799.5 337.0,1800.5 339.3,1801.5 341.5,1802.6 343.8,1803.5 346.1,1804.5 348.3,1805.5 350.6,1806.4 352.9,1807.3 355.2,1808.2 357.6,1809.1 359.9,1809.9 362.2,1810.7 364.6,1811.5 366.9,1812.3 369.3,1813.0 371.7,1813.8 374.1,1814.5 376.5,1815.2 378.9,1815.9 381.3,1816.6 383.7,1817.2 386.1,1817.9 388.5,1818.6 391.0,1819.3 393.4,1820.0 395.8,1820.7 398.2,1821.4 400.6,1822.1 403.0,1822.8 405.4,1823.6 407.8,1824.3 410.2,1825.1 412.5,1825.9 414.9,1826.8 417.2,1827.7 419.6,1828.5 421.9,1829.5 424.2,1830.4 426.5,1831.4 428.8,1832.4 431.1,1833.4 433.4,1834.5 435.7,1835.5 437.9,1836.6 440.2,1837.7 442.4,1838.8 444.6,1840.0 446.9,1841.1 449.1,1842.3 451.3,1843.5 453.5,1844.7 455.7,1845.9 457.9,1847.1 460.0,1848.4 462.2,1849.6 464.3,1850.9 466.5,1852.1 468.6,1853.4 470.8,1854.7 472.9,1856.0 475.0,1857.3 477.1,1858.6 479.2,1859.9 481.3,1861.2 483.4,1862.5 485.5,1863.8 487.6,1865.2 489.7,1866.5 491.8,1867.8 493.9,1869.1 496.0,1870.5 498.1,1871.8 500.2,1873.1 502.3,1874.4 504.4,1875.7 506.5,1877.0 508.6,1878.4 510.7,1879.7 512.9,1880.9 515.0,1882.2 517.1,1883.5 519.3,1884.8 521.4,1886.1 523.6,1887.3 525.8,1888.6 527.9,1889.8 530.1,1891.0 532.3,1892.2 534.6,1893.4 536.8,1894.6 539.0,1895.8 541.3,1896.9 543.6,1898.1 545.8,1899.2 548.1,1900.3 550.5,1901.4 552.8,1902.4 555.1,1903.5 557.5,1904.5 559.8,1905.4 562.2,1906.4 564.5,1907.3 566.9,1908.2 569.3,1909.0 571.7,1909.8 574.1,1910.6 576.5,1911.3 578.9,1912.0 581.3,1912.6 583.8,1913.2 586.2,1913.7 588.6,1914.2 591.0,1914.6 593.5,1915.0 595.9,1915.3 598.3,1915.5 600.7,1915.7 603.2,1915.9 605.6,1915.9 608.0,1915.9 610.4,1915.8 612.8,1915.7 615.2,1915.5 617.7,1915.2 620.1,1914.9 622.4,1914.5 624.8,1914.0 627.2,1913.5 629.6,1912.9 632.0,1912.3 634.4,1911.7 636.7,1910.9 639.1,1910.2 641.5,1909.4 643.8,1908.6 646.2,1907.7 648.6,1906.8 650.9,1905.9 653.3,1904.9 655.6,1903.9 657.9,1902.9 660.3,1901.9 662.6,1900.8 664.9,1899.7 667.3,1898.6 669.6,1897.5 671.9,1896.4 674.2,1895.3 676.5,1894.2 678.8,1893.1 681.1,1891.9 683.4,1890.8 685.7,1889.7 688.0,1888.6 690.3,1887.5 692.6,1886.4 694.9,1885.3 697.2,1884.2 699.4,1883.2 701.7,1882.1 704.0,1881.1 706.2,1880.1 708.5,1879.1 710.8,1878.1 713.0,1877.1 715.3,1876.1 717.6,1875.1 719.8,1874.1 722.1,1873.1 724.3,1872.1 726.6,1871.2 728.8,1870.2 731.1,1869.2 733.3,1868.2 735.6,1867.3 737.8,1866.3 740.1,1865.3 742.4,1864.3 744.6,1863.4 746.9,1862.4 749.1,1861.4 751.4,1860.4 753.6,1859.4 755.9,1858.4 758.2,1857.4 760.4,1856.3 762.7,1855.3 765.0,1854.2 767.3,1853.2 769.5,1852.1 771.8,1851.0 774.1,1850.0 776.4,1848.9 778.7,1847.8 781.0,1846.8 783.3,1845.7 785.6,1844.7 788.0,1843.7 790.3,1842.7 792.7,1841.7 795.0,1840.7 797.4,1839.8 799.7,1838.9 802.1,1838.0 804.5,1837.2 806.9,1836.4 809.3,1835.7 811.7,1835.0 814.2,1834.4 816.6,1833.8 819.0,1833.4 821.4,1833.0 823.8,1832.7 826.3,1832.5 828.7,1832.4 831.1,1832.4 833.5,1832.5 835.9,1832.7 838.3,1833.1 840.7,1833.5 843.1,1834.0 845.5,1834.7 847.8,1835.4 850.2,1836.2 852.6,1837.1 854.9,1838.0 857.2,1839.0 859.6,1840.0 861.9,1841.1 864.2,1842.2 866.5,1843.3 868.8,1844.4 871.1,1845.5 873.4,1846.7 875.7,1847.8 877.9,1848.9 880.2,1850.0 882.4,1851.1 884.6,1852.3 886.9,1853.4 889.1,1854.5 891.3,1855.7 893.5,1856.8 895.7,1857.9 897.9,1859.1 900.1,1860.3 902.3,1861.5 904.4,1862.7 906.6,1863.9 908.8,1865.1 910.9,1866.4 913.1,1867.6 915.2,1868.9 917.4,1870.2 919.5,1871.5 921.6,1872.8 923.8,1874.1 925.9,1875.4 928.1,1876.7 930.3,1878.0 932.4,1879.2 934.6,1880.5 936.8,1881.7 938.9,1883.0 941.1,1884.2 943.3,1885.3 945.6,1886.5 947.8,1887.6 950.0,1888.7 952.3,1889.7 954.5,1890.8 956.8,1891.8 959.1,1892.8 961.4,1893.8 963.7,1894.7 966.0,1895.7 968.3,1896.6 970.6,1897.5 972.9,1898.4 975.2,1899.3 977.5,1900.3 979.8,1901.2 982.1,1902.1 984.5,1903.0 986.8,1903.9 989.1,1904.8 991.4,1905.8 993.7,1906.7 996.0,1907.7 998.3,1908.6 1000.6,1909.6 1002.9,1910.6 1005.2,1911.6 1007.5,1912.5 1009.8,1913.5 1012.1,1914.5 1014.4,1915.5 1016.7,1916.5 1019.0,1917.5 1021.3,1918.5 1023.6,1919.5 1025.9,1920.6 1028.2,1921.6 1030.5,1922.6 1032.8,1923.5 1035.1,1924.5 1037.4,1925.5 1039.8,1926.5 1042.1,1927.5 1044.4,1928.4 1046.7,1929.4 1049.0,1930.4 1051.3,1931.3 1053.6,1932.2 1056.0,1933.2 1058.3,1934.1 1060.6,1935.0 1063.0,1935.8 1065.3,1936.7 1067.7,1937.6 1070.0,1938.4 1072.4,1939.2 1074.7,1940.0 1077.1,1940.8 1079.5,1941.6 1081.9,1942.3 1084.2,1943.1 1086.6,1943.8 1089.0,1944.5 1091.4,1945.2 1093.8,1945.9 1096.2,1946.6 1098.6,1947.2 1101.0,1947.9 1103.4,1948.5 1105.8,1949.1 1108.3,1949.7 1110.7,1950.3 1113.1,1950.9 1115.5,1951.5 1118.0,1952.0 1120.4,1952.6 1122.9,1953.1 1125.3,1953.6 1127.7,1954.2 1130.2,1954.7 1132.6,1955.2 1135.1,1955.6 1137.5,1956.1 1140.0,1956.6 1142.4,1957.1 1144.9,1957.5 1147.3,1958.0 1149.8,1958.4 1152.3,1958.9 1154.7,1959.3 1157.2,1959.7 1159.6,1960.1 1162.1,1960.5 1164.6,1961.0 1167.0,1961.4 1169.5,1961.8 1172.0,1962.1 1174.4,1962.5 1176.9,1962.9 1179.4,1963.3 1181.8,1963.7 1184.3,1964.0 1186.8,1964.4 1189.2,1964.7 1191.7,1965.1 1194.2,1965.4 1196.7,1965.8 1199.1,1966.1 1201.6,1966.4 1204.1,1966.8 1206.6,1967.1 1209.0,1967.4 1211.5,1967.7 1214.0,1968.0 1216.5,1968.3 1219.0,1968.6 1221.4,1968.9 1223.9,1969.2 1226.4,1969.5 1228.9,1969.8 1231.4,1970.0 1233.8,1970.3 1236.3,1970.6 1238.8,1970.9 1241.3,1971.1 1243.8,1971.4 1246.3,1971.6 1248.7,1971.9 1251.2,1972.1 1253.7,1972.4 1256.2,1972.6 1258.7,1972.9 1261.2,1973.1 1263.7,1973.3 1266.2,1973.6 1268.6,1973.8 1271.1,1974.0 1273.6,1974.3 1276.1,1974.5 1278.6,1974.7 1281.1,1974.9 1283.6,1975.1 1286.1,1975.3 1288.6,1975.6 1291.1,1975.8 1293.5,1976.0 1296.0,1976.2 1298.5,1976.4 1301.0,1976.6 1303.5,1976.8 1306.0,1977.0 1308.5,1977.2 1311.0,1977.4 1313.5,1977.6 1316.0,1977.8 1318.5,1977.9 1321.0,1978.1 1323.5,1978.3 1325.9,1978.5 1328.4,1978.7 1330.9,1978.9 1333.4,1979.1 1335.9,1979.2 1338.4,1979.4 1340.9,1979.6 1343.4,1979.8 1345.9,1980.0 1348.4,1980.1 1350.9,1980.3 1353.4,1980.5 1355.9,1980.7 1358.4,1980.8 1360.9,1981.0 1363.3,1981.2 1365.8,1981.4 1368.3,1981.5 1370.8,1981.7 1373.3,1981.9 1375.8,1982.0 1378.3,1982.2 1380.8,1982.4 1383.3,1982.5 1385.8,1982.7 1388.3,1982.9 1390.8,1983.0 1393.3,1983.2 1395.8,1983.3 1398.3,1983.5 1400.8,1983.7 1403.3,1983.8 1405.7,1984.0 1408.2,1984.1 1410.7,1984.3 1413.2,1984.4 1415.7,1984.6 1418.2,1984.8 1420.7,1984.9 1423.2,1985.1 1425.7,1985.2 1428.2,1985.4 1430.7,1985.5 1433.2,1985.6 1435.7,1985.8 1438.2,1985.9 1440.7,1986.1 1443.2,1986.2 1445.7,1986.4 1448.2,1986.5 1450.7,1986.7 1453.1,1986.8 1455.6,1986.9 1458.1,1987.1 1460.6,1987.2 1463.1,1987.3 1465.6,1987.5 1468.1,1987.6 1470.6,1987.8 1473.1,1987.9 1475.6,1988.0 1478.1,1988.2 1480.6,1988.3 1483.1,1988.4 1485.6,1988.5 1488.1,1988.7 1490.6,1988.8 1493.1,1988.9 1495.6,1989.1 1498.1,1989.2 1500.6,1989.3 1503.1,1989.4 1505.5,1989.6 1508.0,1989.7 1510.5,1989.8 1513.0,1989.9 1515.5,1990.0 1518.0,1990.2 1520.5,1990.3 1523.0,1990.4 1525.5,1990.5 1528.0,1990.6 1530.5,1990.7 1533.0,1990.9 1535.5,1991.0 1538.0,1991.1 1540.5,1991.2 1543.0,1991.3 1545.5,1991.4 1548.0,1991.5 1550.5,1991.6 1553.0,1991.7 1555.5,1991.9 1558.0,1992.0 1560.5,1992.1 1563.0,1992.2 1565.5,1992.3 1567.9,1992.4 1570.4,1992.5 1572.9,1992.6 1575.4,1992.7 1577.9,1992.8 1580.4,1992.9 1582.9,1993.0 1585.4,1993.1 1587.9,1993.2 1590.4,1993.3 1592.9,1993.4 1595.4,1993.5 1597.9,1993.6 1600.4,1993.7 1602.9,1993.8 1605.4,1993.9 1607.9,1994.0 1610.4,1994.0 1612.9,1994.1 1615.4,1994.2 1617.9,1994.3 1620.4,1994.4 1622.9,1994.5 1625.4,1994.6 1627.9,1994.7 1630.4,1994.8 1632.9,1994.9 1635.4,1994.9 1637.9,1995.0 1640.4,1995.1 1642.9,1995.2 1645.3,1995.3 1647.8,1995.4 1650.3,1995.4 1652.8,1995.5 1655.3,1995.6 1657.8,1995.7 1660.3,1995.8 1662.8,1995.8 1665.3,1995.9 1667.8,1996.0 1670.3,1996.1 1672.8,1996.1 1675.3,1996.2 1677.8,1996.3 1680.3,1996.4 1682.8,1996.4 1685.3,1996.5 1687.8,1996.6 1690.3,1996.7 1692.8,1996.7 1695.3,1996.8 1697.8,1996.9 1700.3,1997.0 1702.8,1997.0 1705.3,1997.1 1707.8,1997.2 1710.3,1997.2 1712.8,1997.3 1715.3,1997.4 1717.8,1997.4 1720.3,1997.5 1722.8,1997.6 1725.3,1997.6 1727.8,1997.7 1730.3,1997.7 1732.8,1997.8 1735.3,1997.9 1737.8,1997.9 1740.3,1998.0 1742.8,1998.1 1745.3,1998.1 1747.8,1998.2 1750.2,1998.2 1752.7,1998.3 1755.2,1998.3 1757.7,1998.4 1760.2,1998.5 1762.7,1998.5 1765.2,1998.6 1767.7,1998.6 1770.2,1998.7 1772.7,1998.7 1775.2,1998.8 1777.7,1998.8 1780.2,1998.9 1782.7,1998.9 1785.2,1999.0 1787.7,1999.1 1790.2,1999.1 1792.7,1999.2 1795.2,1999.2 1797.7,1999.3 1800.2,1999.3 1802.7,1999.3 1805.2,1999.4 1807.7,1999.4 1810.2,1999.5 1812.7,1999.5 1815.2,1999.6 1817.7,1999.6 1820.2,1999.7 1822.7,1999.7 1825.2,1999.8 1827.7,1999.8 1830.2,1999.9 1832.7,1999.9 1835.2,1999.9 1837.7,2000.0 1840.2,2000.0 1842.7,2000.1 1845.2,2000.1 1847.7,2000.1 1850.2,2000.2 1852.7,2000.2 1855.2,2000.3 1857.7,2000.3 1860.2,2000.3 1862.7,2000.4 1865.2,2000.4 1867.7,2000.5 1870.2,2000.5 1872.7,2000.5 1875.2,2000.6 1877.7,2000.6 1880.2,2000.6 1882.7,2000.7 1885.2,2000.7 1887.7,2000.7 1890.2,2000.8 1892.7,2000.8 1895.2,2000.8 1897.7,2000.9 1900.2,2000.9 1902.7,2000.9 1905.2,2001.0 1907.7,2001.0 1910.1,2001.0 1912.6,2001.1 1915.1,2001.1 1917.6,2001.1 1920.1,2001.1 1922.6,2001.2 1925.1,2001.2 1927.6,2001.2 1930.1,2001.3 1932.6,2001.3 1935.1,2001.3 1937.6,2001.3 1940.1,2001.4 1942.6,2001.4 1945.1,2001.4 1947.6,2001.4 1950.1,2001.5 1952.6,2001.5 1955.1,2001.5 1957.6,2001.5 1960.1,2001.6 1962.6,2001.6 1965.1,2001.6 1967.6,2001.6 1970.1,2001.7 1972.6,2001.7 1975.1,2001.7 1977.6,2001.7 1980.1,2001.7 1982.6,2001.8 1985.1,2001.8 1987.6,2001.8 1990.1,2001.8 1992.6,2001.8 1995.1,2001.9 1997.6,2001.9 2000.1,2001.9 2002.6,2001.9 2005.1,2001.9 2007.6,2002.0 2010.1,2002.0 2012.6,2002.0 2015.1,2002.0 2017.6,2002.0 2020.1,2002.1 2022.6,2002.1 2025.1,2002.1 2027.6,2002.1 2030.1,2002.1 2032.6,2002.1 2035.1,2002.2 2037.6,2002.2 2040.1,2002.2 2042.6,2002.2 2045.1,2002.2 2047.6,2002.2 2050.1,2002.2 2052.6,2002.3 2055.1,2002.3 2057.6,2002.3 2060.1,2002.3 2062.6,2002.3 2065.1,2002.3 2067.6,2002.3 2070.1,2002.4 2072.6,2002.4 2075.1,2002.4 2077.6,2002.4 2080.1,2002.4 2082.6,2002.4 2085.1,2002.4 2087.6,2002.4 2090.1,2002.5 2092.6,2002.5 2095.1,2002.5 2097.6,2002.5 2100.1,2002.5 2102.6,2002.5 2105.1,2002.5 2107.6,2002.5 2110.1,2002.5 2112.6,2002.6 2115.1,2002.6 2117.6,2002.6 2120.1,2002.6 2122.6,2002.6 2125.1,2002.6 2127.6,2002.6 2130.1,2002.6 2132.6,2002.6 2135.1,2002.6 2137.6,2002.7 2140.1,2002.7 2142.6,2002.7 2145.1,2002.7 2147.6,2002.7 2150.1,2002.7 2152.5,2002.7 2155.0,2002.7 2157.5,2002.7 2160.0,2002.7 2162.5,2002.7 2165.0,2002.7 2167.5,2002.8 2170.0,2002.8 2172.5,2002.8 2175.0,2002.8 2177.5,2002.8 2180.0,2002.8 2182.5,2002.8 2185.0,2002.8 2187.5,2002.8 2190.0,2002.8 2192.5,2002.8 2195.0,2002.8 2197.5,2002.8 2200.0,2002.9 2202.5,2002.9 2205.0,2002.9 2207.5,2002.9 2210.0,2002.9 2212.5,2002.9 2215.0,2002.9 2217.5,2002.9 2220.0,2002.9 2222.5,2002.9 2225.0,2002.9 2227.5,2002.9 2230.0,2002.9 2232.5,2002.9 2235.0,2002.9 2237.5,2003.0 2240.0,2003.0 2242.5,2003.0 2245.0,2003.0 2247.5,2003.0 2250.0,2003.0 2252.5,2003.0 2255.0,2003.0"/>
</g>
<text x="227" y="2109" font-size="76" text-anchor="middle">200</text>
<text x="517" y="2109" font-size="76" text-anchor="middle">300</text>
<text x="807" y="2109" font-size="76" text-anchor="middle">400</text>
<text x="1097" y="2109" font-size="76" text-anchor="middle">500</text>
<text x="1387" y="2109" font-size="76" text-anchor="middle">600</text>
<text x="1677" y="2109" font-size="76" text-anchor="middle">700</text>
<text x="1967" y="2109" font-size="76" text-anchor="middle">800</text>
<text x="2257" y="2109" font-size="76" text-anchor="middle">900</text>
<text x="206" y="2052" font-size="76" text-anchor="end">0</text>
<text x="206" y="1801.3" font-size="76" text-anchor="end" textLength="90" lengthAdjust="spacing">0.2</text>
<text x="206" y="1552" font-size="76" text-anchor="end" textLength="90" lengthAdjust="spacing">0.4</text>
<text x="1227.5" y="2199.6" font-size="81" text-anchor="middle">Wavelength (nm)</text>
<text transform="translate(66,1787) rotate(-90)" font-size="81" text-anchor="middle">R</text>
<text x="260" y="1589" font-size="69" font-weight="bold" style="fill:#c0391b">(c)</text>
<line x1="1687.9" y1="1604.9" x2="1895.5" y2="1604.9" stroke="#1d7a1d" stroke-width="4.6"/>
<text x="1913.6" y="1627.7" font-size="68" textLength="218.5" lengthAdjust="spacing">20 mins</text>
<line x1="1687.9" y1="1705.3" x2="1895.5" y2="1705.3" stroke="#b8282a" stroke-width="4.6"/>
<text x="1913.6" y="1728.2" font-size="68" textLength="218.5" lengthAdjust="spacing">15 mins</text>
<line x1="1687.9" y1="1806.9" x2="1895.5" y2="1806.9" stroke="#16169a" stroke-width="4.6"/>
<text x="1913.6" y="1828.7" font-size="68" textLength="218.5" lengthAdjust="spacing">10 mins</text>
<line x1="1687.9" y1="1906.5" x2="1895.5" y2="1906.5" stroke="#000000" stroke-width="4.6"/>
<text x="1930.6" y="1929.2" font-size="68" textLength="185" lengthAdjust="spacing">5 mins</text>
</g>
</svg></body></html>
